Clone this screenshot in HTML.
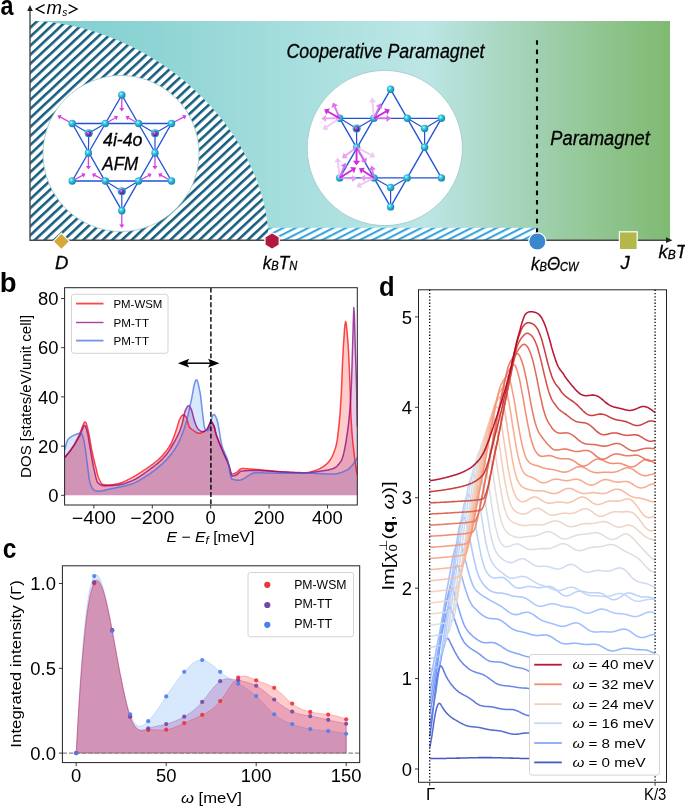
<!DOCTYPE html>
<html><head><meta charset="utf-8"><title>figure</title>
<style>html,body{margin:0;padding:0;background:#fff;}svg{display:block;will-change:transform;}</style>
</head><body>
<svg width="685" height="812" viewBox="0 0 685 812" font-family='"Liberation Sans", sans-serif'>
<defs>
<linearGradient id="bgA" x1="30" y1="0" x2="670" y2="0" gradientUnits="userSpaceOnUse">
<stop offset="0" stop-color="#80cfd1"/>
<stop offset="0.102" stop-color="#86d1d3"/>
<stop offset="0.195" stop-color="#8fd4d4"/>
<stop offset="0.43" stop-color="#a8dfde"/>
<stop offset="0.617" stop-color="#bce6e5"/>
<stop offset="0.695" stop-color="#b0dcd0"/>
<stop offset="0.773" stop-color="#a3d3b6"/>
<stop offset="0.883" stop-color="#92c693"/>
<stop offset="1" stop-color="#7fba72"/>
</linearGradient>
<pattern id="hatchD" width="6.6" height="6.6" patternUnits="userSpaceOnUse" patternTransform="rotate(-43)">
<rect width="6.6" height="6.6" fill="#fff"/><rect y="0" width="6.6" height="2.55" fill="#155d80"/></pattern>
<pattern id="hatchL" width="5.7" height="5.7" patternUnits="userSpaceOnUse" patternTransform="rotate(-27)">
<rect width="5.7" height="5.7" fill="#fff"/><rect y="0" width="5.7" height="2.1" fill="#36a6de"/></pattern>
<radialGradient id="ballc" cx="0.38" cy="0.35" r="0.7">
<stop offset="0" stop-color="#c8f6ff"/><stop offset="0.35" stop-color="#38c2e0"/><stop offset="1" stop-color="#0a7fa6"/></radialGradient>
<radialGradient id="ballp" cx="0.38" cy="0.35" r="0.7">
<stop offset="0" stop-color="#e6a8ff"/><stop offset="0.4" stop-color="#9a2fc8"/><stop offset="1" stop-color="#5c1480"/></radialGradient>
</defs>
<rect width="685" height="812" fill="#fff"/>
<rect x="30" y="21" width="640" height="219" fill="url(#bgA)"/>
<path d="M30 21L32.2 21 34.7 21.1 37.3 21.2 39.9 21.3 42.6 21.5 45.4 21.7 48.1 22 50.9 22.3 53.8 22.7 56.6 23.1 59.5 23.5 62.4 24 65.3 24.5 68.2 25 71.1 25.6 74 26.3 77 26.9 79.9 27.6 82.9 28.4 85.8 29.2 88.8 30 91.7 30.9 94.7 31.8 97.6 32.8 100.5 33.7 103.5 34.8 106.4 35.8 109.3 36.9 112.2 38.1 115.2 39.3 118.1 40.5 121 41.7 123.8 43 126.7 44.3 129.6 45.7 132.4 47.1 135.2 48.5 138.1 50 140.9 51.5 143.7 53.1 146.4 54.6 149.2 56.2 151.9 57.9 154.6 59.6 157.3 61.3 160 63 162.7 64.8 165.3 66.6 167.9 68.4 170.5 70.3 173.1 72.2 175.7 74.1 178.2 76 180.7 78 183.2 80 185.6 82.1 188 84.1 190.4 86.2 192.8 88.4 195.1 90.5 197.4 92.7 199.7 94.9 202 97.1 204.2 99.4 206.4 101.6 208.6 103.9 210.7 106.2 212.8 108.6 214.8 110.9 216.9 113.3 218.9 115.7 220.8 118.2 222.8 120.6 224.7 123.1 226.5 125.5 228.3 128 230.1 130.6 231.9 133.1 233.6 135.6 235.3 138.2 236.9 140.8 238.5 143.4 240.1 146 241.6 148.6 243.1 151.2 244.5 153.8 245.9 156.5 247.3 159.1 248.6 161.8 249.9 164.5 251.1 167.2 252.3 169.8 253.5 172.5 254.6 175.2 255.7 177.9 256.7 180.6 257.7 183.3 258.7 186 259.6 188.8 260.4 191.5 261.3 194.2 262 196.9 262.8 199.6 263.5 202.2 264.1 204.9 264.7 207.6 265.3 210.3 265.8 212.9 266.3 215.5 266.7 218.2 267.1 220.8 267.4 223.3 267.7 225.9 267.9 228.4 268.1 230.9 268.3 233.3 268.4 235.7 268.5 238 268.5 240L30 240Z" fill="url(#hatchD)"/>
<rect x="268" y="227.8" width="269" height="12.4" fill="url(#hatchL)"/>
<circle cx="121" cy="153.5" r="78" fill="#fff" stroke="#9cc9c8" stroke-width="0.8"/>
<circle cx="384.8" cy="148" r="77.6" fill="#fff" stroke="#9cc9c8" stroke-width="0.8"/>
<line x1="537" y1="40.2" x2="537" y2="236" stroke="#000" stroke-width="2.1" stroke-dasharray="4.6 4.8"/>
<line x1="30" y1="240.2" x2="669" y2="240.2" stroke="#4a4a4a" stroke-width="1.4"/>
<path d="M672.5 240.2L666 237.3L666 243.1Z" fill="#222"/>
<line x1="30" y1="241" x2="30" y2="9" stroke="#4a4a4a" stroke-width="1.4"/>
<path d="M30 5L27.2 11L32.8 11Z" fill="#222"/>
<path d="M61.4 233.2L69.6 241.4L61.4 249.6L53.2 241.4Z" fill="#d8a73a" stroke="#fff" stroke-width="1.2"/>
<polygon points="272.1,232.8 279.2,236.9 279.2,245.1 272.1,249.2 265,245.1 265,236.9" fill="#b0193f" stroke="#fff" stroke-width="1.2"/>
<circle cx="537.3" cy="241.5" r="8.6" fill="#3a86cf" stroke="#fff" stroke-width="1.2"/>
<rect x="619.4" y="231.8" width="17.8" height="17.8" fill="#b4b84b" stroke="#fff" stroke-width="1.2"/>
<text x="0.5" y="14.7" font-size="27" text-anchor="start" font-weight="bold" fill="#000" textLength="13" lengthAdjust="spacingAndGlyphs" >a</text>
<path d="M44.6 4.6L36.2 9L44.6 13.4M68.6 4.6L77 9L68.6 13.4" fill="none" stroke="#000" stroke-width="1.35" stroke-linejoin="miter"/>
<text x="46.6" y="13.8" font-size="18" text-anchor="start" font-weight="normal" font-style="italic" fill="#000" textLength="15.5" lengthAdjust="spacingAndGlyphs" >m</text>
<text x="62.3" y="16.3" font-size="11.5" text-anchor="start" font-weight="normal" font-style="italic" fill="#000" textLength="5" lengthAdjust="spacingAndGlyphs" >s</text>
<text x="286.5" y="58" font-size="19.5" text-anchor="start" font-weight="normal" font-style="italic" fill="#000" textLength="198" lengthAdjust="spacingAndGlyphs" stroke="#000" stroke-width="0.3">Cooperative Paramagnet</text>
<text x="550.3" y="145" font-size="19.5" text-anchor="start" font-weight="normal" font-style="italic" fill="#000" textLength="99.5" lengthAdjust="spacingAndGlyphs" stroke="#000" stroke-width="0.3">Paramagnet</text>
<text x="103" y="145.7" font-size="18.5" text-anchor="start" font-weight="normal" font-style="italic" fill="#000" textLength="39.5" lengthAdjust="spacingAndGlyphs" stroke="#000" stroke-width="0.3">4i-4o</text>
<text x="102.3" y="169.6" font-size="18.5" text-anchor="start" font-weight="normal" font-style="italic" fill="#000" textLength="36" lengthAdjust="spacingAndGlyphs" stroke="#000" stroke-width="0.3">AFM</text>
<text x="55" y="269.4" font-size="18.5" text-anchor="start" font-weight="normal" font-style="italic" fill="#000" stroke="#000" stroke-width="0.3">D</text>
<text x="262.8" y="268.9" font-size="18.5" text-anchor="start" font-weight="normal" font-style="italic" fill="#000" textLength="34.5" lengthAdjust="spacingAndGlyphs" stroke="#000" stroke-width="0.3">k<tspan font-size="12" dy="1">B</tspan><tspan dy="-1">T</tspan><tspan font-size="12" dy="1">N</tspan></text>
<text x="531" y="269.9" font-size="18.5" text-anchor="start" font-weight="normal" font-style="italic" fill="#000" textLength="47.5" lengthAdjust="spacingAndGlyphs" stroke="#000" stroke-width="0.3">k<tspan font-size="12" dy="1">B</tspan><tspan dy="-1">&#920;</tspan><tspan font-size="12" dy="1">CW</tspan></text>
<text x="620.5" y="268.5" font-size="18.5" text-anchor="start" font-weight="normal" font-style="italic" fill="#000" stroke="#000" stroke-width="0.3">J</text>
<text x="658.5" y="257.7" font-size="18.5" text-anchor="start" font-weight="normal" font-style="italic" fill="#000" stroke="#000" stroke-width="0.3">k<tspan font-size="12" dy="1">B</tspan><tspan dy="-1">T</tspan></text>
<line x1="121.8" y1="95" x2="72.2" y2="181" stroke="#2152d8" stroke-width="1.35"/>
<line x1="72.2" y1="181" x2="171.5" y2="181" stroke="#2152d8" stroke-width="1.35"/>
<line x1="171.5" y1="181" x2="121.8" y2="95" stroke="#2152d8" stroke-width="1.35"/>
<line x1="121.8" y1="210.7" x2="72.2" y2="123.5" stroke="#2152d8" stroke-width="1.35"/>
<line x1="72.2" y1="123.5" x2="171.5" y2="123.5" stroke="#2152d8" stroke-width="1.35"/>
<line x1="171.5" y1="123.5" x2="121.8" y2="210.7" stroke="#2152d8" stroke-width="1.35"/>
<line x1="88.7" y1="133.3" x2="72.2" y2="123.5" stroke="#2152d8" stroke-width="1.2"/>
<line x1="88.7" y1="133.3" x2="105.4" y2="123.5" stroke="#2152d8" stroke-width="1.2"/>
<line x1="88.7" y1="133.3" x2="88.4" y2="153" stroke="#2152d8" stroke-width="1.2"/>
<line x1="155" y1="133.3" x2="171.5" y2="123.5" stroke="#2152d8" stroke-width="1.2"/>
<line x1="155" y1="133.3" x2="138.6" y2="123.5" stroke="#2152d8" stroke-width="1.2"/>
<line x1="155" y1="133.3" x2="155" y2="153" stroke="#2152d8" stroke-width="1.2"/>
<line x1="121.8" y1="191.2" x2="121.8" y2="210.7" stroke="#2152d8" stroke-width="1.2"/>
<line x1="121.8" y1="191.2" x2="105.4" y2="181" stroke="#2152d8" stroke-width="1.2"/>
<line x1="121.8" y1="191.2" x2="138.6" y2="181" stroke="#2152d8" stroke-width="1.2"/>
<g opacity="1"><line x1="121.8" y1="95" x2="121.8" y2="108.62" stroke="#d63ee6" stroke-width="1.3"/><path d="M121.8 111.5L119.2 108.12L124.4 108.12Z" fill="#d63ee6"/></g>
<g opacity="1"><line x1="105.4" y1="123.5" x2="115.5" y2="117.73" stroke="#d63ee6" stroke-width="1.3"/><path d="M118 116.3L116.36 120.23L113.78 115.72Z" fill="#d63ee6"/></g>
<g opacity="1"><line x1="138.6" y1="123.5" x2="128.12" y2="117.7" stroke="#d63ee6" stroke-width="1.3"/><path d="M125.6 116.3L129.82 115.66L127.3 120.21Z" fill="#d63ee6"/></g>
<g opacity="1"><line x1="72.2" y1="123.5" x2="60.03" y2="116.88" stroke="#d63ee6" stroke-width="1.3"/><path d="M57.5 115.5L61.71 114.83L59.23 119.4Z" fill="#d63ee6"/></g>
<g opacity="1"><line x1="171.5" y1="123.5" x2="183.96" y2="116.86" stroke="#d63ee6" stroke-width="1.3"/><path d="M186.5 115.5L184.74 119.38L182.29 114.8Z" fill="#d63ee6"/></g>
<g opacity="1"><line x1="88.4" y1="153" x2="88.4" y2="166.62" stroke="#d63ee6" stroke-width="1.3"/><path d="M88.4 169.5L85.8 166.12L91 166.12Z" fill="#d63ee6"/></g>
<g opacity="1"><line x1="155" y1="153" x2="155" y2="166.62" stroke="#d63ee6" stroke-width="1.3"/><path d="M155 169.5L152.4 166.12L157.6 166.12Z" fill="#d63ee6"/></g>
<g opacity="1"><line x1="72.2" y1="181" x2="82.97" y2="175.17" stroke="#d63ee6" stroke-width="1.3"/><path d="M85.5 173.8L83.77 177.7L81.29 173.12Z" fill="#d63ee6"/></g>
<g opacity="1"><line x1="105.4" y1="181" x2="94.54" y2="175.16" stroke="#d63ee6" stroke-width="1.3"/><path d="M92 173.8L96.21 173.11L93.75 177.69Z" fill="#d63ee6"/></g>
<g opacity="1"><line x1="138.6" y1="181" x2="149.08" y2="175.2" stroke="#d63ee6" stroke-width="1.3"/><path d="M151.6 173.8L149.9 177.71L147.38 173.16Z" fill="#d63ee6"/></g>
<g opacity="1"><line x1="171.5" y1="181" x2="160.73" y2="175.17" stroke="#d63ee6" stroke-width="1.3"/><path d="M158.2 173.8L162.41 173.12L159.93 177.7Z" fill="#d63ee6"/></g>
<g opacity="1"><line x1="121.8" y1="210.7" x2="121.8" y2="225.12" stroke="#d63ee6" stroke-width="1.3"/><path d="M121.8 228L119.2 224.62L124.4 224.62Z" fill="#d63ee6"/></g>
<circle cx="121.8" cy="95" r="3.7" fill="url(#ballc)"/>
<circle cx="121.8" cy="210.7" r="3.7" fill="url(#ballc)"/>
<circle cx="72.2" cy="123.5" r="3.7" fill="url(#ballc)"/>
<circle cx="72.2" cy="181" r="3.7" fill="url(#ballc)"/>
<circle cx="171.5" cy="123.5" r="3.7" fill="url(#ballc)"/>
<circle cx="171.5" cy="181" r="3.7" fill="url(#ballc)"/>
<circle cx="105.4" cy="123.5" r="3.7" fill="url(#ballc)"/>
<circle cx="138.6" cy="123.5" r="3.7" fill="url(#ballc)"/>
<circle cx="88.4" cy="153" r="3.7" fill="url(#ballc)"/>
<circle cx="155" cy="153" r="3.7" fill="url(#ballc)"/>
<circle cx="105.4" cy="181" r="3.7" fill="url(#ballc)"/>
<circle cx="138.6" cy="181" r="3.7" fill="url(#ballc)"/>
<circle cx="88.7" cy="133.3" r="4" fill="url(#ballc)"/>
<circle cx="88.7" cy="133.6" r="2.6" fill="url(#ballp)"/>
<circle cx="155" cy="133.3" r="4" fill="url(#ballc)"/>
<circle cx="155" cy="133.6" r="2.6" fill="url(#ballp)"/>
<circle cx="121.8" cy="191.2" r="4" fill="url(#ballc)"/>
<circle cx="121.8" cy="191.5" r="2.6" fill="url(#ballp)"/>
<line x1="390.6" y1="89.3" x2="339.7" y2="177.9" stroke="#2152d8" stroke-width="1.35"/>
<line x1="339.7" y1="177.9" x2="441.4" y2="177.9" stroke="#2152d8" stroke-width="1.35"/>
<line x1="441.4" y1="177.9" x2="390.6" y2="89.3" stroke="#2152d8" stroke-width="1.35"/>
<line x1="390.6" y1="206.9" x2="339.7" y2="118.3" stroke="#2152d8" stroke-width="1.35"/>
<line x1="339.7" y1="118.3" x2="441.4" y2="118.3" stroke="#2152d8" stroke-width="1.35"/>
<line x1="441.4" y1="118.3" x2="390.6" y2="206.9" stroke="#2152d8" stroke-width="1.35"/>
<line x1="356.6" y1="128.4" x2="339.7" y2="118.3" stroke="#2152d8" stroke-width="1.2"/>
<line x1="356.6" y1="128.4" x2="374" y2="118.3" stroke="#2152d8" stroke-width="1.2"/>
<line x1="356.6" y1="128.4" x2="356.6" y2="147.3" stroke="#2152d8" stroke-width="1.2"/>
<line x1="424.6" y1="128.4" x2="441.4" y2="118.3" stroke="#2152d8" stroke-width="1.2"/>
<line x1="424.6" y1="128.4" x2="407.2" y2="118.3" stroke="#2152d8" stroke-width="1.2"/>
<line x1="424.6" y1="128.4" x2="424.6" y2="147.3" stroke="#2152d8" stroke-width="1.2"/>
<line x1="390.6" y1="187.5" x2="390.6" y2="206.9" stroke="#2152d8" stroke-width="1.2"/>
<line x1="390.6" y1="187.5" x2="374" y2="177.9" stroke="#2152d8" stroke-width="1.2"/>
<line x1="390.6" y1="187.5" x2="407.2" y2="177.9" stroke="#2152d8" stroke-width="1.2"/>
<circle cx="390.6" cy="89.3" r="3.7" fill="url(#ballc)"/>
<circle cx="390.6" cy="206.9" r="3.7" fill="url(#ballc)"/>
<circle cx="339.7" cy="118.3" r="3.7" fill="url(#ballc)"/>
<circle cx="339.7" cy="177.9" r="3.7" fill="url(#ballc)"/>
<circle cx="441.4" cy="118.3" r="3.7" fill="url(#ballc)"/>
<circle cx="441.4" cy="177.9" r="3.7" fill="url(#ballc)"/>
<circle cx="374" cy="118.3" r="3.7" fill="url(#ballc)"/>
<circle cx="407.2" cy="118.3" r="3.7" fill="url(#ballc)"/>
<circle cx="356.6" cy="147.3" r="3.7" fill="url(#ballc)"/>
<circle cx="424.6" cy="147.3" r="3.7" fill="url(#ballc)"/>
<circle cx="374" cy="177.9" r="3.7" fill="url(#ballc)"/>
<circle cx="407.2" cy="177.9" r="3.7" fill="url(#ballc)"/>
<circle cx="356.6" cy="128.4" r="4" fill="url(#ballc)"/>
<circle cx="356.6" cy="128.7" r="2.6" fill="url(#ballp)"/>
<circle cx="424.6" cy="128.4" r="3.7" fill="url(#ballc)"/>
<circle cx="390.6" cy="187.5" r="3.7" fill="url(#ballc)"/>
<g opacity="0.95"><line x1="339.7" y1="118.3" x2="325.58" y2="118.38" stroke="#e89cf2" stroke-width="1.9"/><path d="M321.4 118.4L326.06 114.77L326.1 121.97Z" fill="#e89cf2"/></g>
<g opacity="0.95"><line x1="339.7" y1="118.3" x2="326.18" y2="127.29" stroke="#f0c4f8" stroke-width="1.9"/><path d="M322.7 129.6L324.6 124.01L328.59 130.01Z" fill="#f0c4f8"/></g>
<g opacity="0.95"><line x1="339.7" y1="118.3" x2="334.54" y2="106.24" stroke="#dc6cec" stroke-width="1.9"/><path d="M332.9 102.4L338.05 105.29L331.43 108.12Z" fill="#dc6cec"/></g>
<g opacity="0.95"><line x1="339.7" y1="118.3" x2="327.73" y2="111.47" stroke="#cc22dd" stroke-width="1.9"/><path d="M324.1 109.4L329.95 108.59L326.38 114.85Z" fill="#cc22dd"/></g>
<g opacity="0.95"><line x1="374" y1="118.3" x2="372.48" y2="101.76" stroke="#f0c4f8" stroke-width="1.9"/><path d="M372.1 97.6L376.11 101.93L368.94 102.59Z" fill="#f0c4f8"/></g>
<g opacity="0.95"><line x1="374" y1="118.3" x2="387.02" y2="118.38" stroke="#dc6cec" stroke-width="1.9"/><path d="M391.2 118.4L386.5 121.97L386.54 114.77Z" fill="#dc6cec"/></g>
<g opacity="0.95"><line x1="374" y1="118.3" x2="379.16" y2="107" stroke="#dc6cec" stroke-width="1.9"/><path d="M380.9 103.2L382.23 108.95L375.68 105.96Z" fill="#dc6cec"/></g>
<g opacity="0.95"><line x1="374" y1="118.3" x2="386.25" y2="111.44" stroke="#cc22dd" stroke-width="1.9"/><path d="M389.9 109.4L387.57 114.83L384.06 108.54Z" fill="#cc22dd"/></g>
<g opacity="0.95"><line x1="356.6" y1="147.3" x2="345.34" y2="155.78" stroke="#e89cf2" stroke-width="1.9"/><path d="M342 158.3L343.57 152.61L347.9 158.36Z" fill="#e89cf2"/></g>
<g opacity="0.95"><line x1="356.6" y1="147.3" x2="371.49" y2="155.07" stroke="#f0c4f8" stroke-width="1.9"/><path d="M375.2 157L369.39 158.03L372.72 151.64Z" fill="#f0c4f8"/></g>
<g opacity="0.95"><line x1="356.6" y1="147.3" x2="364.05" y2="159.72" stroke="#dc6cec" stroke-width="1.9"/><path d="M366.2 163.3L360.71 161.14L366.88 157.43Z" fill="#dc6cec"/></g>
<g opacity="0.95"><line x1="356.6" y1="147.3" x2="356.52" y2="161.22" stroke="#cc22dd" stroke-width="1.9"/><path d="M356.5 165.4L352.93 160.7L360.13 160.74Z" fill="#cc22dd"/></g>
<g opacity="0.95"><line x1="339.7" y1="177.9" x2="337.87" y2="161.55" stroke="#f0c4f8" stroke-width="1.9"/><path d="M337.4 157.4L341.5 161.65L334.34 162.45Z" fill="#f0c4f8"/></g>
<g opacity="0.95"><line x1="339.7" y1="177.9" x2="352.62" y2="178.5" stroke="#e89cf2" stroke-width="1.9"/><path d="M356.8 178.7L351.96 182.08L352.29 174.89Z" fill="#e89cf2"/></g>
<g opacity="0.95"><line x1="339.7" y1="177.9" x2="344.16" y2="166.68" stroke="#dc6cec" stroke-width="1.9"/><path d="M345.7 162.8L347.32 168.48L340.63 165.82Z" fill="#dc6cec"/></g>
<g opacity="0.95"><line x1="339.7" y1="177.9" x2="352.56" y2="169.82" stroke="#cc22dd" stroke-width="1.9"/><path d="M356.1 167.6L354.05 173.14L350.22 167.04Z" fill="#cc22dd"/></g>
<g opacity="0.95"><line x1="374" y1="177.9" x2="360.02" y2="185.09" stroke="#f0c4f8" stroke-width="1.9"/><path d="M356.3 187L358.82 181.66L362.11 188.06Z" fill="#f0c4f8"/></g>
<g opacity="0.95"><line x1="374" y1="177.9" x2="364.58" y2="178.04" stroke="#e89cf2" stroke-width="1.9"/><path d="M360.4 178.1L365.03 174.43L365.13 181.63Z" fill="#e89cf2"/></g>
<g opacity="0.95"><line x1="374" y1="177.9" x2="372.26" y2="169.59" stroke="#dc6cec" stroke-width="1.9"/><path d="M371.4 165.5L375.88 169.34L368.84 170.82Z" fill="#dc6cec"/></g>
<g opacity="0.95"><line x1="374" y1="177.9" x2="362.52" y2="170.55" stroke="#cc22dd" stroke-width="1.9"/><path d="M359 168.3L364.88 167.79L361 173.85Z" fill="#cc22dd"/></g>
<clipPath id="clipB"><rect x="64.6" y="287.7" width="292.7" height="217.3"/></clipPath>
<g clip-path="url(#clipB)">
<path d="M64.6 449.7L65.2 447.5 65.8 445.5 66.4 443.6 66.9 441.9 67.5 440.5 68.1 439.5 68.7 438.8 69.3 438.2 69.9 437.7 70.5 437.2 71.1 436.8 71.6 436.4 72.2 436.1 72.8 435.8 73.4 435.5 74 435.2 74.6 435 75.2 434.7 75.7 434.5 76.3 434.2 76.9 434 77.5 433.8 78.1 433.5 78.7 433.4 79.3 433.2 79.9 433.1 80.4 433 81 433 81.6 433.4 82.2 434.7 82.8 436.4 83.4 438.3 84 440.9 84.5 444.1 85.1 447.6 85.7 451.4 86.3 456 86.9 461 87.5 465.8 88.1 470.1 88.6 474.4 89.2 478.6 89.8 482 90.4 484.1 91 485.6 91.6 486.9 92.2 488 92.8 488.8 93.3 489.5 93.9 490 94.5 490.3 95.1 490.6 95.7 490.8 96.3 491 96.9 491.1 97.4 491.2 98 491.2 98.6 491.2 99.2 491.1 99.8 491.1 100.4 491 101 491 101.6 490.9 102.1 490.8 102.7 490.7 103.3 490.6 103.9 490.4 104.5 490.3 105.1 490.2 105.7 490 106.2 489.9 106.8 489.7 107.4 489.6 108 489.5 108.6 489.3 109.2 489.2 109.8 489 110.4 488.9 110.9 488.8 111.5 488.7 112.1 488.5 112.7 488.4 113.3 488.3 113.9 488.2 114.5 488.1 115 487.9 115.6 487.8 116.2 487.7 116.8 487.6 117.4 487.5 118 487.4 118.6 487.2 119.2 487.1 119.7 487 120.3 486.9 120.9 486.8 121.5 486.6 122.1 486.5 122.7 486.4 123.3 486.2 123.8 486.1 124.4 486 125 485.8 125.6 485.7 126.2 485.5 126.8 485.4 127.4 485.2 127.9 485 128.5 484.9 129.1 484.7 129.7 484.5 130.3 484.4 130.9 484.2 131.5 484 132.1 483.8 132.6 483.6 133.2 483.4 133.8 483.1 134.4 482.9 135 482.6 135.6 482.3 136.2 482.1 136.7 481.8 137.3 481.5 137.9 481.2 138.5 480.8 139.1 480.5 139.7 480.2 140.3 479.8 140.9 479.5 141.4 479.1 142 478.8 142.6 478.4 143.2 478.1 143.8 477.7 144.4 477.3 145 476.9 145.5 476.6 146.1 476.2 146.7 475.8 147.3 475.4 147.9 475 148.5 474.7 149.1 474.3 149.7 473.9 150.2 473.5 150.8 473.1 151.4 472.7 152 472.2 152.6 471.8 153.2 471.4 153.8 471 154.3 470.5 154.9 470.1 155.5 469.6 156.1 469.2 156.7 468.7 157.3 468.2 157.9 467.7 158.5 467.2 159 466.7 159.6 466.2 160.2 465.7 160.8 465.2 161.4 464.7 162 464.1 162.6 463.6 163.1 463 163.7 462.5 164.3 461.9 164.9 461.3 165.5 460.7 166.1 460.1 166.7 459.5 167.3 458.8 167.8 458.2 168.4 457.5 169 456.9 169.6 456.2 170.2 455.5 170.8 454.7 171.4 454 171.9 453.2 172.5 452.4 173.1 451.6 173.7 450.8 174.3 449.9 174.9 449 175.5 448.1 176 447.1 176.6 446.1 177.2 445.1 177.8 444 178.4 442.9 179 441.7 179.6 440.4 180.2 439.1 180.7 437.7 181.3 436.3 181.9 434.8 182.5 433.3 183.1 431.7 183.7 430 184.3 428.3 184.8 426.6 185.4 424.8 186 422.7 186.6 420.5 187.2 418.1 187.8 415.6 188.4 413.1 189 410.5 189.5 408 190.1 405.5 190.7 403 191.3 400.2 191.9 397.1 192.5 393.9 193.1 390.7 193.6 387.7 194.2 385 194.8 382.7 195.4 381 196 380 196.6 379.8 197.2 380.6 197.8 382.2 198.3 384.3 198.9 386.9 199.5 389.6 200.1 392.6 200.7 396.9 201.3 402.1 201.9 407.3 202.4 412 203 416.7 203.6 421.7 204.2 425.9 204.8 428.6 205.4 429.4 206 430 206.6 430.4 207.1 430.6 207.7 430.7 208.3 430.1 208.9 429 209.5 427.5 210.1 425.8 210.7 423.9 211.2 421.1 211.8 418.2 212.4 416 213 415 213.6 414.6 214.2 414.6 214.8 415.1 215.3 416 215.9 417.2 216.5 418.5 217.1 420.1 217.7 422.5 218.3 425.4 218.9 428.6 219.5 432.1 220 435.6 220.6 439.1 221.2 442.2 221.8 444.9 222.4 447 223 448.8 223.6 450.3 224.1 451.7 224.7 452.9 225.3 454.2 225.9 455.5 226.5 456.9 227.1 458.4 227.7 460.2 228.3 462.5 228.8 465.6 229.4 469 230 472.5 230.6 475.5 231.2 477.8 231.8 479 232.4 479.2 232.9 479.4 233.5 479.6 234.1 479.7 234.7 479.8 235.3 479.9 235.9 480 236.5 480.1 237.1 480.1 237.6 480.2 238.2 480.2 238.8 480.2 239.4 480.2 240 480.1 240.6 480 241.2 479.8 241.7 479.6 242.3 479.3 242.9 479.1 243.5 478.7 244.1 478.4 244.7 478.1 245.3 477.7 245.9 477.3 246.4 476.9 247 476.5 247.6 476.1 248.2 475.7 248.8 475.4 249.4 475 250 474.6 250.5 474.3 251.1 474 251.7 473.7 252.3 473.4 252.9 473.2 253.5 473 254.1 472.9 254.6 472.8 255.2 472.7 255.8 472.7 256.4 472.7 257 472.7 257.6 472.7 258.2 472.7 258.8 472.7 259.3 472.7 259.9 472.7 260.5 472.8 261.1 472.8 261.7 472.8 262.3 472.8 262.9 472.8 263.4 472.8 264 472.8 264.6 472.9 265.2 472.9 265.8 472.9 266.4 472.9 267 472.9 267.6 472.9 268.1 473 268.7 473 269.3 473 269.9 473 270.5 473 271.1 473.1 271.7 473.1 272.2 473.1 272.8 473.1 273.4 473.1 274 473.1 274.6 473.2 275.2 473.2 275.8 473.2 276.4 473.2 276.9 473.2 277.5 473.2 278.1 473.2 278.7 473.3 279.3 473.3 279.9 473.3 280.5 473.3 281 473.3 281.6 473.3 282.2 473.3 282.8 473.3 283.4 473.3 284 473.3 284.6 473.3 285.2 473.3 285.7 473.3 286.3 473.3 286.9 473.3 287.5 473.3 288.1 473.3 288.7 473.3 289.3 473.3 289.8 473.3 290.4 473.3 291 473.3 291.6 473.3 292.2 473.3 292.8 473.3 293.4 473.3 294 473.3 294.5 473.3 295.1 473.3 295.7 473.3 296.3 473.3 296.9 473.3 297.5 473.3 298.1 473.3 298.6 473.3 299.2 473.3 299.8 473.3 300.4 473.3 301 473.3 301.6 473.3 302.2 473.3 302.7 473.3 303.3 473.3 303.9 473.3 304.5 473.3 305.1 473.3 305.7 473.3 306.3 473.3 306.9 473.3 307.4 473.3 308 473.3 308.6 473.3 309.2 473.3 309.8 473.3 310.4 473.3 311 473.3 311.5 473.3 312.1 473.3 312.7 473.3 313.3 473.3 313.9 473.3 314.5 473.4 315.1 473.4 315.7 473.4 316.2 473.4 316.8 473.4 317.4 473.5 318 473.5 318.6 473.5 319.2 473.5 319.8 473.6 320.3 473.6 320.9 473.6 321.5 473.7 322.1 473.7 322.7 473.7 323.3 473.8 323.9 473.8 324.5 473.8 325 473.9 325.6 473.9 326.2 473.9 326.8 473.9 327.4 474 328 474 328.6 474 329.1 474 329.7 474 330.3 474.1 330.9 474.1 331.5 474.1 332.1 474.1 332.7 474.1 333.3 474.1 333.8 474.1 334.4 474.1 335 474 335.6 473.9 336.2 473.8 336.8 473.7 337.4 473.6 337.9 473.5 338.5 473.3 339.1 473.2 339.7 473 340.3 472.8 340.9 472.6 341.5 472.4 342 472.2 342.6 472 343.2 471.7 343.8 471.5 344.4 471.2 345 471 345.6 470.7 346.2 470.4 346.7 470.1 347.3 469.8 347.9 469.5 348.5 469.1 349.1 468.6 349.7 468.1 350.3 467.5 350.8 466.8 351.4 466.2 352 465.5 352.6 464.7 353.2 464 353.8 463.2 354.4 462.3 355 461.5 355.5 460.6 356.1 459.8 356.7 458.9 357.3 457.8L357.3 495.3L64.6 495.3Z" fill="#3c91f5" fill-opacity="0.2"/>
<path d="M64.6 457.6L65.2 457 65.8 456.4 66.4 455.7 66.9 455 67.5 454.3 68.1 453.6 68.7 452.9 69.3 452.1 69.9 451.3 70.5 450.5 71.1 449.7 71.6 448.9 72.2 448.1 72.8 447.2 73.4 446.4 74 445.5 74.6 444.6 75.2 443.7 75.7 442.7 76.3 441.7 76.9 440.7 77.5 439.6 78.1 438.6 78.7 437.5 79.3 436.4 79.9 435.3 80.4 434.1 81 432.7 81.6 431.1 82.2 429.5 82.8 428.1 83.4 426.8 84 425.9 84.5 425.4 85.1 425.5 85.7 426.6 86.3 428.4 86.9 430.6 87.5 432.9 88.1 435.6 88.6 439 89.2 442.7 89.8 446.5 90.4 449.9 91 453.2 91.6 456.5 92.2 459.8 92.8 463 93.3 466 93.9 468.7 94.5 471.3 95.1 474 95.7 476.7 96.3 479.1 96.9 481 97.4 482.3 98 482.9 98.6 483.4 99.2 483.9 99.8 484.3 100.4 484.6 101 485 101.6 485.2 102.1 485.4 102.7 485.6 103.3 485.7 103.9 485.7 104.5 485.7 105.1 485.7 105.7 485.7 106.2 485.7 106.8 485.7 107.4 485.6 108 485.6 108.6 485.6 109.2 485.6 109.8 485.5 110.4 485.5 110.9 485.5 111.5 485.5 112.1 485.4 112.7 485.4 113.3 485.3 113.9 485.3 114.5 485.2 115 485.2 115.6 485.2 116.2 485.1 116.8 485.1 117.4 485 118 485 118.6 484.9 119.2 484.8 119.7 484.7 120.3 484.6 120.9 484.5 121.5 484.3 122.1 484.2 122.7 484 123.3 483.9 123.8 483.7 124.4 483.5 125 483.3 125.6 483.1 126.2 482.9 126.8 482.7 127.4 482.5 127.9 482.3 128.5 482.1 129.1 481.8 129.7 481.6 130.3 481.4 130.9 481.1 131.5 480.9 132.1 480.7 132.6 480.4 133.2 480.2 133.8 479.9 134.4 479.6 135 479.3 135.6 479 136.2 478.7 136.7 478.3 137.3 478 137.9 477.6 138.5 477.3 139.1 476.9 139.7 476.5 140.3 476.1 140.9 475.7 141.4 475.3 142 474.9 142.6 474.5 143.2 474.1 143.8 473.7 144.4 473.2 145 472.8 145.5 472.4 146.1 472 146.7 471.5 147.3 471.1 147.9 470.7 148.5 470.3 149.1 469.9 149.7 469.4 150.2 469 150.8 468.6 151.4 468.2 152 467.7 152.6 467.3 153.2 466.8 153.8 466.4 154.3 465.9 154.9 465.5 155.5 465 156.1 464.5 156.7 464.1 157.3 463.6 157.9 463.1 158.5 462.6 159 462 159.6 461.5 160.2 461 160.8 460.4 161.4 459.8 162 459.3 162.6 458.7 163.1 458.1 163.7 457.4 164.3 456.8 164.9 456.1 165.5 455.5 166.1 454.7 166.7 454 167.3 453.2 167.8 452.4 168.4 451.6 169 450.7 169.6 449.8 170.2 448.9 170.8 448 171.4 447 171.9 446 172.5 445 173.1 444 173.7 443 174.3 441.9 174.9 440.9 175.5 439.8 176 438.7 176.6 437.6 177.2 436.4 177.8 435.2 178.4 434 179 432.6 179.6 431.3 180.2 429.8 180.7 428.2 181.3 426.6 181.9 424.8 182.5 422.4 183.1 419.6 183.7 416.8 184.3 414.1 184.8 411.9 185.4 410.4 186 409.1 186.6 407.9 187.2 406.9 187.8 406.1 188.4 405.7 189 405.8 189.5 406.3 190.1 407.1 190.7 408.2 191.3 409.3 191.9 411.1 192.5 413.4 193.1 415.9 193.6 418.1 194.2 419.9 194.8 421.7 195.4 423.4 196 425 196.6 426.4 197.2 427.7 197.8 428.6 198.3 429.2 198.9 429.8 199.5 430.3 200.1 430.7 200.7 431.1 201.3 431.4 201.9 431.5 202.4 431.6 203 431.5 203.6 431.4 204.2 431.2 204.8 431 205.4 430.6 206 430.3 206.6 429.9 207.1 429.3 207.7 428.3 208.3 426.9 208.9 425.4 209.5 424 210.1 422.8 210.7 422.1 211.2 422 211.8 422.4 212.4 423.1 213 424.1 213.6 425.2 214.2 426.4 214.8 428.3 215.3 430.9 215.9 433.5 216.5 435.8 217.1 437.5 217.7 439.2 218.3 440.7 218.9 442.2 219.5 443.6 220 445 220.6 446.3 221.2 447.7 221.8 449.1 222.4 450.4 223 451.8 223.6 453.1 224.1 454.4 224.7 455.7 225.3 456.9 225.9 458.2 226.5 459.5 227.1 460.8 227.7 462.2 228.3 463.7 228.8 465.3 229.4 467.1 230 469.6 230.6 472.3 231.2 474.5 231.8 475.9 232.4 476 232.9 475.9 233.5 475.8 234.1 475.6 234.7 475.5 235.3 475.3 235.9 475 236.5 474.8 237.1 474.4 237.6 473.9 238.2 473.4 238.8 472.8 239.4 472.2 240 471.8 240.6 471.4 241.2 471.1 241.7 471 242.3 470.9 242.9 470.9 243.5 470.9 244.1 470.8 244.7 470.8 245.3 470.8 245.9 470.7 246.4 470.7 247 470.7 247.6 470.6 248.2 470.6 248.8 470.6 249.4 470.6 250 470.6 250.5 470.6 251.1 470.5 251.7 470.5 252.3 470.5 252.9 470.5 253.5 470.5 254.1 470.5 254.6 470.5 255.2 470.5 255.8 470.5 256.4 470.5 257 470.5 257.6 470.5 258.2 470.5 258.8 470.5 259.3 470.6 259.9 470.6 260.5 470.6 261.1 470.6 261.7 470.6 262.3 470.7 262.9 470.7 263.4 470.7 264 470.8 264.6 470.8 265.2 470.8 265.8 470.8 266.4 470.9 267 470.9 267.6 471 268.1 471 268.7 471 269.3 471.1 269.9 471.1 270.5 471.2 271.1 471.2 271.7 471.2 272.2 471.3 272.8 471.3 273.4 471.4 274 471.4 274.6 471.5 275.2 471.5 275.8 471.5 276.4 471.6 276.9 471.6 277.5 471.7 278.1 471.7 278.7 471.7 279.3 471.8 279.9 471.8 280.5 471.8 281 471.9 281.6 471.9 282.2 471.9 282.8 472 283.4 472 284 472 284.6 472.1 285.2 472.1 285.7 472.1 286.3 472.2 286.9 472.2 287.5 472.2 288.1 472.3 288.7 472.3 289.3 472.3 289.8 472.4 290.4 472.4 291 472.4 291.6 472.5 292.2 472.5 292.8 472.5 293.4 472.6 294 472.6 294.5 472.6 295.1 472.7 295.7 472.7 296.3 472.7 296.9 472.8 297.5 472.8 298.1 472.8 298.6 472.8 299.2 472.9 299.8 472.9 300.4 472.9 301 472.9 301.6 472.9 302.2 473 302.7 473 303.3 473 303.9 473 304.5 473 305.1 473 305.7 473 306.3 473 306.9 473 307.4 472.9 308 472.9 308.6 472.9 309.2 472.8 309.8 472.7 310.4 472.7 311 472.6 311.5 472.5 312.1 472.4 312.7 472.3 313.3 472.3 313.9 472.2 314.5 472.1 315.1 472 315.7 471.9 316.2 471.8 316.8 471.7 317.4 471.6 318 471.5 318.6 471.4 319.2 471.3 319.8 471.2 320.3 471.1 320.9 471 321.5 471 322.1 470.9 322.7 470.8 323.3 470.7 323.9 470.6 324.5 470.5 325 470.5 325.6 470.4 326.2 470.3 326.8 470.2 327.4 470.1 328 469.9 328.6 469.8 329.1 469.7 329.7 469.6 330.3 469.4 330.9 469.2 331.5 469.1 332.1 468.9 332.7 468.7 333.3 468.5 333.8 468.3 334.4 468 335 467.6 335.6 467.2 336.2 466.8 336.8 466.3 337.4 465.7 337.9 465.1 338.5 464.4 339.1 463.7 339.7 462.9 340.3 462.1 340.9 461.2 341.5 460.2 342 458.9 342.6 457.3 343.2 455.3 343.8 452.9 344.4 450.2 345 447.2 345.6 444 346.2 440.6 346.7 437 347.3 433.1 347.9 428.8 348.5 423.8 349.1 418.1 349.7 411.5 350.3 403.9 350.8 395.1 351.4 383.7 352 365.8 352.6 346 353.2 325.4 353.8 307.6 354.4 314.9 355 336.6 355.5 354.6 356.1 370.8 356.7 391.6 357.3 426.4L357.3 495.3L64.6 495.3Z" fill="#800080" fill-opacity="0.2"/>
<path d="M64.6 457L65.2 456.5 65.8 455.9 66.4 455.3 66.9 454.7 67.5 454 68.1 453.3 68.7 452.6 69.3 451.8 69.9 451 70.5 450.2 71.1 449.4 71.6 448.5 72.2 447.6 72.8 446.7 73.4 445.8 74 444.9 74.6 444 75.2 442.9 75.7 441.8 76.3 440.7 76.9 439.5 77.5 438.3 78.1 437 78.7 435.8 79.3 434.5 79.9 433.3 80.4 432 81 430.5 81.6 428.9 82.2 427.2 82.8 425.6 83.4 424.2 84 423 84.5 422.2 85.1 421.9 85.7 422.3 86.3 423.6 86.9 425.5 87.5 427.8 88.1 430.2 88.6 432.6 89.2 435.5 89.8 438.9 90.4 442.5 91 446 91.6 449.2 92.2 452 92.8 454.7 93.3 457.3 93.9 459.7 94.5 462.2 95.1 464.5 95.7 466.9 96.3 469.3 96.9 471.8 97.4 474.1 98 476.2 98.6 478 99.2 479.3 99.8 480.6 100.4 481.7 101 482.7 101.6 483.6 102.1 484.1 102.7 484.4 103.3 484.5 103.9 484.6 104.5 484.7 105.1 484.8 105.7 484.8 106.2 484.9 106.8 484.9 107.4 485 108 485 108.6 485 109.2 485 109.8 485 110.4 484.9 110.9 484.9 111.5 484.8 112.1 484.8 112.7 484.7 113.3 484.6 113.9 484.5 114.5 484.4 115 484.3 115.6 484.2 116.2 484.1 116.8 483.9 117.4 483.8 118 483.7 118.6 483.6 119.2 483.4 119.7 483.2 120.3 483 120.9 482.8 121.5 482.6 122.1 482.4 122.7 482.2 123.3 481.9 123.8 481.7 124.4 481.4 125 481.1 125.6 480.9 126.2 480.6 126.8 480.3 127.4 480 127.9 479.7 128.5 479.4 129.1 479.1 129.7 478.8 130.3 478.5 130.9 478.2 131.5 477.9 132.1 477.6 132.6 477.3 133.2 477 133.8 476.6 134.4 476.3 135 476 135.6 475.6 136.2 475.3 136.7 474.9 137.3 474.5 137.9 474.2 138.5 473.8 139.1 473.4 139.7 473 140.3 472.6 140.9 472.3 141.4 471.9 142 471.5 142.6 471.1 143.2 470.7 143.8 470.3 144.4 469.9 145 469.5 145.5 469.1 146.1 468.8 146.7 468.4 147.3 468 147.9 467.6 148.5 467.2 149.1 466.8 149.7 466.4 150.2 466 150.8 465.6 151.4 465.2 152 464.7 152.6 464.3 153.2 463.9 153.8 463.4 154.3 463 154.9 462.5 155.5 462 156.1 461.5 156.7 461 157.3 460.5 157.9 460 158.5 459.5 159 458.9 159.6 458.4 160.2 457.8 160.8 457.2 161.4 456.6 162 456 162.6 455.3 163.1 454.7 163.7 454 164.3 453.3 164.9 452.6 165.5 451.9 166.1 451.1 166.7 450.4 167.3 449.6 167.8 448.7 168.4 447.9 169 447 169.6 446 170.2 445 170.8 444 171.4 442.9 171.9 441.7 172.5 440.3 173.1 438.9 173.7 437.3 174.3 435.7 174.9 434 175.5 432.3 176 430.6 176.6 428.9 177.2 427 177.8 425 178.4 423 179 421 179.6 419.5 180.2 418.3 180.7 417.4 181.3 416.5 181.9 415.7 182.5 415.2 183.1 414.8 183.7 414.8 184.3 415.1 184.8 415.6 185.4 416.2 186 416.9 186.6 418.1 187.2 420 187.8 422.1 188.4 424.3 189 426.1 189.5 427.3 190.1 427.9 190.7 428.5 191.3 429 191.9 429.5 192.5 429.9 193.1 430.2 193.6 430.6 194.2 431 194.8 431.4 195.4 431.8 196 432.2 196.6 432.5 197.2 432.8 197.8 433.1 198.3 433.2 198.9 433.3 199.5 433.3 200.1 433.2 200.7 433.1 201.3 432.9 201.9 432.7 202.4 432.4 203 432.1 203.6 431.8 204.2 431.5 204.8 431.2 205.4 430.7 206 430.2 206.6 429.6 207.1 428.9 207.7 428.1 208.3 427.3 208.9 426.2 209.5 424.4 210.1 422.6 210.7 421.4 211.2 421.3 211.8 421.8 212.4 422.9 213 424.2 213.6 425.5 214.2 427 214.8 428.9 215.3 431.1 215.9 433.2 216.5 435.1 217.1 436.7 217.7 438.3 218.3 439.8 218.9 441.3 219.5 442.7 220 444.1 220.6 445.4 221.2 446.8 221.8 448.2 222.4 449.7 223 451.1 223.6 452.4 224.1 453.8 224.7 455.2 225.3 456.5 225.9 457.9 226.5 459.3 227.1 460.7 227.7 462.1 228.3 463.6 228.8 465.1 229.4 466.8 230 469 230.6 471.3 231.2 473.1 231.8 474.1 232.4 474.1 232.9 474 233.5 473.8 234.1 473.6 234.7 473.3 235.3 473 235.9 472.8 236.5 472.4 237.1 472 237.6 471.5 238.2 470.9 238.8 470.3 239.4 469.8 240 469.3 240.6 468.9 241.2 468.7 241.7 468.6 242.3 468.6 242.9 468.6 243.5 468.6 244.1 468.6 244.7 468.7 245.3 468.7 245.9 468.7 246.4 468.7 247 468.8 247.6 468.8 248.2 468.9 248.8 468.9 249.4 468.9 250 469 250.5 469 251.1 469.1 251.7 469.1 252.3 469.2 252.9 469.2 253.5 469.3 254.1 469.3 254.6 469.3 255.2 469.4 255.8 469.4 256.4 469.5 257 469.5 257.6 469.6 258.2 469.6 258.8 469.7 259.3 469.7 259.9 469.8 260.5 469.8 261.1 469.9 261.7 469.9 262.3 470 262.9 470 263.4 470.1 264 470.2 264.6 470.2 265.2 470.3 265.8 470.3 266.4 470.4 267 470.5 267.6 470.5 268.1 470.6 268.7 470.6 269.3 470.7 269.9 470.8 270.5 470.8 271.1 470.9 271.7 471 272.2 471 272.8 471.1 273.4 471.1 274 471.2 274.6 471.2 275.2 471.3 275.8 471.4 276.4 471.4 276.9 471.5 277.5 471.5 278.1 471.6 278.7 471.6 279.3 471.7 279.9 471.7 280.5 471.7 281 471.8 281.6 471.8 282.2 471.8 282.8 471.9 283.4 471.9 284 471.9 284.6 472 285.2 472 285.7 472 286.3 472.1 286.9 472.1 287.5 472.1 288.1 472.1 288.7 472.2 289.3 472.2 289.8 472.2 290.4 472.3 291 472.3 291.6 472.3 292.2 472.3 292.8 472.4 293.4 472.4 294 472.4 294.5 472.5 295.1 472.5 295.7 472.5 296.3 472.5 296.9 472.5 297.5 472.6 298.1 472.6 298.6 472.6 299.2 472.6 299.8 472.6 300.4 472.6 301 472.7 301.6 472.7 302.2 472.7 302.7 472.7 303.3 472.7 303.9 472.7 304.5 472.7 305.1 472.7 305.7 472.7 306.3 472.7 306.9 472.6 307.4 472.6 308 472.5 308.6 472.4 309.2 472.3 309.8 472.1 310.4 472 311 471.8 311.5 471.7 312.1 471.5 312.7 471.3 313.3 471.1 313.9 470.9 314.5 470.7 315.1 470.5 315.7 470.3 316.2 470.1 316.8 469.9 317.4 469.7 318 469.4 318.6 469.2 319.2 468.9 319.8 468.6 320.3 468.3 320.9 468 321.5 467.7 322.1 467.3 322.7 467 323.3 466.6 323.9 466.2 324.5 465.7 325 465.3 325.6 464.8 326.2 464.3 326.8 463.8 327.4 463.2 328 462.6 328.6 462 329.1 461.3 329.7 460.5 330.3 459.7 330.9 458.7 331.5 457.7 332.1 456.6 332.7 455.3 333.3 454 333.8 452.5 334.4 451 335 449.3 335.6 447.4 336.2 445.3 336.8 442.5 337.4 438.8 337.9 434.4 338.5 429.4 339.1 423.9 339.7 417.8 340.3 409.8 340.9 400.3 341.5 389.7 342 376.3 342.6 361.5 343.2 349.6 343.8 340.1 344.4 331.1 345 324.4 345.6 321.6 346.2 323.4 346.7 328.3 347.3 334.3 347.9 341.5 348.5 351.1 349.1 362.9 349.7 376.7 350.3 392.9 350.8 412.6 351.4 424.4 352 432.9 352.6 439.8 353.2 445.6 353.8 450.9 354.4 455.9 355 460.6 355.5 464.9 356.1 468.7 356.7 471.9 357.3 474.5L357.3 495.3L64.6 495.3Z" fill="#ff0000" fill-opacity="0.2"/>
<path d="M64.6 457L65.2 456.5 65.8 455.9 66.4 455.3 66.9 454.7 67.5 454 68.1 453.3 68.7 452.6 69.3 451.8 69.9 451 70.5 450.2 71.1 449.4 71.6 448.5 72.2 447.6 72.8 446.7 73.4 445.8 74 444.9 74.6 444 75.2 442.9 75.7 441.8 76.3 440.7 76.9 439.5 77.5 438.3 78.1 437 78.7 435.8 79.3 434.5 79.9 433.3 80.4 432 81 430.5 81.6 428.9 82.2 427.2 82.8 425.6 83.4 424.2 84 423 84.5 422.2 85.1 421.9 85.7 422.3 86.3 423.6 86.9 425.5 87.5 427.8 88.1 430.2 88.6 432.6 89.2 435.5 89.8 438.9 90.4 442.5 91 446 91.6 449.2 92.2 452 92.8 454.7 93.3 457.3 93.9 459.7 94.5 462.2 95.1 464.5 95.7 466.9 96.3 469.3 96.9 471.8 97.4 474.1 98 476.2 98.6 478 99.2 479.3 99.8 480.6 100.4 481.7 101 482.7 101.6 483.6 102.1 484.1 102.7 484.4 103.3 484.5 103.9 484.6 104.5 484.7 105.1 484.8 105.7 484.8 106.2 484.9 106.8 484.9 107.4 485 108 485 108.6 485 109.2 485 109.8 485 110.4 484.9 110.9 484.9 111.5 484.8 112.1 484.8 112.7 484.7 113.3 484.6 113.9 484.5 114.5 484.4 115 484.3 115.6 484.2 116.2 484.1 116.8 483.9 117.4 483.8 118 483.7 118.6 483.6 119.2 483.4 119.7 483.2 120.3 483 120.9 482.8 121.5 482.6 122.1 482.4 122.7 482.2 123.3 481.9 123.8 481.7 124.4 481.4 125 481.1 125.6 480.9 126.2 480.6 126.8 480.3 127.4 480 127.9 479.7 128.5 479.4 129.1 479.1 129.7 478.8 130.3 478.5 130.9 478.2 131.5 477.9 132.1 477.6 132.6 477.3 133.2 477 133.8 476.6 134.4 476.3 135 476 135.6 475.6 136.2 475.3 136.7 474.9 137.3 474.5 137.9 474.2 138.5 473.8 139.1 473.4 139.7 473 140.3 472.6 140.9 472.3 141.4 471.9 142 471.5 142.6 471.1 143.2 470.7 143.8 470.3 144.4 469.9 145 469.5 145.5 469.1 146.1 468.8 146.7 468.4 147.3 468 147.9 467.6 148.5 467.2 149.1 466.8 149.7 466.4 150.2 466 150.8 465.6 151.4 465.2 152 464.7 152.6 464.3 153.2 463.9 153.8 463.4 154.3 463 154.9 462.5 155.5 462 156.1 461.5 156.7 461 157.3 460.5 157.9 460 158.5 459.5 159 458.9 159.6 458.4 160.2 457.8 160.8 457.2 161.4 456.6 162 456 162.6 455.3 163.1 454.7 163.7 454 164.3 453.3 164.9 452.6 165.5 451.9 166.1 451.1 166.7 450.4 167.3 449.6 167.8 448.7 168.4 447.9 169 447 169.6 446 170.2 445 170.8 444 171.4 442.9 171.9 441.7 172.5 440.3 173.1 438.9 173.7 437.3 174.3 435.7 174.9 434 175.5 432.3 176 430.6 176.6 428.9 177.2 427 177.8 425 178.4 423 179 421 179.6 419.5 180.2 418.3 180.7 417.4 181.3 416.5 181.9 415.7 182.5 415.2 183.1 414.8 183.7 414.8 184.3 415.1 184.8 415.6 185.4 416.2 186 416.9 186.6 418.1 187.2 420 187.8 422.1 188.4 424.3 189 426.1 189.5 427.3 190.1 427.9 190.7 428.5 191.3 429 191.9 429.5 192.5 429.9 193.1 430.2 193.6 430.6 194.2 431 194.8 431.4 195.4 431.8 196 432.2 196.6 432.5 197.2 432.8 197.8 433.1 198.3 433.2 198.9 433.3 199.5 433.3 200.1 433.2 200.7 433.1 201.3 432.9 201.9 432.7 202.4 432.4 203 432.1 203.6 431.8 204.2 431.5 204.8 431.2 205.4 430.7 206 430.2 206.6 429.6 207.1 428.9 207.7 428.1 208.3 427.3 208.9 426.2 209.5 424.4 210.1 422.6 210.7 421.4 211.2 421.3 211.8 421.8 212.4 422.9 213 424.2 213.6 425.5 214.2 427 214.8 428.9 215.3 431.1 215.9 433.2 216.5 435.1 217.1 436.7 217.7 438.3 218.3 439.8 218.9 441.3 219.5 442.7 220 444.1 220.6 445.4 221.2 446.8 221.8 448.2 222.4 449.7 223 451.1 223.6 452.4 224.1 453.8 224.7 455.2 225.3 456.5 225.9 457.9 226.5 459.3 227.1 460.7 227.7 462.1 228.3 463.6 228.8 465.1 229.4 466.8 230 469 230.6 471.3 231.2 473.1 231.8 474.1 232.4 474.1 232.9 474 233.5 473.8 234.1 473.6 234.7 473.3 235.3 473 235.9 472.8 236.5 472.4 237.1 472 237.6 471.5 238.2 470.9 238.8 470.3 239.4 469.8 240 469.3 240.6 468.9 241.2 468.7 241.7 468.6 242.3 468.6 242.9 468.6 243.5 468.6 244.1 468.6 244.7 468.7 245.3 468.7 245.9 468.7 246.4 468.7 247 468.8 247.6 468.8 248.2 468.9 248.8 468.9 249.4 468.9 250 469 250.5 469 251.1 469.1 251.7 469.1 252.3 469.2 252.9 469.2 253.5 469.3 254.1 469.3 254.6 469.3 255.2 469.4 255.8 469.4 256.4 469.5 257 469.5 257.6 469.6 258.2 469.6 258.8 469.7 259.3 469.7 259.9 469.8 260.5 469.8 261.1 469.9 261.7 469.9 262.3 470 262.9 470 263.4 470.1 264 470.2 264.6 470.2 265.2 470.3 265.8 470.3 266.4 470.4 267 470.5 267.6 470.5 268.1 470.6 268.7 470.6 269.3 470.7 269.9 470.8 270.5 470.8 271.1 470.9 271.7 471 272.2 471 272.8 471.1 273.4 471.1 274 471.2 274.6 471.2 275.2 471.3 275.8 471.4 276.4 471.4 276.9 471.5 277.5 471.5 278.1 471.6 278.7 471.6 279.3 471.7 279.9 471.7 280.5 471.7 281 471.8 281.6 471.8 282.2 471.8 282.8 471.9 283.4 471.9 284 471.9 284.6 472 285.2 472 285.7 472 286.3 472.1 286.9 472.1 287.5 472.1 288.1 472.1 288.7 472.2 289.3 472.2 289.8 472.2 290.4 472.3 291 472.3 291.6 472.3 292.2 472.3 292.8 472.4 293.4 472.4 294 472.4 294.5 472.5 295.1 472.5 295.7 472.5 296.3 472.5 296.9 472.5 297.5 472.6 298.1 472.6 298.6 472.6 299.2 472.6 299.8 472.6 300.4 472.6 301 472.7 301.6 472.7 302.2 472.7 302.7 472.7 303.3 472.7 303.9 472.7 304.5 472.7 305.1 472.7 305.7 472.7 306.3 472.7 306.9 472.6 307.4 472.6 308 472.5 308.6 472.4 309.2 472.3 309.8 472.1 310.4 472 311 471.8 311.5 471.7 312.1 471.5 312.7 471.3 313.3 471.1 313.9 470.9 314.5 470.7 315.1 470.5 315.7 470.3 316.2 470.1 316.8 469.9 317.4 469.7 318 469.4 318.6 469.2 319.2 468.9 319.8 468.6 320.3 468.3 320.9 468 321.5 467.7 322.1 467.3 322.7 467 323.3 466.6 323.9 466.2 324.5 465.7 325 465.3 325.6 464.8 326.2 464.3 326.8 463.8 327.4 463.2 328 462.6 328.6 462 329.1 461.3 329.7 460.5 330.3 459.7 330.9 458.7 331.5 457.7 332.1 456.6 332.7 455.3 333.3 454 333.8 452.5 334.4 451 335 449.3 335.6 447.4 336.2 445.3 336.8 442.5 337.4 438.8 337.9 434.4 338.5 429.4 339.1 423.9 339.7 417.8 340.3 409.8 340.9 400.3 341.5 389.7 342 376.3 342.6 361.5 343.2 349.6 343.8 340.1 344.4 331.1 345 324.4 345.6 321.6 346.2 323.4 346.7 328.3 347.3 334.3 347.9 341.5 348.5 351.1 349.1 362.9 349.7 376.7 350.3 392.9 350.8 412.6 351.4 424.4 352 432.9 352.6 439.8 353.2 445.6 353.8 450.9 354.4 455.9 355 460.6 355.5 464.9 356.1 468.7 356.7 471.9 357.3 474.5" fill="none" stroke="#ff0000" stroke-opacity="0.72" stroke-width="1.5" stroke-linejoin="round"/>
<path d="M64.6 457.6L65.2 457 65.8 456.4 66.4 455.7 66.9 455 67.5 454.3 68.1 453.6 68.7 452.9 69.3 452.1 69.9 451.3 70.5 450.5 71.1 449.7 71.6 448.9 72.2 448.1 72.8 447.2 73.4 446.4 74 445.5 74.6 444.6 75.2 443.7 75.7 442.7 76.3 441.7 76.9 440.7 77.5 439.6 78.1 438.6 78.7 437.5 79.3 436.4 79.9 435.3 80.4 434.1 81 432.7 81.6 431.1 82.2 429.5 82.8 428.1 83.4 426.8 84 425.9 84.5 425.4 85.1 425.5 85.7 426.6 86.3 428.4 86.9 430.6 87.5 432.9 88.1 435.6 88.6 439 89.2 442.7 89.8 446.5 90.4 449.9 91 453.2 91.6 456.5 92.2 459.8 92.8 463 93.3 466 93.9 468.7 94.5 471.3 95.1 474 95.7 476.7 96.3 479.1 96.9 481 97.4 482.3 98 482.9 98.6 483.4 99.2 483.9 99.8 484.3 100.4 484.6 101 485 101.6 485.2 102.1 485.4 102.7 485.6 103.3 485.7 103.9 485.7 104.5 485.7 105.1 485.7 105.7 485.7 106.2 485.7 106.8 485.7 107.4 485.6 108 485.6 108.6 485.6 109.2 485.6 109.8 485.5 110.4 485.5 110.9 485.5 111.5 485.5 112.1 485.4 112.7 485.4 113.3 485.3 113.9 485.3 114.5 485.2 115 485.2 115.6 485.2 116.2 485.1 116.8 485.1 117.4 485 118 485 118.6 484.9 119.2 484.8 119.7 484.7 120.3 484.6 120.9 484.5 121.5 484.3 122.1 484.2 122.7 484 123.3 483.9 123.8 483.7 124.4 483.5 125 483.3 125.6 483.1 126.2 482.9 126.8 482.7 127.4 482.5 127.9 482.3 128.5 482.1 129.1 481.8 129.7 481.6 130.3 481.4 130.9 481.1 131.5 480.9 132.1 480.7 132.6 480.4 133.2 480.2 133.8 479.9 134.4 479.6 135 479.3 135.6 479 136.2 478.7 136.7 478.3 137.3 478 137.9 477.6 138.5 477.3 139.1 476.9 139.7 476.5 140.3 476.1 140.9 475.7 141.4 475.3 142 474.9 142.6 474.5 143.2 474.1 143.8 473.7 144.4 473.2 145 472.8 145.5 472.4 146.1 472 146.7 471.5 147.3 471.1 147.9 470.7 148.5 470.3 149.1 469.9 149.7 469.4 150.2 469 150.8 468.6 151.4 468.2 152 467.7 152.6 467.3 153.2 466.8 153.8 466.4 154.3 465.9 154.9 465.5 155.5 465 156.1 464.5 156.7 464.1 157.3 463.6 157.9 463.1 158.5 462.6 159 462 159.6 461.5 160.2 461 160.8 460.4 161.4 459.8 162 459.3 162.6 458.7 163.1 458.1 163.7 457.4 164.3 456.8 164.9 456.1 165.5 455.5 166.1 454.7 166.7 454 167.3 453.2 167.8 452.4 168.4 451.6 169 450.7 169.6 449.8 170.2 448.9 170.8 448 171.4 447 171.9 446 172.5 445 173.1 444 173.7 443 174.3 441.9 174.9 440.9 175.5 439.8 176 438.7 176.6 437.6 177.2 436.4 177.8 435.2 178.4 434 179 432.6 179.6 431.3 180.2 429.8 180.7 428.2 181.3 426.6 181.9 424.8 182.5 422.4 183.1 419.6 183.7 416.8 184.3 414.1 184.8 411.9 185.4 410.4 186 409.1 186.6 407.9 187.2 406.9 187.8 406.1 188.4 405.7 189 405.8 189.5 406.3 190.1 407.1 190.7 408.2 191.3 409.3 191.9 411.1 192.5 413.4 193.1 415.9 193.6 418.1 194.2 419.9 194.8 421.7 195.4 423.4 196 425 196.6 426.4 197.2 427.7 197.8 428.6 198.3 429.2 198.9 429.8 199.5 430.3 200.1 430.7 200.7 431.1 201.3 431.4 201.9 431.5 202.4 431.6 203 431.5 203.6 431.4 204.2 431.2 204.8 431 205.4 430.6 206 430.3 206.6 429.9 207.1 429.3 207.7 428.3 208.3 426.9 208.9 425.4 209.5 424 210.1 422.8 210.7 422.1 211.2 422 211.8 422.4 212.4 423.1 213 424.1 213.6 425.2 214.2 426.4 214.8 428.3 215.3 430.9 215.9 433.5 216.5 435.8 217.1 437.5 217.7 439.2 218.3 440.7 218.9 442.2 219.5 443.6 220 445 220.6 446.3 221.2 447.7 221.8 449.1 222.4 450.4 223 451.8 223.6 453.1 224.1 454.4 224.7 455.7 225.3 456.9 225.9 458.2 226.5 459.5 227.1 460.8 227.7 462.2 228.3 463.7 228.8 465.3 229.4 467.1 230 469.6 230.6 472.3 231.2 474.5 231.8 475.9 232.4 476 232.9 475.9 233.5 475.8 234.1 475.6 234.7 475.5 235.3 475.3 235.9 475 236.5 474.8 237.1 474.4 237.6 473.9 238.2 473.4 238.8 472.8 239.4 472.2 240 471.8 240.6 471.4 241.2 471.1 241.7 471 242.3 470.9 242.9 470.9 243.5 470.9 244.1 470.8 244.7 470.8 245.3 470.8 245.9 470.7 246.4 470.7 247 470.7 247.6 470.6 248.2 470.6 248.8 470.6 249.4 470.6 250 470.6 250.5 470.6 251.1 470.5 251.7 470.5 252.3 470.5 252.9 470.5 253.5 470.5 254.1 470.5 254.6 470.5 255.2 470.5 255.8 470.5 256.4 470.5 257 470.5 257.6 470.5 258.2 470.5 258.8 470.5 259.3 470.6 259.9 470.6 260.5 470.6 261.1 470.6 261.7 470.6 262.3 470.7 262.9 470.7 263.4 470.7 264 470.8 264.6 470.8 265.2 470.8 265.8 470.8 266.4 470.9 267 470.9 267.6 471 268.1 471 268.7 471 269.3 471.1 269.9 471.1 270.5 471.2 271.1 471.2 271.7 471.2 272.2 471.3 272.8 471.3 273.4 471.4 274 471.4 274.6 471.5 275.2 471.5 275.8 471.5 276.4 471.6 276.9 471.6 277.5 471.7 278.1 471.7 278.7 471.7 279.3 471.8 279.9 471.8 280.5 471.8 281 471.9 281.6 471.9 282.2 471.9 282.8 472 283.4 472 284 472 284.6 472.1 285.2 472.1 285.7 472.1 286.3 472.2 286.9 472.2 287.5 472.2 288.1 472.3 288.7 472.3 289.3 472.3 289.8 472.4 290.4 472.4 291 472.4 291.6 472.5 292.2 472.5 292.8 472.5 293.4 472.6 294 472.6 294.5 472.6 295.1 472.7 295.7 472.7 296.3 472.7 296.9 472.8 297.5 472.8 298.1 472.8 298.6 472.8 299.2 472.9 299.8 472.9 300.4 472.9 301 472.9 301.6 472.9 302.2 473 302.7 473 303.3 473 303.9 473 304.5 473 305.1 473 305.7 473 306.3 473 306.9 473 307.4 472.9 308 472.9 308.6 472.9 309.2 472.8 309.8 472.7 310.4 472.7 311 472.6 311.5 472.5 312.1 472.4 312.7 472.3 313.3 472.3 313.9 472.2 314.5 472.1 315.1 472 315.7 471.9 316.2 471.8 316.8 471.7 317.4 471.6 318 471.5 318.6 471.4 319.2 471.3 319.8 471.2 320.3 471.1 320.9 471 321.5 471 322.1 470.9 322.7 470.8 323.3 470.7 323.9 470.6 324.5 470.5 325 470.5 325.6 470.4 326.2 470.3 326.8 470.2 327.4 470.1 328 469.9 328.6 469.8 329.1 469.7 329.7 469.6 330.3 469.4 330.9 469.2 331.5 469.1 332.1 468.9 332.7 468.7 333.3 468.5 333.8 468.3 334.4 468 335 467.6 335.6 467.2 336.2 466.8 336.8 466.3 337.4 465.7 337.9 465.1 338.5 464.4 339.1 463.7 339.7 462.9 340.3 462.1 340.9 461.2 341.5 460.2 342 458.9 342.6 457.3 343.2 455.3 343.8 452.9 344.4 450.2 345 447.2 345.6 444 346.2 440.6 346.7 437 347.3 433.1 347.9 428.8 348.5 423.8 349.1 418.1 349.7 411.5 350.3 403.9 350.8 395.1 351.4 383.7 352 365.8 352.6 346 353.2 325.4 353.8 307.6 354.4 314.9 355 336.6 355.5 354.6 356.1 370.8 356.7 391.6 357.3 426.4" fill="none" stroke="#800080" stroke-opacity="0.72" stroke-width="1.5" stroke-linejoin="round"/>
<path d="M64.6 449.7L65.2 447.5 65.8 445.5 66.4 443.6 66.9 441.9 67.5 440.5 68.1 439.5 68.7 438.8 69.3 438.2 69.9 437.7 70.5 437.2 71.1 436.8 71.6 436.4 72.2 436.1 72.8 435.8 73.4 435.5 74 435.2 74.6 435 75.2 434.7 75.7 434.5 76.3 434.2 76.9 434 77.5 433.8 78.1 433.5 78.7 433.4 79.3 433.2 79.9 433.1 80.4 433 81 433 81.6 433.4 82.2 434.7 82.8 436.4 83.4 438.3 84 440.9 84.5 444.1 85.1 447.6 85.7 451.4 86.3 456 86.9 461 87.5 465.8 88.1 470.1 88.6 474.4 89.2 478.6 89.8 482 90.4 484.1 91 485.6 91.6 486.9 92.2 488 92.8 488.8 93.3 489.5 93.9 490 94.5 490.3 95.1 490.6 95.7 490.8 96.3 491 96.9 491.1 97.4 491.2 98 491.2 98.6 491.2 99.2 491.1 99.8 491.1 100.4 491 101 491 101.6 490.9 102.1 490.8 102.7 490.7 103.3 490.6 103.9 490.4 104.5 490.3 105.1 490.2 105.7 490 106.2 489.9 106.8 489.7 107.4 489.6 108 489.5 108.6 489.3 109.2 489.2 109.8 489 110.4 488.9 110.9 488.8 111.5 488.7 112.1 488.5 112.7 488.4 113.3 488.3 113.9 488.2 114.5 488.1 115 487.9 115.6 487.8 116.2 487.7 116.8 487.6 117.4 487.5 118 487.4 118.6 487.2 119.2 487.1 119.7 487 120.3 486.9 120.9 486.8 121.5 486.6 122.1 486.5 122.7 486.4 123.3 486.2 123.8 486.1 124.4 486 125 485.8 125.6 485.7 126.2 485.5 126.8 485.4 127.4 485.2 127.9 485 128.5 484.9 129.1 484.7 129.7 484.5 130.3 484.4 130.9 484.2 131.5 484 132.1 483.8 132.6 483.6 133.2 483.4 133.8 483.1 134.4 482.9 135 482.6 135.6 482.3 136.2 482.1 136.7 481.8 137.3 481.5 137.9 481.2 138.5 480.8 139.1 480.5 139.7 480.2 140.3 479.8 140.9 479.5 141.4 479.1 142 478.8 142.6 478.4 143.2 478.1 143.8 477.7 144.4 477.3 145 476.9 145.5 476.6 146.1 476.2 146.7 475.8 147.3 475.4 147.9 475 148.5 474.7 149.1 474.3 149.7 473.9 150.2 473.5 150.8 473.1 151.4 472.7 152 472.2 152.6 471.8 153.2 471.4 153.8 471 154.3 470.5 154.9 470.1 155.5 469.6 156.1 469.2 156.7 468.7 157.3 468.2 157.9 467.7 158.5 467.2 159 466.7 159.6 466.2 160.2 465.7 160.8 465.2 161.4 464.7 162 464.1 162.6 463.6 163.1 463 163.7 462.5 164.3 461.9 164.9 461.3 165.5 460.7 166.1 460.1 166.7 459.5 167.3 458.8 167.8 458.2 168.4 457.5 169 456.9 169.6 456.2 170.2 455.5 170.8 454.7 171.4 454 171.9 453.2 172.5 452.4 173.1 451.6 173.7 450.8 174.3 449.9 174.9 449 175.5 448.1 176 447.1 176.6 446.1 177.2 445.1 177.8 444 178.4 442.9 179 441.7 179.6 440.4 180.2 439.1 180.7 437.7 181.3 436.3 181.9 434.8 182.5 433.3 183.1 431.7 183.7 430 184.3 428.3 184.8 426.6 185.4 424.8 186 422.7 186.6 420.5 187.2 418.1 187.8 415.6 188.4 413.1 189 410.5 189.5 408 190.1 405.5 190.7 403 191.3 400.2 191.9 397.1 192.5 393.9 193.1 390.7 193.6 387.7 194.2 385 194.8 382.7 195.4 381 196 380 196.6 379.8 197.2 380.6 197.8 382.2 198.3 384.3 198.9 386.9 199.5 389.6 200.1 392.6 200.7 396.9 201.3 402.1 201.9 407.3 202.4 412 203 416.7 203.6 421.7 204.2 425.9 204.8 428.6 205.4 429.4 206 430 206.6 430.4 207.1 430.6 207.7 430.7 208.3 430.1 208.9 429 209.5 427.5 210.1 425.8 210.7 423.9 211.2 421.1 211.8 418.2 212.4 416 213 415 213.6 414.6 214.2 414.6 214.8 415.1 215.3 416 215.9 417.2 216.5 418.5 217.1 420.1 217.7 422.5 218.3 425.4 218.9 428.6 219.5 432.1 220 435.6 220.6 439.1 221.2 442.2 221.8 444.9 222.4 447 223 448.8 223.6 450.3 224.1 451.7 224.7 452.9 225.3 454.2 225.9 455.5 226.5 456.9 227.1 458.4 227.7 460.2 228.3 462.5 228.8 465.6 229.4 469 230 472.5 230.6 475.5 231.2 477.8 231.8 479 232.4 479.2 232.9 479.4 233.5 479.6 234.1 479.7 234.7 479.8 235.3 479.9 235.9 480 236.5 480.1 237.1 480.1 237.6 480.2 238.2 480.2 238.8 480.2 239.4 480.2 240 480.1 240.6 480 241.2 479.8 241.7 479.6 242.3 479.3 242.9 479.1 243.5 478.7 244.1 478.4 244.7 478.1 245.3 477.7 245.9 477.3 246.4 476.9 247 476.5 247.6 476.1 248.2 475.7 248.8 475.4 249.4 475 250 474.6 250.5 474.3 251.1 474 251.7 473.7 252.3 473.4 252.9 473.2 253.5 473 254.1 472.9 254.6 472.8 255.2 472.7 255.8 472.7 256.4 472.7 257 472.7 257.6 472.7 258.2 472.7 258.8 472.7 259.3 472.7 259.9 472.7 260.5 472.8 261.1 472.8 261.7 472.8 262.3 472.8 262.9 472.8 263.4 472.8 264 472.8 264.6 472.9 265.2 472.9 265.8 472.9 266.4 472.9 267 472.9 267.6 472.9 268.1 473 268.7 473 269.3 473 269.9 473 270.5 473 271.1 473.1 271.7 473.1 272.2 473.1 272.8 473.1 273.4 473.1 274 473.1 274.6 473.2 275.2 473.2 275.8 473.2 276.4 473.2 276.9 473.2 277.5 473.2 278.1 473.2 278.7 473.3 279.3 473.3 279.9 473.3 280.5 473.3 281 473.3 281.6 473.3 282.2 473.3 282.8 473.3 283.4 473.3 284 473.3 284.6 473.3 285.2 473.3 285.7 473.3 286.3 473.3 286.9 473.3 287.5 473.3 288.1 473.3 288.7 473.3 289.3 473.3 289.8 473.3 290.4 473.3 291 473.3 291.6 473.3 292.2 473.3 292.8 473.3 293.4 473.3 294 473.3 294.5 473.3 295.1 473.3 295.7 473.3 296.3 473.3 296.9 473.3 297.5 473.3 298.1 473.3 298.6 473.3 299.2 473.3 299.8 473.3 300.4 473.3 301 473.3 301.6 473.3 302.2 473.3 302.7 473.3 303.3 473.3 303.9 473.3 304.5 473.3 305.1 473.3 305.7 473.3 306.3 473.3 306.9 473.3 307.4 473.3 308 473.3 308.6 473.3 309.2 473.3 309.8 473.3 310.4 473.3 311 473.3 311.5 473.3 312.1 473.3 312.7 473.3 313.3 473.3 313.9 473.3 314.5 473.4 315.1 473.4 315.7 473.4 316.2 473.4 316.8 473.4 317.4 473.5 318 473.5 318.6 473.5 319.2 473.5 319.8 473.6 320.3 473.6 320.9 473.6 321.5 473.7 322.1 473.7 322.7 473.7 323.3 473.8 323.9 473.8 324.5 473.8 325 473.9 325.6 473.9 326.2 473.9 326.8 473.9 327.4 474 328 474 328.6 474 329.1 474 329.7 474 330.3 474.1 330.9 474.1 331.5 474.1 332.1 474.1 332.7 474.1 333.3 474.1 333.8 474.1 334.4 474.1 335 474 335.6 473.9 336.2 473.8 336.8 473.7 337.4 473.6 337.9 473.5 338.5 473.3 339.1 473.2 339.7 473 340.3 472.8 340.9 472.6 341.5 472.4 342 472.2 342.6 472 343.2 471.7 343.8 471.5 344.4 471.2 345 471 345.6 470.7 346.2 470.4 346.7 470.1 347.3 469.8 347.9 469.5 348.5 469.1 349.1 468.6 349.7 468.1 350.3 467.5 350.8 466.8 351.4 466.2 352 465.5 352.6 464.7 353.2 464 353.8 463.2 354.4 462.3 355 461.5 355.5 460.6 356.1 459.8 356.7 458.9 357.3 457.8" fill="none" stroke="#4169e1" stroke-opacity="0.72" stroke-width="1.5" stroke-linejoin="round"/>
</g>
<line x1="210.9" y1="287.7" x2="210.9" y2="505" stroke="#000" stroke-width="1.4" stroke-dasharray="4.9 2.4"/>
<line x1="186" y1="363.2" x2="211" y2="363.2" stroke="#000" stroke-width="1.5"/>
<path d="M177.9 363.2L189.2 358.8L187 363.2L189.2 367.6Z" fill="#000"/>
<path d="M219.4 363.2L208.1 358.8L210.3 363.2L208.1 367.6Z" fill="#000"/>
<rect x="64.6" y="287.7" width="292.7" height="217.3" fill="none" stroke="#222" stroke-width="1"/>
<line x1="61.1" y1="495.3" x2="64.6" y2="495.3" stroke="#222" stroke-width="0.9"/>
<text x="58.6" y="501.9" font-size="17.6" text-anchor="end" font-weight="normal" fill="#000" textLength="10.24" lengthAdjust="spacingAndGlyphs" >0</text>
<line x1="61.1" y1="446.1" x2="64.6" y2="446.1" stroke="#222" stroke-width="0.9"/>
<text x="58.6" y="452.7" font-size="17.6" text-anchor="end" font-weight="normal" fill="#000" textLength="20.48" lengthAdjust="spacingAndGlyphs" >20</text>
<line x1="61.1" y1="396.9" x2="64.6" y2="396.9" stroke="#222" stroke-width="0.9"/>
<text x="58.6" y="403.5" font-size="17.6" text-anchor="end" font-weight="normal" fill="#000" textLength="20.48" lengthAdjust="spacingAndGlyphs" >40</text>
<line x1="61.1" y1="347.7" x2="64.6" y2="347.7" stroke="#222" stroke-width="0.9"/>
<text x="58.6" y="354.3" font-size="17.6" text-anchor="end" font-weight="normal" fill="#000" textLength="20.48" lengthAdjust="spacingAndGlyphs" >60</text>
<line x1="61.1" y1="298.5" x2="64.6" y2="298.5" stroke="#222" stroke-width="0.9"/>
<text x="58.6" y="305.1" font-size="17.6" text-anchor="end" font-weight="normal" fill="#000" textLength="20.48" lengthAdjust="spacingAndGlyphs" >80</text>
<line x1="93.9" y1="505" x2="93.9" y2="508.5" stroke="#222" stroke-width="0.9"/>
<text x="93.9" y="523.5" font-size="17.6" text-anchor="middle" font-weight="normal" fill="#000" textLength="44.22" lengthAdjust="spacingAndGlyphs" >&#8722;400</text>
<line x1="152.3" y1="505" x2="152.3" y2="508.5" stroke="#222" stroke-width="0.9"/>
<text x="152.3" y="523.5" font-size="17.6" text-anchor="middle" font-weight="normal" fill="#000" textLength="44.22" lengthAdjust="spacingAndGlyphs" >&#8722;200</text>
<line x1="210.7" y1="505" x2="210.7" y2="508.5" stroke="#222" stroke-width="0.9"/>
<text x="210.7" y="523.5" font-size="17.6" text-anchor="middle" font-weight="normal" fill="#000" textLength="10.24" lengthAdjust="spacingAndGlyphs" >0</text>
<line x1="269.1" y1="505" x2="269.1" y2="508.5" stroke="#222" stroke-width="0.9"/>
<text x="269.1" y="523.5" font-size="17.6" text-anchor="middle" font-weight="normal" fill="#000" textLength="30.72" lengthAdjust="spacingAndGlyphs" >200</text>
<line x1="327.5" y1="505" x2="327.5" y2="508.5" stroke="#222" stroke-width="0.9"/>
<text x="327.5" y="523.5" font-size="17.6" text-anchor="middle" font-weight="normal" fill="#000" textLength="30.72" lengthAdjust="spacingAndGlyphs" >400</text>
<text x="166.5" y="541.9" font-size="15" text-anchor="start" font-weight="normal" fill="#000" textLength="88" lengthAdjust="spacingAndGlyphs" ><tspan font-style="italic">E</tspan> &#8722; <tspan font-style="italic">E</tspan><tspan font-style="italic" font-size="11" dy="2.5">f</tspan><tspan dy="-2.5"> [meV]</tspan></text>
<text transform="translate(30.6 396.4) rotate(-90)" font-size="15" text-anchor="middle" textLength="163" lengthAdjust="spacingAndGlyphs">DOS [states/eV/unit cell]</text>
<rect x="71.5" y="294.3" width="96.5" height="59" rx="2.5" fill="#fff" stroke="#cfcfcf" stroke-width="0.9"/>
<line x1="76" y1="303.6" x2="103.5" y2="303.6" stroke="#ff0000" stroke-opacity="0.72" stroke-width="1.8"/>
<line x1="76" y1="322.5" x2="103.5" y2="322.5" stroke="#800080" stroke-opacity="0.72" stroke-width="1.4"/>
<line x1="76" y1="340.6" x2="103.5" y2="340.6" stroke="#4169e1" stroke-opacity="0.72" stroke-width="1.8"/>
<text x="113.5" y="308" font-size="11.6" text-anchor="start" font-weight="normal" fill="#000" textLength="48.8" lengthAdjust="spacingAndGlyphs" >PM-WSM</text>
<text x="113.5" y="326.9" font-size="11.6" text-anchor="start" font-weight="normal" fill="#000" textLength="35.5" lengthAdjust="spacingAndGlyphs" >PM-TT</text>
<text x="113.5" y="345" font-size="11.6" text-anchor="start" font-weight="normal" fill="#000" textLength="35.5" lengthAdjust="spacingAndGlyphs" >PM-TT</text>
<text x="-0.2" y="291.6" font-size="27.5" text-anchor="start" font-weight="bold" fill="#000" >b</text>
<path d="M76.2 753.1L77.1 735.3 78 718.6 78.9 703 79.8 688.4 80.7 674.9 81.6 662.4 82.5 650.8 83.4 640.1 84.3 630.4 85.2 621.6 86.1 613.6 87 606.5 87.9 600.2 88.8 594.6 89.7 589.8 90.6 585.7 91.6 582.3 92.5 579.5 93.4 577.4 94.3 576 95.2 575 96.1 574.7 97 574.9 97.9 575.5 98.8 576.7 99.7 578.3 100.6 580.3 101.5 582.7 102.4 585.4 103.3 588.5 104.2 591.9 105.1 595.6 106 599.5 106.9 603.6 107.8 608 108.7 612.5 109.6 617.1 110.5 621.9 111.4 626.7 112.3 631.6 113.2 636.6 114.1 641.5 115 646.5 115.9 651.4 116.8 656.3 117.7 661.1 118.6 665.9 119.5 670.6 120.4 675.2 121.4 679.7 122.3 684.1 123.2 688.3 124.1 692.4 125 696.2 125.9 699.9 126.8 703.4 127.7 706.7 128.6 709.7 129.5 712.4 130.4 714.9 131.3 717.1 132.2 719 133.1 720.7 134 722.1 134.9 723.3 135.8 724.3 136.7 725.1 137.6 725.6 138.5 726 139.4 726.2 140.3 726.2 141.2 726.1 142.1 725.8 143 725.4 143.9 724.9 144.8 724.3 145.7 723.5 146.6 722.8 147.5 721.9 148.4 721 149.3 720 150.2 719 151.1 717.9 152.1 716.8 153 715.7 153.9 714.5 154.8 713.3 155.7 712 156.6 710.8 157.5 709.5 158.4 708.2 159.3 706.9 160.2 705.5 161.1 704.2 162 702.8 162.9 701.5 163.8 700.1 164.7 698.7 165.6 697.4 166.5 696 167.4 694.6 168.3 693.3 169.2 692 170.1 690.6 171 689.3 171.9 688 172.8 686.7 173.7 685.4 174.6 684.2 175.5 682.9 176.4 681.7 177.3 680.5 178.2 679.3 179.1 678.1 180 676.9 180.9 675.8 181.9 674.7 182.8 673.6 183.7 672.5 184.6 671.4 185.5 670.4 186.4 669.4 187.3 668.4 188.2 667.5 189.1 666.6 190 665.8 190.9 665 191.8 664.2 192.7 663.5 193.6 662.8 194.5 662.2 195.4 661.7 196.3 661.2 197.2 660.8 198.1 660.5 199 660.3 199.9 660.1 200.8 660 201.7 660 202.6 660 203.5 660.2 204.4 660.4 205.3 660.8 206.2 661.1 207.1 661.6 208 662.1 208.9 662.7 209.8 663.3 210.7 663.9 211.7 664.6 212.6 665.3 213.5 666.1 214.4 666.8 215.3 667.6 216.2 668.4 217.1 669.2 218 670 218.9 670.7 219.8 671.5 220.7 672.3 221.6 673 222.5 673.7 223.4 674.4 224.3 675 225.2 675.7 226.1 676.3 227 676.9 227.9 677.5 228.8 678.1 229.7 678.7 230.6 679.2 231.5 679.8 232.4 680.4 233.3 680.9 234.2 681.4 235.1 682 236 682.5 236.9 683 237.8 683.5 238.7 684 239.6 684.6 240.5 685.1 241.5 685.6 242.4 686.1 243.3 686.7 244.2 687.2 245.1 687.8 246 688.4 246.9 688.9 247.8 689.5 248.7 690.2 249.6 690.8 250.5 691.4 251.4 692.1 252.3 692.8 253.2 693.5 254.1 694.3 255 695 255.9 695.8 256.8 696.7 257.7 697.5 258.6 698.4 259.5 699.3 260.4 700.3 261.3 701.2 262.2 702.2 263.1 703.1 264 704.1 264.9 705.1 265.8 706 266.7 707 267.6 707.9 268.5 708.9 269.4 709.8 270.3 710.7 271.3 711.6 272.2 712.4 273.1 713.3 274 714.1 274.9 714.8 275.8 715.5 276.7 716.2 277.6 716.9 278.5 717.5 279.4 718.1 280.3 718.6 281.2 719.2 282.1 719.7 283 720.2 283.9 720.6 284.8 721.1 285.7 721.5 286.6 721.9 287.5 722.3 288.4 722.7 289.3 723 290.2 723.4 291.1 723.7 292 724 292.9 724.4 293.8 724.7 294.7 725 295.6 725.3 296.5 725.6 297.4 725.9 298.3 726.1 299.2 726.4 300.1 726.7 301 726.9 302 727.2 302.9 727.4 303.8 727.6 304.7 727.9 305.6 728.1 306.5 728.3 307.4 728.5 308.3 728.7 309.2 728.8 310.1 729 311 729.2 311.9 729.3 312.8 729.4 313.7 729.6 314.6 729.7 315.5 729.8 316.4 729.9 317.3 730 318.2 730.1 319.1 730.2 320 730.3 320.9 730.4 321.8 730.5 322.7 730.6 323.6 730.6 324.5 730.7 325.4 730.8 326.3 730.9 327.2 731 328.1 731 329 731.1 329.9 731.2 330.8 731.3 331.8 731.4 332.7 731.5 333.6 731.6 334.5 731.7 335.4 731.8 336.3 731.9 337.2 732 338.1 732.2 339 732.3 339.9 732.5 340.8 732.6 341.7 732.8 342.6 733 343.5 733.1 344.4 733.3 345.3 733.5 346.2 733.8L346.2 753.1L76.2 753.1Z" fill="#3c91f5" fill-opacity="0.2" stroke="#3c91f5" stroke-opacity="0.25" stroke-width="0.9"/>
<path d="M76.2 753.1L77.1 736.4 78 720.8 78.9 706.1 79.8 692.3 80.7 679.5 81.6 667.6 82.5 656.5 83.4 646.3 84.3 637 85.2 628.4 86.1 620.6 87 613.6 87.9 607.3 88.8 601.8 89.7 596.9 90.6 592.7 91.6 589.1 92.5 586.2 93.4 583.8 94.3 582 95.2 580.8 96.1 580.1 97 579.9 97.9 580.2 98.8 580.9 99.7 582.1 100.6 583.7 101.5 585.6 102.4 588 103.3 590.6 104.2 593.6 105.1 596.9 106 600.4 106.9 604.2 107.8 608.2 108.7 612.4 109.6 616.8 110.5 621.3 111.4 626 112.3 630.8 113.2 635.6 114.1 640.5 115 645.5 115.9 650.5 116.8 655.5 117.7 660.4 118.6 665.4 119.5 670.2 120.4 675 121.4 679.7 122.3 684.3 123.2 688.8 124.1 693.1 125 697.2 125.9 701.1 126.8 704.8 127.7 708.3 128.6 711.5 129.5 714.5 130.4 717.1 131.3 719.5 132.2 721.6 133.1 723.4 134 724.9 134.9 726.2 135.8 727.3 136.7 728.2 137.6 728.9 138.5 729.4 139.4 729.7 140.3 729.9 141.2 730 142.1 730 143 729.9 143.9 729.7 144.8 729.5 145.7 729.2 146.6 728.9 147.5 728.6 148.4 728.3 149.3 728 150.2 727.7 151.1 727.4 152.1 727.2 153 727 153.9 726.8 154.8 726.6 155.7 726.4 156.6 726.2 157.5 726 158.4 725.8 159.3 725.6 160.2 725.5 161.1 725.3 162 725.1 162.9 724.9 163.8 724.7 164.7 724.5 165.6 724.3 166.5 724 167.4 723.8 168.3 723.5 169.2 723.2 170.1 722.9 171 722.6 171.9 722.3 172.8 722 173.7 721.6 174.6 721.3 175.5 720.9 176.4 720.5 177.3 720.1 178.2 719.7 179.1 719.3 180 718.8 180.9 718.4 181.9 717.9 182.8 717.4 183.7 716.9 184.6 716.4 185.5 715.9 186.4 715.4 187.3 714.8 188.2 714.2 189.1 713.6 190 713 190.9 712.4 191.8 711.7 192.7 711 193.6 710.3 194.5 709.6 195.4 708.8 196.3 708 197.2 707.1 198.1 706.3 199 705.4 199.9 704.4 200.8 703.5 201.7 702.4 202.6 701.4 203.5 700.3 204.4 699.2 205.3 698 206.2 696.9 207.1 695.7 208 694.5 208.9 693.3 209.8 692.1 210.7 691 211.7 689.8 212.6 688.7 213.5 687.6 214.4 686.6 215.3 685.6 216.2 684.6 217.1 683.7 218 682.9 218.9 682.2 219.8 681.5 220.7 680.9 221.6 680.4 222.5 679.9 223.4 679.6 224.3 679.3 225.2 679.1 226.1 678.9 227 678.8 227.9 678.8 228.8 678.8 229.7 678.8 230.6 678.9 231.5 679 232.4 679.1 233.3 679.3 234.2 679.5 235.1 679.7 236 679.9 236.9 680.1 237.8 680.3 238.7 680.5 239.6 680.7 240.5 680.8 241.5 681 242.4 681.2 243.3 681.4 244.2 681.6 245.1 681.8 246 682 246.9 682.3 247.8 682.5 248.7 682.8 249.6 683 250.5 683.3 251.4 683.6 252.3 684 253.2 684.3 254.1 684.7 255 685.2 255.9 685.6 256.8 686.1 257.7 686.6 258.6 687.2 259.5 687.8 260.4 688.4 261.3 689 262.2 689.7 263.1 690.3 264 691 264.9 691.8 265.8 692.5 266.7 693.2 267.6 694 268.5 694.7 269.4 695.5 270.3 696.3 271.3 697 272.2 697.8 273.1 698.6 274 699.3 274.9 700.1 275.8 700.8 276.7 701.5 277.6 702.2 278.5 702.9 279.4 703.6 280.3 704.3 281.2 705 282.1 705.6 283 706.3 283.9 706.9 284.8 707.5 285.7 708 286.6 708.6 287.5 709.1 288.4 709.7 289.3 710.1 290.2 710.6 291.1 711.1 292 711.5 292.9 711.9 293.8 712.2 294.7 712.6 295.6 712.9 296.5 713.2 297.4 713.4 298.3 713.7 299.2 713.9 300.1 714.2 301 714.4 302 714.6 302.9 714.8 303.8 715 304.7 715.1 305.6 715.3 306.5 715.5 307.4 715.6 308.3 715.8 309.2 715.9 310.1 716.1 311 716.3 311.9 716.4 312.8 716.6 313.7 716.8 314.6 717 315.5 717.1 316.4 717.3 317.3 717.5 318.2 717.7 319.1 717.9 320 718.1 320.9 718.3 321.8 718.5 322.7 718.7 323.6 718.8 324.5 719 325.4 719.2 326.3 719.4 327.2 719.6 328.1 719.8 329 720 329.9 720.2 330.8 720.5 331.8 720.7 332.7 720.9 333.6 721.1 334.5 721.3 335.4 721.5 336.3 721.7 337.2 721.9 338.1 722.1 339 722.2 339.9 722.4 340.8 722.6 341.7 722.8 342.6 723 343.5 723.2 344.4 723.4 345.3 723.6 346.2 723.8L346.2 753.1L76.2 753.1Z" fill="#800080" fill-opacity="0.2" stroke="#800080" stroke-opacity="0.25" stroke-width="0.9"/>
<path d="M76.2 753.1L77.1 736.7 78 721.2 78.9 706.7 79.8 693.1 80.7 680.4 81.6 668.6 82.5 657.6 83.4 647.5 84.3 638.2 85.2 629.7 86.1 622 87 615 87.9 608.8 88.8 603.2 89.7 598.4 90.6 594.2 91.6 590.6 92.5 587.6 93.4 585.2 94.3 583.4 95.2 582.1 96.1 581.4 97 581.1 97.9 581.3 98.8 582 99.7 583.1 100.6 584.6 101.5 586.5 102.4 588.7 103.3 591.3 104.2 594.2 105.1 597.4 106 600.9 106.9 604.6 107.8 608.5 108.7 612.7 109.6 617 110.5 621.5 111.4 626.1 112.3 630.8 113.2 635.6 114.1 640.5 115 645.4 115.9 650.3 116.8 655.3 117.7 660.2 118.6 665.2 119.5 670 120.4 674.8 121.4 679.5 122.3 684.1 123.2 688.6 124.1 692.9 125 697 125.9 701 126.8 704.7 127.7 708.2 128.6 711.5 129.5 714.5 130.4 717.2 131.3 719.5 132.2 721.6 133.1 723.5 134 725.1 134.9 726.4 135.8 727.5 136.7 728.5 137.6 729.2 138.5 729.8 139.4 730.2 140.3 730.5 141.2 730.7 142.1 730.8 143 730.8 143.9 730.7 144.8 730.6 145.7 730.4 146.6 730.3 147.5 730.1 148.4 730 149.3 729.9 150.2 729.8 151.1 729.8 152.1 729.7 153 729.7 153.9 729.7 154.8 729.8 155.7 729.8 156.6 729.8 157.5 729.9 158.4 729.9 159.3 729.9 160.2 730 161.1 730 162 730 162.9 730 163.8 729.9 164.7 729.9 165.6 729.8 166.5 729.7 167.4 729.5 168.3 729.3 169.2 729.1 170.1 728.9 171 728.6 171.9 728.3 172.8 728 173.7 727.7 174.6 727.3 175.5 727 176.4 726.6 177.3 726.2 178.2 725.8 179.1 725.4 180 725 180.9 724.6 181.9 724.2 182.8 723.7 183.7 723.3 184.6 722.9 185.5 722.5 186.4 722.1 187.3 721.7 188.2 721.3 189.1 720.9 190 720.5 190.9 720.1 191.8 719.7 192.7 719.3 193.6 718.9 194.5 718.5 195.4 718.1 196.3 717.7 197.2 717.3 198.1 716.9 199 716.5 199.9 716 200.8 715.6 201.7 715.2 202.6 714.7 203.5 714.3 204.4 713.8 205.3 713.4 206.2 712.9 207.1 712.4 208 711.8 208.9 711.3 209.8 710.7 210.7 710.1 211.7 709.4 212.6 708.7 213.5 708 214.4 707.2 215.3 706.4 216.2 705.6 217.1 704.6 218 703.7 218.9 702.6 219.8 701.6 220.7 700.4 221.6 699.2 222.5 697.9 223.4 696.6 224.3 695.3 225.2 694 226.1 692.6 227 691.2 227.9 689.9 228.8 688.5 229.7 687.2 230.6 685.9 231.5 684.6 232.4 683.4 233.3 682.3 234.2 681.2 235.1 680.3 236 679.4 236.9 678.6 237.8 677.9 238.7 677.3 239.6 676.8 240.5 676.5 241.5 676.2 242.4 676.1 243.3 676 244.2 676 245.1 676.1 246 676.3 246.9 676.5 247.8 676.8 248.7 677.1 249.6 677.4 250.5 677.8 251.4 678.2 252.3 678.6 253.2 679 254.1 679.4 255 679.8 255.9 680.2 256.8 680.6 257.7 680.9 258.6 681.3 259.5 681.6 260.4 681.9 261.3 682.2 262.2 682.5 263.1 682.8 264 683.1 264.9 683.4 265.8 683.7 266.7 684.1 267.6 684.4 268.5 684.8 269.4 685.2 270.3 685.6 271.3 686.1 272.2 686.5 273.1 687.1 274 687.6 274.9 688.3 275.8 688.9 276.7 689.6 277.6 690.3 278.5 691.1 279.4 691.9 280.3 692.7 281.2 693.5 282.1 694.4 283 695.2 283.9 696.1 284.8 697 285.7 697.8 286.6 698.7 287.5 699.5 288.4 700.4 289.3 701.2 290.2 701.9 291.1 702.7 292 703.4 292.9 704.1 293.8 704.8 294.7 705.4 295.6 706 296.5 706.6 297.4 707.1 298.3 707.6 299.2 708 300.1 708.5 301 708.9 302 709.3 302.9 709.7 303.8 710 304.7 710.3 305.6 710.6 306.5 710.9 307.4 711.2 308.3 711.4 309.2 711.6 310.1 711.9 311 712.1 311.9 712.3 312.8 712.4 313.7 712.6 314.6 712.8 315.5 712.9 316.4 713 317.3 713.2 318.2 713.3 319.1 713.4 320 713.6 320.9 713.7 321.8 713.8 322.7 713.9 323.6 714 324.5 714.1 325.4 714.2 326.3 714.3 327.2 714.5 328.1 714.6 329 714.7 329.9 714.9 330.8 715 331.8 715.1 332.7 715.3 333.6 715.5 334.5 715.6 335.4 715.8 336.3 716 337.2 716.3 338.1 716.5 339 716.7 339.9 717 340.8 717.3 341.7 717.6 342.6 717.9 343.5 718.2 344.4 718.6 345.3 718.9 346.2 719.3L346.2 753.1L76.2 753.1Z" fill="#ff0000" fill-opacity="0.2" stroke="#ff0000" stroke-opacity="0.25" stroke-width="0.9"/>
<line x1="62.4" y1="753.1" x2="359.7" y2="753.1" stroke="#888" stroke-width="1.2" stroke-dasharray="4.5 2"/>
<circle cx="76.2" cy="753.1" r="2.1" fill="#f0303a" fill-opacity="0.9"/>
<circle cx="94.2" cy="583.5" r="2.1" fill="#f0303a" fill-opacity="0.9"/>
<circle cx="112.2" cy="630.14" r="2.1" fill="#f0303a" fill-opacity="0.9"/>
<circle cx="130.2" cy="716.64" r="2.1" fill="#f0303a" fill-opacity="0.9"/>
<circle cx="148.2" cy="730.03" r="2.1" fill="#f0303a" fill-opacity="0.9"/>
<circle cx="166.2" cy="729.7" r="2.1" fill="#f0303a" fill-opacity="0.9"/>
<circle cx="184.2" cy="723.08" r="2.1" fill="#f0303a" fill-opacity="0.9"/>
<circle cx="202.2" cy="714.94" r="2.1" fill="#f0303a" fill-opacity="0.9"/>
<circle cx="220.2" cy="701.03" r="2.1" fill="#f0303a" fill-opacity="0.9"/>
<circle cx="238.2" cy="677.63" r="2.1" fill="#f0303a" fill-opacity="0.9"/>
<circle cx="256.2" cy="680.34" r="2.1" fill="#f0303a" fill-opacity="0.9"/>
<circle cx="274.2" cy="687.8" r="2.1" fill="#f0303a" fill-opacity="0.9"/>
<circle cx="292.2" cy="703.58" r="2.1" fill="#f0303a" fill-opacity="0.9"/>
<circle cx="310.2" cy="711.89" r="2.1" fill="#f0303a" fill-opacity="0.9"/>
<circle cx="328.2" cy="714.6" r="2.1" fill="#f0303a" fill-opacity="0.9"/>
<circle cx="346.2" cy="719.35" r="2.1" fill="#f0303a" fill-opacity="0.9"/>
<circle cx="76.2" cy="753.1" r="2.1" fill="#7446aa" fill-opacity="0.9"/>
<circle cx="94.2" cy="582.14" r="2.1" fill="#7446aa" fill-opacity="0.9"/>
<circle cx="112.2" cy="630.14" r="2.1" fill="#7446aa" fill-opacity="0.9"/>
<circle cx="130.2" cy="716.64" r="2.1" fill="#7446aa" fill-opacity="0.9"/>
<circle cx="148.2" cy="728.34" r="2.1" fill="#7446aa" fill-opacity="0.9"/>
<circle cx="166.2" cy="724.1" r="2.1" fill="#7446aa" fill-opacity="0.9"/>
<circle cx="184.2" cy="716.64" r="2.1" fill="#7446aa" fill-opacity="0.9"/>
<circle cx="202.2" cy="701.88" r="2.1" fill="#7446aa" fill-opacity="0.9"/>
<circle cx="220.2" cy="681.19" r="2.1" fill="#7446aa" fill-opacity="0.9"/>
<circle cx="238.2" cy="680.34" r="2.1" fill="#7446aa" fill-opacity="0.9"/>
<circle cx="256.2" cy="685.77" r="2.1" fill="#7446aa" fill-opacity="0.9"/>
<circle cx="274.2" cy="699.51" r="2.1" fill="#7446aa" fill-opacity="0.9"/>
<circle cx="292.2" cy="711.55" r="2.1" fill="#7446aa" fill-opacity="0.9"/>
<circle cx="310.2" cy="716.13" r="2.1" fill="#7446aa" fill-opacity="0.9"/>
<circle cx="328.2" cy="719.86" r="2.1" fill="#7446aa" fill-opacity="0.9"/>
<circle cx="346.2" cy="723.76" r="2.1" fill="#7446aa" fill-opacity="0.9"/>
<circle cx="76.2" cy="753.1" r="2.1" fill="#4a7ef0" fill-opacity="0.9"/>
<circle cx="94.2" cy="576.04" r="2.1" fill="#4a7ef0" fill-opacity="0.9"/>
<circle cx="112.2" cy="630.99" r="2.1" fill="#4a7ef0" fill-opacity="0.9"/>
<circle cx="130.2" cy="714.43" r="2.1" fill="#4a7ef0" fill-opacity="0.9"/>
<circle cx="148.2" cy="721.22" r="2.1" fill="#4a7ef0" fill-opacity="0.9"/>
<circle cx="166.2" cy="696.45" r="2.1" fill="#4a7ef0" fill-opacity="0.9"/>
<circle cx="184.2" cy="671.86" r="2.1" fill="#4a7ef0" fill-opacity="0.9"/>
<circle cx="202.2" cy="659.99" r="2.1" fill="#4a7ef0" fill-opacity="0.9"/>
<circle cx="220.2" cy="671.86" r="2.1" fill="#4a7ef0" fill-opacity="0.9"/>
<circle cx="238.2" cy="683.73" r="2.1" fill="#4a7ef0" fill-opacity="0.9"/>
<circle cx="256.2" cy="696.11" r="2.1" fill="#4a7ef0" fill-opacity="0.9"/>
<circle cx="274.2" cy="714.26" r="2.1" fill="#4a7ef0" fill-opacity="0.9"/>
<circle cx="292.2" cy="724.1" r="2.1" fill="#4a7ef0" fill-opacity="0.9"/>
<circle cx="310.2" cy="729.02" r="2.1" fill="#4a7ef0" fill-opacity="0.9"/>
<circle cx="328.2" cy="731.05" r="2.1" fill="#4a7ef0" fill-opacity="0.9"/>
<circle cx="346.2" cy="733.77" r="2.1" fill="#4a7ef0" fill-opacity="0.9"/>
<rect x="62.4" y="565.8" width="297.3" height="196.8" fill="none" stroke="#222" stroke-width="1"/>
<line x1="58.9" y1="753.1" x2="62.4" y2="753.1" stroke="#222" stroke-width="0.9"/>
<text x="55.9" y="759.7" font-size="17.6" text-anchor="end" font-weight="normal" fill="#000" textLength="25.6" lengthAdjust="spacingAndGlyphs" >0.0</text>
<line x1="58.9" y1="668.3" x2="62.4" y2="668.3" stroke="#222" stroke-width="0.9"/>
<text x="55.9" y="674.9" font-size="17.6" text-anchor="end" font-weight="normal" fill="#000" textLength="25.6" lengthAdjust="spacingAndGlyphs" >0.5</text>
<line x1="58.9" y1="583.5" x2="62.4" y2="583.5" stroke="#222" stroke-width="0.9"/>
<text x="55.9" y="590.1" font-size="17.6" text-anchor="end" font-weight="normal" fill="#000" textLength="25.6" lengthAdjust="spacingAndGlyphs" >1.0</text>
<line x1="76.2" y1="762.6" x2="76.2" y2="766.1" stroke="#222" stroke-width="0.9"/>
<text x="76.2" y="782.3" font-size="17.6" text-anchor="middle" font-weight="normal" fill="#000" textLength="10.24" lengthAdjust="spacingAndGlyphs" >0</text>
<line x1="166.2" y1="762.6" x2="166.2" y2="766.1" stroke="#222" stroke-width="0.9"/>
<text x="166.2" y="782.3" font-size="17.6" text-anchor="middle" font-weight="normal" fill="#000" textLength="20.48" lengthAdjust="spacingAndGlyphs" >50</text>
<line x1="256.2" y1="762.6" x2="256.2" y2="766.1" stroke="#222" stroke-width="0.9"/>
<text x="256.2" y="782.3" font-size="17.6" text-anchor="middle" font-weight="normal" fill="#000" textLength="30.72" lengthAdjust="spacingAndGlyphs" >100</text>
<line x1="346.2" y1="762.6" x2="346.2" y2="766.1" stroke="#222" stroke-width="0.9"/>
<text x="346.2" y="782.3" font-size="17.6" text-anchor="middle" font-weight="normal" fill="#000" textLength="30.72" lengthAdjust="spacingAndGlyphs" >150</text>
<text x="181" y="802.7" font-size="15.5" text-anchor="start" font-weight="normal" fill="#000" textLength="61" lengthAdjust="spacingAndGlyphs" ><tspan font-style="italic">&#969;</tspan> [meV]</text>
<text transform="translate(20.6 663.9) rotate(-90)" font-size="15" text-anchor="middle" textLength="167.5" lengthAdjust="spacingAndGlyphs">Integrated intensity (&#915;)</text>
<rect x="248" y="572.5" width="105.5" height="64.3" rx="2.5" fill="#fff" stroke="#cfcfcf" stroke-width="0.9"/>
<circle cx="267.3" cy="584.8" r="3.1" fill="#f0303a"/>
<circle cx="267.3" cy="605" r="3.1" fill="#7446aa"/>
<circle cx="267.3" cy="624.8" r="3.1" fill="#4a7ef0"/>
<text x="294.2" y="589.3" font-size="12.3" text-anchor="start" font-weight="normal" fill="#000" textLength="52.3" lengthAdjust="spacingAndGlyphs" >PM-WSM</text>
<text x="294.2" y="608.4" font-size="12.3" text-anchor="start" font-weight="normal" fill="#000" textLength="38" lengthAdjust="spacingAndGlyphs" >PM-TT</text>
<text x="294.2" y="628.2" font-size="12.3" text-anchor="start" font-weight="normal" fill="#000" textLength="38" lengthAdjust="spacingAndGlyphs" >PM-TT</text>
<text x="2.8" y="558" font-size="27.5" text-anchor="start" font-weight="bold" fill="#000" textLength="13.6" lengthAdjust="spacingAndGlyphs" >c</text>
<clipPath id="clipD"><rect x="418.5" y="289.8" width="248" height="492.5"/></clipPath>
<g clip-path="url(#clipD)">
<path d="M429.8 758.5L430.5 758.5 431.2 758.5 431.9 758.5 432.5 758.5 433.2 758.5 433.9 758.5 434.6 758.5 435.3 758.5 436 758.5 436.6 758.5 437.3 758.5 438 758.5 438.7 758.5 439.4 758.5 440.1 758.4 440.8 758.4 441.4 758.4 442.1 758.4 442.8 758.4 443.5 758.4 444.2 758.4 444.9 758.4 445.5 758.4 446.2 758.4 446.9 758.3 447.6 758.3 448.3 758.3 449 758.3 449.7 758.3 450.3 758.3 451 758.3 451.7 758.3 452.4 758.2 453.1 758.2 453.8 758.2 454.4 758.2 455.1 758.2 455.8 758.2 456.5 758.1 457.2 758.1 457.9 758.1 458.5 758.1 459.2 758.1 459.9 758.1 460.6 758 461.3 758 462 758 462.7 758 463.3 758 464 757.9 464.7 757.9 465.4 757.9 466.1 757.9 466.8 757.9 467.4 757.9 468.1 757.8 468.8 757.8 469.5 757.8 470.2 757.8 470.9 757.8 471.6 757.8 472.2 757.8 472.9 757.7 473.6 757.7 474.3 757.7 475 757.7 475.7 757.7 476.3 757.7 477 757.7 477.7 757.7 478.4 757.6 479.1 757.6 479.8 757.6 480.5 757.6 481.1 757.6 481.8 757.6 482.5 757.6 483.2 757.6 483.9 757.6 484.6 757.6 485.2 757.6 485.9 757.6 486.6 757.6 487.3 757.6 488 757.6 488.7 757.6 489.4 757.6 490 757.6 490.7 757.6 491.4 757.6 492.1 757.7 492.8 757.7 493.5 757.7 494.1 757.7 494.8 757.7 495.5 757.7 496.2 757.7 496.9 757.7 497.6 757.7 498.2 757.8 498.9 757.8 499.6 757.8 500.3 757.8 501 757.8 501.7 757.8 502.4 757.9 503 757.9 503.7 757.9 504.4 757.9 505.1 757.9 505.8 758 506.5 758 507.1 758 507.8 758 508.5 758 509.2 758 509.9 758.1 510.6 758.1 511.3 758.1 511.9 758.1 512.6 758.1 513.3 758.2 514 758.2 514.7 758.2 515.4 758.2 516 758.2 516.7 758.3 517.4 758.3 518.1 758.3 518.8 758.3 519.5 758.3 520.2 758.4 520.8 758.4 521.5 758.4 522.2 758.4 522.9 758.4 523.6 758.4 524.3 758.5 524.9 758.5 525.6 758.5 526.3 758.5 527 758.5 527.7 758.5 528.4 758.5 529.1 758.5 529.7 758.6 530.4 758.6 531.1 758.6 531.8 758.6 532.5 758.6 533.2 758.6 533.8 758.6 534.5 758.6 535.2 758.6 535.9 758.6 536.6 758.7 537.3 758.7 538 758.7 538.6 758.7 539.3 758.7 540 758.7 540.7 758.7 541.4 758.7 542.1 758.7 542.7 758.7 543.4 758.7 544.1 758.7 544.8 758.7 545.5 758.7 546.2 758.7 546.8 758.7 547.5 758.8 548.2 758.8 548.9 758.8 549.6 758.8 550.3 758.8 551 758.8 551.6 758.8 552.3 758.8 553 758.8 553.7 758.8 554.4 758.8 555.1 758.8 555.7 758.8 556.4 758.8 557.1 758.8 557.8 758.8 558.5 758.8 559.2 758.8 559.9 758.8 560.5 758.8 561.2 758.8 561.9 758.8 562.6 758.8 563.3 758.8 564 758.8 564.6 758.8 565.3 758.8 566 758.8 566.7 758.8 567.4 758.8 568.1 758.8 568.8 758.8 569.4 758.8 570.1 758.8 570.8 758.8 571.5 758.8 572.2 758.8 572.9 758.8 573.5 758.8 574.2 758.8 574.9 758.8 575.6 758.8 576.3 758.8 577 758.8 577.7 758.8 578.3 758.8 579 758.8 579.7 758.8 580.4 758.8 581.1 758.8 581.8 758.8 582.4 758.8 583.1 758.8 583.8 758.8 584.5 758.8 585.2 758.9 585.9 758.9 586.6 758.9 587.2 758.9 587.9 758.9 588.6 758.9 589.3 758.9 590 758.9 590.7 758.9 591.3 758.9 592 758.9 592.7 758.9 593.4 758.9 594.1 758.9 594.8 758.9 595.4 758.9 596.1 758.9 596.8 758.9 597.5 758.9 598.2 758.9 598.9 758.9 599.6 758.9 600.2 758.9 600.9 758.9 601.6 758.9 602.3 758.9 603 758.9 603.7 758.9 604.3 758.9 605 758.9 605.7 758.9 606.4 758.9 607.1 758.9 607.8 758.9 608.5 758.9 609.1 758.9 609.8 758.9 610.5 758.9 611.2 758.9 611.9 758.9 612.6 758.9 613.2 758.9 613.9 758.9 614.6 758.9 615.3 758.9 616 758.9 616.7 758.9 617.4 758.9 618 758.9 618.7 758.9 619.4 758.9 620.1 758.9 620.8 758.9 621.5 758.9 622.1 758.9 622.8 758.9 623.5 758.9 624.2 758.9 624.9 758.9 625.6 758.9 626.3 758.9 626.9 758.9 627.6 758.9 628.3 758.9 629 758.9 629.7 758.9 630.4 758.9 631 758.9 631.7 758.9 632.4 758.9 633.1 758.9 633.8 758.9 634.5 758.9 635.1 758.9 635.8 758.9 636.5 758.9 637.2 758.9 637.9 758.9 638.6 758.9 639.3 758.9 639.9 758.9 640.6 758.9 641.3 758.9 642 758.9 642.7 758.9 643.4 758.9 644 758.9 644.7 758.9 645.4 758.9 646.1 758.9 646.8 759 647.5 759 648.2 759 648.8 759 649.5 759 650.2 759 650.9 759 651.6 759 652.3 759 652.9 759 653.6 759 654.3 759 655 759" fill="none" stroke="#3b4cc0" stroke-width="1.55" stroke-opacity="0.92" stroke-linejoin="round"/>
<path d="M429.8 747.5L430.5 743.8 431.2 739.9 431.9 735.9 432.5 731.7 433.2 727.1 433.9 722.1 434.6 717.6 435.3 713.9 436 710.6 436.6 708 437.3 706 438 704.5 438.7 703.6 439.4 703.3 440.1 703.7 440.8 704.5 441.4 705.6 442.1 706.8 442.8 707.9 443.5 709 444.2 710 444.9 710.9 445.5 711.8 446.2 712.6 446.9 713.4 447.6 714.1 448.3 714.7 449 715.4 449.7 716 450.3 716.5 451 717.1 451.7 717.6 452.4 718.1 453.1 718.5 453.8 719 454.4 719.4 455.1 719.8 455.8 720.2 456.5 720.6 457.2 721 457.9 721.4 458.5 721.8 459.2 722.2 459.9 722.5 460.6 722.9 461.3 723.3 462 723.6 462.7 724 463.3 724.3 464 724.6 464.7 724.9 465.4 725.2 466.1 725.4 466.8 725.7 467.4 725.9 468.1 726.1 468.8 726.3 469.5 726.4 470.2 726.5 470.9 726.6 471.6 726.7 472.2 726.8 472.9 726.8 473.6 726.9 474.3 726.9 475 727 475.7 727 476.3 727.1 477 727.2 477.7 727.3 478.4 727.4 479.1 727.5 479.8 727.6 480.5 727.7 481.1 727.9 481.8 728 482.5 728.2 483.2 728.4 483.9 728.5 484.6 728.7 485.2 728.9 485.9 729 486.6 729.2 487.3 729.3 488 729.5 488.7 729.6 489.4 729.7 490 729.8 490.7 729.9 491.4 730 492.1 730.1 492.8 730.1 493.5 730.2 494.1 730.3 494.8 730.3 495.5 730.4 496.2 730.4 496.9 730.5 497.6 730.6 498.2 730.7 498.9 730.8 499.6 730.9 500.3 731 501 731.1 501.7 731.3 502.4 731.4 503 731.6 503.7 731.8 504.4 732 505.1 732.2 505.8 732.4 506.5 732.6 507.1 732.8 507.8 733.1 508.5 733.3 509.2 733.4 509.9 733.6 510.6 733.8 511.3 733.9 511.9 734 512.6 734.1 513.3 734.2 514 734.3 514.7 734.3 515.4 734.3 516 734.3 516.7 734.2 517.4 734.1 518.1 734.1 518.8 734 519.5 733.9 520.2 733.8 520.8 733.6 521.5 733.5 522.2 733.4 522.9 733.3 523.6 733.2 524.3 733.1 524.9 733.1 525.6 733 526.3 733 527 733 527.7 733 528.4 733 529.1 733.1 529.7 733.1 530.4 733.2 531.1 733.3 531.8 733.4 532.5 733.6 533.2 733.7 533.8 733.8 534.5 734 535.2 734.1 535.9 734.2 536.6 734.4 537.3 734.5 538 734.6 538.6 734.7 539.3 734.8 540 734.9 540.7 734.9 541.4 735 542.1 735 542.7 735.1 543.4 735.1 544.1 735.1 544.8 735.2 545.5 735.2 546.2 735.2 546.8 735.2 547.5 735.3 548.2 735.3 548.9 735.3 549.6 735.4 550.3 735.5 551 735.5 551.6 735.6 552.3 735.7 553 735.8 553.7 736 554.4 736.1 555.1 736.2 555.7 736.3 556.4 736.5 557.1 736.6 557.8 736.7 558.5 736.8 559.2 736.9 559.9 737 560.5 737.1 561.2 737.1 561.9 737.1 562.6 737.1 563.3 737.1 564 737.1 564.6 737 565.3 737 566 736.9 566.7 736.8 567.4 736.6 568.1 736.5 568.8 736.4 569.4 736.2 570.1 736.1 570.8 735.9 571.5 735.8 572.2 735.7 572.9 735.6 573.5 735.5 574.2 735.4 574.9 735.4 575.6 735.3 576.3 735.3 577 735.4 577.7 735.4 578.3 735.5 579 735.5 579.7 735.6 580.4 735.8 581.1 735.9 581.8 736 582.4 736.2 583.1 736.4 583.8 736.5 584.5 736.7 585.2 736.8 585.9 737 586.6 737.1 587.2 737.3 587.9 737.4 588.6 737.5 589.3 737.6 590 737.6 590.7 737.7 591.3 737.7 592 737.8 592.7 737.8 593.4 737.8 594.1 737.8 594.8 737.8 595.4 737.8 596.1 737.8 596.8 737.7 597.5 737.7 598.2 737.7 598.9 737.7 599.6 737.7 600.2 737.8 600.9 737.8 601.6 737.8 602.3 737.9 603 737.9 603.7 738 604.3 738 605 738.1 605.7 738.2 606.4 738.2 607.1 738.3 607.8 738.4 608.5 738.4 609.1 738.4 609.8 738.5 610.5 738.5 611.2 738.5 611.9 738.5 612.6 738.4 613.2 738.4 613.9 738.3 614.6 738.2 615.3 738.1 616 738 616.7 737.9 617.4 737.8 618 737.6 618.7 737.5 619.4 737.4 620.1 737.3 620.8 737.1 621.5 737 622.1 737 622.8 736.9 623.5 736.8 624.2 736.8 624.9 736.8 625.6 736.8 626.3 736.9 626.9 737 627.6 737.1 628.3 737.2 629 737.3 629.7 737.5 630.4 737.6 631 737.8 631.7 738 632.4 738.2 633.1 738.3 633.8 738.5 634.5 738.7 635.1 738.9 635.8 739 636.5 739.1 637.2 739.3 637.9 739.4 638.6 739.4 639.3 739.5 639.9 739.5 640.6 739.6 641.3 739.6 642 739.5 642.7 739.5 643.4 739.5 644 739.4 644.7 739.4 645.4 739.3 646.1 739.2 646.8 739.2 647.5 739.1 648.2 739.1 648.8 739 649.5 739 650.2 738.9 650.9 738.9 651.6 738.9 652.3 738.9 652.9 738.9 653.6 738.9 654.3 738.9 655 738.9" fill="none" stroke="#465ecf" stroke-width="1.55" stroke-opacity="0.92" stroke-linejoin="round"/>
<path d="M429.8 736.4L430.5 731.4 431.2 726.3 431.9 720.9 432.5 715.4 433.2 709.7 433.9 703.4 434.6 696.7 435.3 690.4 436 685 436.6 680.3 437.3 676.1 438 672.7 438.7 670 439.4 667.8 440.1 666.4 440.8 665.9 441.4 666.2 442.1 667.2 442.8 668.6 443.5 670.2 444.2 671.9 444.9 673.5 445.5 675 446.2 676.4 446.9 677.7 447.6 678.9 448.3 680.1 449 681.1 449.7 682.2 450.3 683.2 451 684.1 451.7 685 452.4 685.8 453.1 686.6 453.8 687.4 454.4 688.1 455.1 688.8 455.8 689.5 456.5 690.1 457.2 690.7 457.9 691.3 458.5 691.8 459.2 692.3 459.9 692.7 460.6 693.2 461.3 693.6 462 694 462.7 694.4 463.3 694.7 464 695.1 464.7 695.4 465.4 695.8 466.1 696.2 466.8 696.5 467.4 696.9 468.1 697.3 468.8 697.8 469.5 698.2 470.2 698.7 470.9 699.2 471.6 699.6 472.2 700.2 472.9 700.7 473.6 701.2 474.3 701.7 475 702.3 475.7 702.8 476.3 703.3 477 703.7 477.7 704.1 478.4 704.5 479.1 704.9 479.8 705.2 480.5 705.4 481.1 705.6 481.8 705.8 482.5 706 483.2 706.1 483.9 706.2 484.6 706.3 485.2 706.4 485.9 706.4 486.6 706.4 487.3 706.5 488 706.5 488.7 706.6 489.4 706.6 490 706.7 490.7 706.7 491.4 706.8 492.1 706.9 492.8 707 493.5 707.2 494.1 707.3 494.8 707.5 495.5 707.6 496.2 707.8 496.9 708 497.6 708.2 498.2 708.3 498.9 708.5 499.6 708.6 500.3 708.8 501 708.9 501.7 709 502.4 709.1 503 709.2 503.7 709.3 504.4 709.3 505.1 709.4 505.8 709.4 506.5 709.4 507.1 709.4 507.8 709.4 508.5 709.4 509.2 709.4 509.9 709.4 510.6 709.4 511.3 709.5 511.9 709.5 512.6 709.6 513.3 709.7 514 709.8 514.7 710 515.4 710.2 516 710.4 516.7 710.7 517.4 710.9 518.1 711.2 518.8 711.6 519.5 711.9 520.2 712.3 520.8 712.6 521.5 713 522.2 713.3 522.9 713.7 523.6 714 524.3 714.3 524.9 714.6 525.6 714.9 526.3 715.1 527 715.3 527.7 715.4 528.4 715.6 529.1 715.6 529.7 715.7 530.4 715.7 531.1 715.7 531.8 715.6 532.5 715.5 533.2 715.4 533.8 715.3 534.5 715.2 535.2 715 535.9 714.9 536.6 714.7 537.3 714.6 538 714.4 538.6 714.3 539.3 714.2 540 714.1 540.7 714.1 541.4 714 542.1 714 542.7 714 543.4 714.1 544.1 714.1 544.8 714.2 545.5 714.3 546.2 714.4 546.8 714.5 547.5 714.7 548.2 714.8 548.9 714.9 549.6 715 550.3 715.2 551 715.3 551.6 715.4 552.3 715.4 553 715.5 553.7 715.6 554.4 715.6 555.1 715.7 555.7 715.7 556.4 715.7 557.1 715.7 557.8 715.7 558.5 715.7 559.2 715.7 559.9 715.7 560.5 715.8 561.2 715.8 561.9 715.9 562.6 715.9 563.3 716 564 716.2 564.6 716.3 565.3 716.5 566 716.7 566.7 716.9 567.4 717.1 568.1 717.4 568.8 717.6 569.4 717.9 570.1 718.1 570.8 718.4 571.5 718.7 572.2 718.9 572.9 719.1 573.5 719.3 574.2 719.5 574.9 719.7 575.6 719.8 576.3 719.9 577 720 577.7 720 578.3 719.9 579 719.9 579.7 719.8 580.4 719.7 581.1 719.5 581.8 719.4 582.4 719.2 583.1 718.9 583.8 718.7 584.5 718.5 585.2 718.3 585.9 718.1 586.6 717.9 587.2 717.7 587.9 717.5 588.6 717.4 589.3 717.2 590 717.2 590.7 717.1 591.3 717.1 592 717.1 592.7 717.1 593.4 717.2 594.1 717.3 594.8 717.4 595.4 717.6 596.1 717.7 596.8 717.9 597.5 718 598.2 718.2 598.9 718.4 599.6 718.6 600.2 718.7 600.9 718.9 601.6 719 602.3 719.2 603 719.3 603.7 719.4 604.3 719.4 605 719.5 605.7 719.6 606.4 719.6 607.1 719.6 607.8 719.6 608.5 719.7 609.1 719.7 609.8 719.7 610.5 719.7 611.2 719.7 611.9 719.8 612.6 719.8 613.2 719.9 613.9 720 614.6 720.1 615.3 720.2 616 720.4 616.7 720.5 617.4 720.7 618 720.8 618.7 721 619.4 721.2 620.1 721.4 620.8 721.5 621.5 721.7 622.1 721.8 622.8 722 623.5 722.1 624.2 722.1 624.9 722.2 625.6 722.2 626.3 722.2 626.9 722.1 627.6 722 628.3 721.9 629 721.8 629.7 721.6 630.4 721.4 631 721.2 631.7 721 632.4 720.7 633.1 720.5 633.8 720.3 634.5 720 635.1 719.8 635.8 719.6 636.5 719.4 637.2 719.3 637.9 719.2 638.6 719.1 639.3 719 639.9 719 640.6 719 641.3 719 642 719.1 642.7 719.3 643.4 719.4 644 719.6 644.7 719.8 645.4 720 646.1 720.2 646.8 720.4 647.5 720.7 648.2 720.9 648.8 721.2 649.5 721.4 650.2 721.6 650.9 721.8 651.6 721.9 652.3 722.1 652.9 722.2 653.6 722.3 654.3 722.4 655 722.4" fill="none" stroke="#536edd" stroke-width="1.55" stroke-opacity="0.92" stroke-linejoin="round"/>
<path d="M429.8 725.2L430.5 721.8 431.2 718.2 431.9 714.5 432.5 710.8 433.2 706.9 433.9 703 434.6 699 435.3 695 436 690.8 436.6 686.3 437.3 681.5 438 676.7 438.7 672.1 439.4 667.8 440.1 663.8 440.8 660.2 441.4 656.9 442.1 653.7 442.8 650.8 443.5 648.1 444.2 645.5 444.9 643.2 445.5 641.2 446.2 639.7 446.9 638.7 447.6 638.4 448.3 638.8 449 639.8 449.7 641.1 450.3 642.5 451 643.9 451.7 645.4 452.4 646.8 453.1 648.2 453.8 649.6 454.4 650.9 455.1 652.2 455.8 653.5 456.5 654.7 457.2 655.9 457.9 657 458.5 658 459.2 659 459.9 660 460.6 660.9 461.3 661.8 462 662.6 462.7 663.3 463.3 664.1 464 664.7 464.7 665.4 465.4 666 466.1 666.6 466.8 667.2 467.4 667.7 468.1 668.3 468.8 668.8 469.5 669.3 470.2 669.7 470.9 670.2 471.6 670.6 472.2 670.9 472.9 671.2 473.6 671.6 474.3 671.8 475 672.1 475.7 672.3 476.3 672.5 477 672.8 477.7 672.9 478.4 673.1 479.1 673.3 479.8 673.5 480.5 673.7 481.1 673.9 481.8 674.1 482.5 674.4 483.2 674.7 483.9 675 484.6 675.4 485.2 675.8 485.9 676.2 486.6 676.7 487.3 677.1 488 677.6 488.7 678.1 489.4 678.7 490 679.2 490.7 679.7 491.4 680.2 492.1 680.7 492.8 681.2 493.5 681.7 494.1 682.1 494.8 682.6 495.5 683 496.2 683.4 496.9 683.7 497.6 684 498.2 684.3 498.9 684.6 499.6 684.8 500.3 685 501 685.1 501.7 685.3 502.4 685.4 503 685.5 503.7 685.6 504.4 685.7 505.1 685.7 505.8 685.8 506.5 685.9 507.1 685.9 507.8 686 508.5 686.1 509.2 686.1 509.9 686.2 510.6 686.3 511.3 686.4 511.9 686.5 512.6 686.6 513.3 686.7 514 686.8 514.7 687 515.4 687.1 516 687.2 516.7 687.3 517.4 687.4 518.1 687.5 518.8 687.6 519.5 687.7 520.2 687.8 520.8 687.8 521.5 687.9 522.2 687.9 522.9 688 523.6 688 524.3 688.1 524.9 688.1 525.6 688.1 526.3 688.2 527 688.2 527.7 688.3 528.4 688.4 529.1 688.5 529.7 688.6 530.4 688.8 531.1 688.9 531.8 689.1 532.5 689.3 533.2 689.6 533.8 689.8 534.5 690.1 535.2 690.4 535.9 690.7 536.6 691.1 537.3 691.4 538 691.8 538.6 692.2 539.3 692.5 540 692.9 540.7 693.3 541.4 693.6 542.1 693.9 542.7 694.2 543.4 694.5 544.1 694.8 544.8 695 545.5 695.2 546.2 695.3 546.8 695.4 547.5 695.5 548.2 695.6 548.9 695.6 549.6 695.6 550.3 695.6 551 695.5 551.6 695.4 552.3 695.4 553 695.3 553.7 695.1 554.4 695 555.1 694.9 555.7 694.8 556.4 694.7 557.1 694.6 557.8 694.5 558.5 694.5 559.2 694.4 559.9 694.4 560.5 694.4 561.2 694.4 561.9 694.4 562.6 694.4 563.3 694.5 564 694.5 564.6 694.6 565.3 694.7 566 694.8 566.7 694.9 567.4 694.9 568.1 695 568.8 695.1 569.4 695.2 570.1 695.3 570.8 695.4 571.5 695.5 572.2 695.5 572.9 695.6 573.5 695.7 574.2 695.7 574.9 695.8 575.6 695.9 576.3 695.9 577 696 577.7 696.1 578.3 696.2 579 696.3 579.7 696.5 580.4 696.6 581.1 696.8 581.8 696.9 582.4 697.1 583.1 697.4 583.8 697.6 584.5 697.8 585.2 698.1 585.9 698.4 586.6 698.6 587.2 698.9 587.9 699.2 588.6 699.4 589.3 699.7 590 699.9 590.7 700.1 591.3 700.4 592 700.5 592.7 700.7 593.4 700.8 594.1 700.9 594.8 701 595.4 701 596.1 701 596.8 700.9 597.5 700.9 598.2 700.8 598.9 700.6 599.6 700.5 600.2 700.3 600.9 700.1 601.6 700 602.3 699.8 603 699.6 603.7 699.4 604.3 699.2 605 699 605.7 698.8 606.4 698.7 607.1 698.6 607.8 698.5 608.5 698.4 609.1 698.4 609.8 698.3 610.5 698.3 611.2 698.4 611.9 698.4 612.6 698.5 613.2 698.6 613.9 698.7 614.6 698.8 615.3 699 616 699.1 616.7 699.3 617.4 699.4 618 699.6 618.7 699.7 619.4 699.9 620.1 700 620.8 700.1 621.5 700.3 622.1 700.4 622.8 700.5 623.5 700.6 624.2 700.7 624.9 700.8 625.6 700.9 626.3 701 626.9 701.1 627.6 701.2 628.3 701.3 629 701.4 629.7 701.5 630.4 701.6 631 701.7 631.7 701.9 632.4 702 633.1 702.2 633.8 702.3 634.5 702.5 635.1 702.7 635.8 702.8 636.5 703 637.2 703.2 637.9 703.3 638.6 703.5 639.3 703.6 639.9 703.7 640.6 703.8 641.3 703.9 642 703.9 642.7 703.9 643.4 703.9 644 703.9 644.7 703.8 645.4 703.7 646.1 703.6 646.8 703.5 647.5 703.3 648.2 703.1 648.8 702.9 649.5 702.7 650.2 702.5 650.9 702.2 651.6 702 652.3 701.8 652.9 701.6 653.6 701.4 654.3 701.3 655 701.2" fill="none" stroke="#5f7fe8" stroke-width="1.55" stroke-opacity="0.92" stroke-linejoin="round"/>
<path d="M429.8 714.1L430.5 710.3 431.2 706.3 431.9 702.2 432.5 698.1 433.2 693.8 433.9 689.5 434.6 685.1 435.3 680.6 436 676.1 436.6 671.4 437.3 666.4 438 661.1 438.7 655.7 439.4 650.5 440.1 645.5 440.8 640.9 441.4 636.7 442.1 632.8 442.8 629.1 443.5 625.6 444.2 622.3 444.9 619.3 445.5 616.4 446.2 613.7 446.9 611.3 447.6 609.2 448.3 607.7 449 606.9 449.7 607 450.3 607.8 451 609.1 451.7 610.8 452.4 612.7 453.1 614.7 453.8 616.7 454.4 618.8 455.1 620.8 455.8 622.9 456.5 624.9 457.2 626.8 457.9 628.7 458.5 630.6 459.2 632.4 459.9 634 460.6 635.6 461.3 637.1 462 638.5 462.7 639.7 463.3 640.9 464 642 464.7 642.9 465.4 643.7 466.1 644.5 466.8 645.2 467.4 645.8 468.1 646.4 468.8 647 469.5 647.6 470.2 648.1 470.9 648.6 471.6 649 472.2 649.5 472.9 649.9 473.6 650.3 474.3 650.7 475 651.1 475.7 651.5 476.3 651.9 477 652.4 477.7 652.8 478.4 653.3 479.1 653.8 479.8 654.3 480.5 654.9 481.1 655.4 481.8 656 482.5 656.6 483.2 657.1 483.9 657.7 484.6 658.2 485.2 658.8 485.9 659.2 486.6 659.7 487.3 660.1 488 660.4 488.7 660.7 489.4 661 490 661.2 490.7 661.4 491.4 661.5 492.1 661.6 492.8 661.7 493.5 661.8 494.1 661.8 494.8 661.8 495.5 661.9 496.2 661.9 496.9 661.9 497.6 661.9 498.2 662 498.9 662 499.6 662.1 500.3 662.2 501 662.3 501.7 662.4 502.4 662.6 503 662.8 503.7 663 504.4 663.2 505.1 663.5 505.8 663.7 506.5 664 507.1 664.3 507.8 664.6 508.5 664.8 509.2 665.1 509.9 665.4 510.6 665.7 511.3 665.9 511.9 666.1 512.6 666.3 513.3 666.5 514 666.7 514.7 666.9 515.4 667 516 667.2 516.7 667.3 517.4 667.4 518.1 667.5 518.8 667.7 519.5 667.8 520.2 667.9 520.8 668 521.5 668.2 522.2 668.4 522.9 668.6 523.6 668.8 524.3 669 524.9 669.3 525.6 669.5 526.3 669.8 527 670.2 527.7 670.5 528.4 670.9 529.1 671.2 529.7 671.6 530.4 672 531.1 672.3 531.8 672.7 532.5 673 533.2 673.4 533.8 673.6 534.5 673.9 535.2 674.2 535.9 674.4 536.6 674.5 537.3 674.7 538 674.7 538.6 674.8 539.3 674.8 540 674.8 540.7 674.7 541.4 674.7 542.1 674.5 542.7 674.4 543.4 674.3 544.1 674.1 544.8 674 545.5 673.8 546.2 673.7 546.8 673.6 547.5 673.5 548.2 673.4 548.9 673.4 549.6 673.3 550.3 673.3 551 673.4 551.6 673.4 552.3 673.5 553 673.7 553.7 673.8 554.4 674 555.1 674.2 555.7 674.5 556.4 674.7 557.1 674.9 557.8 675.2 558.5 675.5 559.2 675.7 559.9 675.9 560.5 676.2 561.2 676.4 561.9 676.6 562.6 676.8 563.3 676.9 564 677.1 564.6 677.2 565.3 677.3 566 677.4 566.7 677.5 567.4 677.6 568.1 677.6 568.8 677.7 569.4 677.8 570.1 677.8 570.8 677.9 571.5 678 572.2 678.1 572.9 678.2 573.5 678.3 574.2 678.4 574.9 678.6 575.6 678.8 576.3 679 577 679.2 577.7 679.4 578.3 679.6 579 679.8 579.7 680.1 580.4 680.3 581.1 680.5 581.8 680.7 582.4 680.9 583.1 681.1 583.8 681.2 584.5 681.3 585.2 681.4 585.9 681.5 586.6 681.5 587.2 681.5 587.9 681.4 588.6 681.3 589.3 681.2 590 681.1 590.7 680.9 591.3 680.7 592 680.5 592.7 680.3 593.4 680.1 594.1 679.9 594.8 679.7 595.4 679.6 596.1 679.4 596.8 679.3 597.5 679.2 598.2 679.1 598.9 679.1 599.6 679.1 600.2 679.1 600.9 679.2 601.6 679.3 602.3 679.4 603 679.6 603.7 679.8 604.3 680 605 680.3 605.7 680.5 606.4 680.8 607.1 681.1 607.8 681.4 608.5 681.6 609.1 681.9 609.8 682.1 610.5 682.4 611.2 682.6 611.9 682.8 612.6 682.9 613.2 683.1 613.9 683.2 614.6 683.3 615.3 683.4 616 683.4 616.7 683.4 617.4 683.4 618 683.4 618.7 683.4 619.4 683.4 620.1 683.4 620.8 683.4 621.5 683.4 622.1 683.4 622.8 683.4 623.5 683.5 624.2 683.5 624.9 683.6 625.6 683.7 626.3 683.8 626.9 683.9 627.6 684 628.3 684.1 629 684.2 629.7 684.3 630.4 684.4 631 684.6 631.7 684.7 632.4 684.7 633.1 684.8 633.8 684.8 634.5 684.9 635.1 684.9 635.8 684.8 636.5 684.8 637.2 684.7 637.9 684.6 638.6 684.4 639.3 684.3 639.9 684.1 640.6 683.9 641.3 683.7 642 683.6 642.7 683.4 643.4 683.2 644 683 644.7 682.9 645.4 682.7 646.1 682.6 646.8 682.5 647.5 682.5 648.2 682.5 648.8 682.5 649.5 682.6 650.2 682.7 650.9 682.9 651.6 683 652.3 683.2 652.9 683.5 653.6 683.7 654.3 683.9 655 684.1" fill="none" stroke="#6c8ff1" stroke-width="1.55" stroke-opacity="0.92" stroke-linejoin="round"/>
<path d="M429.8 703L430.5 699.3 431.2 695.6 431.9 691.8 432.5 687.9 433.2 683.9 433.9 679.8 434.6 675.7 435.3 671.5 436 667.3 436.6 663 437.3 658.6 438 653.9 438.7 648.9 439.4 643.9 440.1 638.8 440.8 633.9 441.4 629.1 442.1 624.8 442.8 620.7 443.5 617 444.2 613.4 444.9 610.1 445.5 606.9 446.2 603.9 446.9 601 447.6 598.2 448.3 595.7 449 593.2 449.7 591.1 450.3 589.3 451 588.2 451.7 587.9 452.4 588.6 453.1 590.1 453.8 591.9 454.4 593.9 455.1 596.1 455.8 598.4 456.5 600.8 457.2 603.2 457.9 605.6 458.5 608 459.2 610.4 459.9 612.7 460.6 615 461.3 617.2 462 619.2 462.7 621.1 463.3 622.9 464 624.6 464.7 626.1 465.4 627.4 466.1 628.6 466.8 629.7 467.4 630.6 468.1 631.5 468.8 632.2 469.5 632.9 470.2 633.6 470.9 634.3 471.6 635 472.2 635.6 472.9 636.3 473.6 636.9 474.3 637.4 475 638 475.7 638.5 476.3 639 477 639.5 477.7 639.9 478.4 640.4 479.1 640.8 479.8 641.1 480.5 641.5 481.1 641.8 481.8 642 482.5 642.3 483.2 642.4 483.9 642.6 484.6 642.7 485.2 642.7 485.9 642.7 486.6 642.7 487.3 642.7 488 642.7 488.7 642.6 489.4 642.6 490 642.5 490.7 642.5 491.4 642.5 492.1 642.5 492.8 642.6 493.5 642.7 494.1 642.9 494.8 643 495.5 643.3 496.2 643.5 496.9 643.8 497.6 644.1 498.2 644.5 498.9 644.9 499.6 645.3 500.3 645.7 501 646.2 501.7 646.7 502.4 647.1 503 647.6 503.7 648 504.4 648.5 505.1 648.9 505.8 649.3 506.5 649.7 507.1 650.1 507.8 650.5 508.5 650.8 509.2 651.1 509.9 651.4 510.6 651.6 511.3 651.9 511.9 652.1 512.6 652.3 513.3 652.5 514 652.7 514.7 652.9 515.4 653.1 516 653.3 516.7 653.5 517.4 653.7 518.1 653.9 518.8 654.1 519.5 654.3 520.2 654.5 520.8 654.7 521.5 654.9 522.2 655.2 522.9 655.4 523.6 655.6 524.3 655.9 524.9 656.1 525.6 656.3 526.3 656.4 527 656.6 527.7 656.7 528.4 656.9 529.1 656.9 529.7 657 530.4 657 531.1 657 531.8 657 532.5 656.9 533.2 656.8 533.8 656.7 534.5 656.6 535.2 656.5 535.9 656.4 536.6 656.2 537.3 656.1 538 656 538.6 655.9 539.3 655.8 540 655.7 540.7 655.7 541.4 655.7 542.1 655.7 542.7 655.8 543.4 655.9 544.1 656.1 544.8 656.3 545.5 656.5 546.2 656.8 546.8 657.1 547.5 657.5 548.2 657.8 548.9 658.2 549.6 658.6 550.3 659.1 551 659.5 551.6 659.9 552.3 660.3 553 660.8 553.7 661.1 554.4 661.5 555.1 661.9 555.7 662.2 556.4 662.5 557.1 662.7 557.8 663 558.5 663.1 559.2 663.3 559.9 663.4 560.5 663.5 561.2 663.6 561.9 663.6 562.6 663.7 563.3 663.7 564 663.7 564.6 663.7 565.3 663.7 566 663.7 566.7 663.6 567.4 663.6 568.1 663.7 568.8 663.7 569.4 663.7 570.1 663.7 570.8 663.8 571.5 663.8 572.2 663.9 572.9 663.9 573.5 664 574.2 664.1 574.9 664.1 575.6 664.2 576.3 664.2 577 664.3 577.7 664.3 578.3 664.3 579 664.3 579.7 664.3 580.4 664.2 581.1 664.2 581.8 664.1 582.4 664 583.1 663.9 583.8 663.8 584.5 663.7 585.2 663.6 585.9 663.4 586.6 663.3 587.2 663.2 587.9 663.2 588.6 663.1 589.3 663.1 590 663.1 590.7 663.1 591.3 663.2 592 663.3 592.7 663.4 593.4 663.6 594.1 663.8 594.8 664.1 595.4 664.4 596.1 664.7 596.8 665.1 597.5 665.4 598.2 665.8 598.9 666.2 599.6 666.6 600.2 667 600.9 667.4 601.6 667.7 602.3 668.1 603 668.4 603.7 668.7 604.3 669 605 669.2 605.7 669.4 606.4 669.5 607.1 669.6 607.8 669.7 608.5 669.7 609.1 669.7 609.8 669.7 610.5 669.6 611.2 669.5 611.9 669.4 612.6 669.2 613.2 669.1 613.9 668.9 614.6 668.7 615.3 668.6 616 668.4 616.7 668.3 617.4 668.1 618 668 618.7 667.9 619.4 667.8 620.1 667.8 620.8 667.7 621.5 667.7 622.1 667.7 622.8 667.7 623.5 667.7 624.2 667.7 624.9 667.8 625.6 667.8 626.3 667.8 626.9 667.9 627.6 667.9 628.3 667.9 629 667.9 629.7 667.9 630.4 667.9 631 667.9 631.7 667.9 632.4 667.8 633.1 667.8 633.8 667.8 634.5 667.7 635.1 667.7 635.8 667.6 636.5 667.6 637.2 667.6 637.9 667.6 638.6 667.6 639.3 667.7 639.9 667.8 640.6 667.9 641.3 668 642 668.2 642.7 668.4 643.4 668.6 644 668.8 644.7 669.1 645.4 669.4 646.1 669.7 646.8 670.1 647.5 670.4 648.2 670.7 648.8 671.1 649.5 671.4 650.2 671.7 650.9 672 651.6 672.2 652.3 672.4 652.9 672.6 653.6 672.8 654.3 672.9 655 673" fill="none" stroke="#7b9ff9" stroke-width="1.55" stroke-opacity="0.92" stroke-linejoin="round"/>
<path d="M429.8 691.9L430.5 688.7 431.2 685.6 431.9 682.3 432.5 679 433.2 675.7 433.9 672.3 434.6 668.9 435.3 665.4 436 661.8 436.6 658.3 437.3 654.7 438 651 438.7 647.3 439.4 643.5 440.1 639.6 440.8 635.4 441.4 631.1 442.1 626.8 442.8 622.4 443.5 618.2 444.2 614 444.9 610 445.5 606.2 446.2 602.7 446.9 599.4 447.6 596.3 448.3 593.4 449 590.6 449.7 587.8 450.3 585.2 451 582.6 451.7 580.1 452.4 577.6 453.1 575.1 453.8 572.7 454.4 570.4 455.1 568.3 455.8 566.5 456.5 565.4 457.2 565.1 457.9 565.8 458.5 567.2 459.2 569 459.9 571 460.6 573.1 461.3 575.3 462 577.6 462.7 579.9 463.3 582.2 464 584.6 464.7 586.9 465.4 589.1 466.1 591.3 466.8 593.3 467.4 595.3 468.1 597.1 468.8 598.9 469.5 600.4 470.2 601.9 470.9 603.2 471.6 604.3 472.2 605.4 472.9 606.3 473.6 607.1 474.3 607.8 475 608.5 475.7 609.1 476.3 609.8 477 610.5 477.7 611.2 478.4 611.9 479.1 612.5 479.8 613.1 480.5 613.7 481.1 614.2 481.8 614.7 482.5 615.2 483.2 615.7 483.9 616.1 484.6 616.5 485.2 616.9 485.9 617.3 486.6 617.6 487.3 617.8 488 618.1 488.7 618.3 489.4 618.4 490 618.5 490.7 618.6 491.4 618.6 492.1 618.7 492.8 618.7 493.5 618.7 494.1 618.7 494.8 618.7 495.5 618.8 496.2 618.9 496.9 619 497.6 619.1 498.2 619.3 498.9 619.5 499.6 619.8 500.3 620.1 501 620.5 501.7 620.9 502.4 621.3 503 621.8 503.7 622.3 504.4 622.8 505.1 623.4 505.8 623.9 506.5 624.5 507.1 625.1 507.8 625.6 508.5 626.2 509.2 626.7 509.9 627.3 510.6 627.7 511.3 628.2 511.9 628.6 512.6 629 513.3 629.4 514 629.7 514.7 630 515.4 630.3 516 630.5 516.7 630.7 517.4 630.9 518.1 631.1 518.8 631.2 519.5 631.4 520.2 631.5 520.8 631.6 521.5 631.8 522.2 631.9 522.9 632.1 523.6 632.2 524.3 632.4 524.9 632.6 525.6 632.7 526.3 632.9 527 633.2 527.7 633.4 528.4 633.6 529.1 633.8 529.7 634 530.4 634.3 531.1 634.5 531.8 634.7 532.5 634.8 533.2 635 533.8 635.1 534.5 635.3 535.2 635.3 535.9 635.4 536.6 635.4 537.3 635.5 538 635.5 538.6 635.4 539.3 635.4 540 635.3 540.7 635.3 541.4 635.2 542.1 635.1 542.7 635.1 543.4 635 544.1 635 544.8 635 545.5 635 546.2 635.1 546.8 635.2 547.5 635.3 548.2 635.5 548.9 635.7 549.6 636 550.3 636.3 551 636.7 551.6 637 552.3 637.4 553 637.9 553.7 638.3 554.4 638.8 555.1 639.3 555.7 639.8 556.4 640.3 557.1 640.7 557.8 641.2 558.5 641.6 559.2 642 559.9 642.4 560.5 642.7 561.2 643 561.9 643.2 562.6 643.4 563.3 643.6 564 643.7 564.6 643.8 565.3 643.9 566 643.9 566.7 643.9 567.4 643.8 568.1 643.8 568.8 643.7 569.4 643.6 570.1 643.6 570.8 643.5 571.5 643.4 572.2 643.3 572.9 643.3 573.5 643.3 574.2 643.3 574.9 643.3 575.6 643.3 576.3 643.3 577 643.4 577.7 643.5 578.3 643.5 579 643.6 579.7 643.7 580.4 643.9 581.1 644 581.8 644.1 582.4 644.2 583.1 644.2 583.8 644.3 584.5 644.4 585.2 644.4 585.9 644.4 586.6 644.5 587.2 644.4 587.9 644.4 588.6 644.4 589.3 644.4 590 644.3 590.7 644.3 591.3 644.2 592 644.2 592.7 644.2 593.4 644.2 594.1 644.2 594.8 644.2 595.4 644.3 596.1 644.4 596.8 644.5 597.5 644.7 598.2 644.9 598.9 645.1 599.6 645.4 600.2 645.7 600.9 646.1 601.6 646.4 602.3 646.8 603 647.2 603.7 647.6 604.3 648 605 648.4 605.7 648.8 606.4 649.2 607.1 649.5 607.8 649.8 608.5 650.1 609.1 650.3 609.8 650.5 610.5 650.7 611.2 650.8 611.9 650.9 612.6 650.9 613.2 650.9 613.9 650.8 614.6 650.7 615.3 650.6 616 650.4 616.7 650.2 617.4 650 618 649.8 618.7 649.6 619.4 649.4 620.1 649.1 620.8 648.9 621.5 648.7 622.1 648.6 622.8 648.4 623.5 648.3 624.2 648.2 624.9 648.2 625.6 648.2 626.3 648.2 626.9 648.2 627.6 648.2 628.3 648.3 629 648.4 629.7 648.5 630.4 648.6 631 648.7 631.7 648.9 632.4 649 633.1 649.1 633.8 649.2 634.5 649.3 635.1 649.4 635.8 649.5 636.5 649.5 637.2 649.6 637.9 649.6 638.6 649.6 639.3 649.6 639.9 649.7 640.6 649.7 641.3 649.7 642 649.7 642.7 649.7 643.4 649.7 644 649.8 644.7 649.9 645.4 650 646.1 650.1 646.8 650.3 647.5 650.4 648.2 650.6 648.8 650.9 649.5 651.1 650.2 651.4 650.9 651.7 651.6 652 652.3 652.3 652.9 652.6 653.6 652.8 654.3 653.1 655 653.3" fill="none" stroke="#89acfd" stroke-width="1.55" stroke-opacity="0.92" stroke-linejoin="round"/>
<path d="M429.8 680.8L430.5 677.7 431.2 674.6 431.9 671.4 432.5 668.2 433.2 664.9 433.9 661.6 434.6 658.3 435.3 654.9 436 651.5 436.6 648 437.3 644.5 438 641 438.7 637.4 439.4 633.8 440.1 630.1 440.8 626.4 441.4 622.5 442.1 618.5 442.8 614.4 443.5 610.3 444.2 606.1 444.9 602 445.5 597.9 446.2 593.9 446.9 589.9 447.6 586.1 448.3 582.3 449 578.5 449.7 574.7 450.3 570.8 451 567 451.7 563.3 452.4 559.7 453.1 556.5 453.8 553.6 454.4 551 455.1 548.8 455.8 546.9 456.5 545.3 457.2 543.9 457.9 542.9 458.5 542.2 459.2 542.1 459.9 542.8 460.6 544.1 461.3 545.8 462 547.9 462.7 550.2 463.3 552.7 464 555.2 464.7 557.7 465.4 560.4 466.1 563 466.8 565.6 467.4 568.2 468.1 570.8 468.8 573.2 469.5 575.5 470.2 577.8 470.9 579.8 471.6 581.8 472.2 583.5 472.9 585.1 473.6 586.6 474.3 587.8 475 588.9 475.7 589.9 476.3 590.7 477 591.3 477.7 591.9 478.4 592.5 479.1 593.1 479.8 593.7 480.5 594.2 481.1 594.7 481.8 595.2 482.5 595.6 483.2 596.1 483.9 596.5 484.6 596.9 485.2 597.3 485.9 597.7 486.6 598.1 487.3 598.5 488 599 488.7 599.4 489.4 599.8 490 600.2 490.7 600.6 491.4 601 492.1 601.4 492.8 601.7 493.5 602.1 494.1 602.5 494.8 602.8 495.5 603.2 496.2 603.5 496.9 603.9 497.6 604.3 498.2 604.6 498.9 605 499.6 605.4 500.3 605.8 501 606.3 501.7 606.7 502.4 607.2 503 607.7 503.7 608.2 504.4 608.7 505.1 609.2 505.8 609.7 506.5 610.3 507.1 610.8 507.8 611.3 508.5 611.8 509.2 612.3 509.9 612.7 510.6 613.1 511.3 613.5 511.9 613.8 512.6 614.1 513.3 614.3 514 614.5 514.7 614.6 515.4 614.6 516 614.6 516.7 614.6 517.4 614.5 518.1 614.4 518.8 614.2 519.5 614 520.2 613.8 520.8 613.5 521.5 613.3 522.2 613.1 522.9 612.9 523.6 612.7 524.3 612.5 524.9 612.4 525.6 612.3 526.3 612.2 527 612.2 527.7 612.3 528.4 612.4 529.1 612.5 529.7 612.8 530.4 613 531.1 613.3 531.8 613.7 532.5 614.1 533.2 614.6 533.8 615 534.5 615.5 535.2 616 535.9 616.5 536.6 617 537.3 617.5 538 618 538.6 618.5 539.3 618.9 540 619.3 540.7 619.7 541.4 620.1 542.1 620.5 542.7 620.8 543.4 621.1 544.1 621.3 544.8 621.5 545.5 621.8 546.2 622 546.8 622.2 547.5 622.3 548.2 622.5 548.9 622.7 549.6 622.9 550.3 623.1 551 623.2 551.6 623.5 552.3 623.7 553 623.9 553.7 624.1 554.4 624.4 555.1 624.6 555.7 624.8 556.4 625.1 557.1 625.3 557.8 625.5 558.5 625.7 559.2 625.9 559.9 626.1 560.5 626.2 561.2 626.3 561.9 626.3 562.6 626.4 563.3 626.3 564 626.3 564.6 626.2 565.3 626 566 625.8 566.7 625.6 567.4 625.4 568.1 625.1 568.8 624.8 569.4 624.5 570.1 624.3 570.8 624 571.5 623.7 572.2 623.5 572.9 623.3 573.5 623.1 574.2 623 574.9 622.9 575.6 622.9 576.3 622.9 577 623 577.7 623.1 578.3 623.3 579 623.6 579.7 623.9 580.4 624.3 581.1 624.7 581.8 625.2 582.4 625.6 583.1 626.1 583.8 626.6 584.5 627.2 585.2 627.7 585.9 628.2 586.6 628.7 587.2 629.2 587.9 629.6 588.6 630.1 589.3 630.4 590 630.8 590.7 631.1 591.3 631.3 592 631.5 592.7 631.7 593.4 631.8 594.1 631.9 594.8 632 595.4 632 596.1 632 596.8 632 597.5 631.9 598.2 631.9 598.9 631.9 599.6 631.8 600.2 631.8 600.9 631.7 601.6 631.7 602.3 631.7 603 631.7 603.7 631.7 604.3 631.7 605 631.8 605.7 631.8 606.4 631.8 607.1 631.9 607.8 631.9 608.5 632 609.1 632 609.8 632 610.5 632 611.2 631.9 611.9 631.9 612.6 631.8 613.2 631.7 613.9 631.5 614.6 631.4 615.3 631.2 616 631 616.7 630.8 617.4 630.6 618 630.4 618.7 630.1 619.4 629.9 620.1 629.7 620.8 629.5 621.5 629.4 622.1 629.2 622.8 629.2 623.5 629.1 624.2 629.1 624.9 629.2 625.6 629.3 626.3 629.5 626.9 629.7 627.6 630 628.3 630.3 629 630.7 629.7 631.1 630.4 631.5 631 632 631.7 632.5 632.4 633 633.1 633.6 633.8 634.1 634.5 634.6 635.1 635.1 635.8 635.5 636.5 635.9 637.2 636.3 637.9 636.6 638.6 636.9 639.3 637.1 639.9 637.3 640.6 637.4 641.3 637.5 642 637.5 642.7 637.5 643.4 637.4 644 637.3 644.7 637.1 645.4 636.9 646.1 636.7 646.8 636.5 647.5 636.2 648.2 636 648.8 635.8 649.5 635.5 650.2 635.3 650.9 635.1 651.6 634.9 652.3 634.8 652.9 634.6 653.6 634.5 654.3 634.5 655 634.4" fill="none" stroke="#97b8ff" stroke-width="1.55" stroke-opacity="0.92" stroke-linejoin="round"/>
<path d="M429.8 669.6L430.5 669.5 431.2 669.3 431.9 669.1 432.5 668.9 433.2 668.7 433.9 668.4 434.6 668.2 435.3 667.9 436 667.6 436.6 667.3 437.3 666.8 438 666.3 438.7 665.3 439.4 663.4 440.1 660.7 440.8 657.4 441.4 653.4 442.1 649 442.8 644.2 443.5 639.2 444.2 634 444.9 628.8 445.5 623.7 446.2 618.8 446.9 614 447.6 609.3 448.3 604.4 449 599.2 449.7 594 450.3 588.7 451 583.4 451.7 578.2 452.4 573 453.1 568 453.8 563.1 454.4 558.2 455.1 553.3 455.8 548.3 456.5 543.4 457.2 538.8 457.9 534.5 458.5 530.7 459.2 527.4 459.9 524.8 460.6 522.6 461.3 520.8 462 519.3 462.7 518.1 463.3 517.4 464 517.4 464.7 518.2 465.4 519.8 466.1 522.1 466.8 524.8 467.4 527.7 468.1 530.8 468.8 534.1 469.5 537.4 470.2 540.8 470.9 544.2 471.6 547.7 472.2 551 472.9 554.4 473.6 557.6 474.3 560.6 475 563.6 475.7 566.3 476.3 568.9 477 571.2 477.7 573.3 478.4 575.2 479.1 576.9 479.8 578.4 480.5 579.8 481.1 580.9 481.8 582 482.5 583 483.2 583.9 483.9 584.7 484.6 585.6 485.2 586.4 485.9 587.1 486.6 587.8 487.3 588.4 488 589 488.7 589.6 489.4 590.1 490 590.5 490.7 590.9 491.4 591.3 492.1 591.6 492.8 591.9 493.5 592.1 494.1 592.3 494.8 592.5 495.5 592.6 496.2 592.7 496.9 592.8 497.6 592.9 498.2 592.9 498.9 592.9 499.6 593 500.3 593 501 593 501.7 593.1 502.4 593.2 503 593.3 503.7 593.4 504.4 593.6 505.1 593.7 505.8 593.9 506.5 594.1 507.1 594.3 507.8 594.5 508.5 594.8 509.2 595 509.9 595.2 510.6 595.4 511.3 595.6 511.9 595.8 512.6 595.9 513.3 596.1 514 596.2 514.7 596.3 515.4 596.4 516 596.5 516.7 596.5 517.4 596.6 518.1 596.6 518.8 596.7 519.5 596.8 520.2 596.8 520.8 596.9 521.5 597 522.2 597.2 522.9 597.3 523.6 597.5 524.3 597.8 524.9 598 525.6 598.3 526.3 598.7 527 599.1 527.7 599.5 528.4 599.9 529.1 600.4 529.7 600.9 530.4 601.4 531.1 601.9 531.8 602.4 532.5 602.9 533.2 603.4 533.8 603.9 534.5 604.3 535.2 604.7 535.9 605.1 536.6 605.4 537.3 605.7 538 605.9 538.6 606.1 539.3 606.2 540 606.3 540.7 606.3 541.4 606.2 542.1 606.2 542.7 606 543.4 605.9 544.1 605.7 544.8 605.5 545.5 605.3 546.2 605.1 546.8 604.8 547.5 604.6 548.2 604.4 548.9 604.2 549.6 604.1 550.3 604 551 603.9 551.6 603.8 552.3 603.8 553 603.8 553.7 603.9 554.4 604 555.1 604.1 555.7 604.2 556.4 604.4 557.1 604.6 557.8 604.8 558.5 605 559.2 605.2 559.9 605.4 560.5 605.7 561.2 605.9 561.9 606.1 562.6 606.2 563.3 606.4 564 606.5 564.6 606.7 565.3 606.8 566 606.9 566.7 607 567.4 607 568.1 607.1 568.8 607.2 569.4 607.2 570.1 607.3 570.8 607.4 571.5 607.5 572.2 607.6 572.9 607.8 573.5 607.9 574.2 608.1 574.9 608.4 575.6 608.6 576.3 608.9 577 609.2 577.7 609.5 578.3 609.9 579 610.2 579.7 610.6 580.4 610.9 581.1 611.3 581.8 611.6 582.4 612 583.1 612.3 583.8 612.5 584.5 612.8 585.2 613 585.9 613.1 586.6 613.2 587.2 613.3 587.9 613.3 588.6 613.2 589.3 613.1 590 613 590.7 612.8 591.3 612.6 592 612.3 592.7 612 593.4 611.7 594.1 611.4 594.8 611.1 595.4 610.8 596.1 610.5 596.8 610.2 597.5 609.9 598.2 609.7 598.9 609.5 599.6 609.3 600.2 609.2 600.9 609.1 601.6 609.1 602.3 609.1 603 609.2 603.7 609.3 604.3 609.4 605 609.6 605.7 609.8 606.4 610.1 607.1 610.3 607.8 610.6 608.5 610.9 609.1 611.2 609.8 611.5 610.5 611.8 611.2 612 611.9 612.3 612.6 612.5 613.2 612.7 613.9 612.9 614.6 613 615.3 613.2 616 613.3 616.7 613.4 617.4 613.4 618 613.5 618.7 613.6 619.4 613.6 620.1 613.6 620.8 613.7 621.5 613.7 622.1 613.8 622.8 613.9 623.5 614 624.2 614.1 624.9 614.2 625.6 614.4 626.3 614.5 626.9 614.7 627.6 614.9 628.3 615.1 629 615.3 629.7 615.5 630.4 615.7 631 615.9 631.7 616.1 632.4 616.2 633.1 616.4 633.8 616.5 634.5 616.5 635.1 616.5 635.8 616.5 636.5 616.5 637.2 616.4 637.9 616.2 638.6 616.1 639.3 615.8 639.9 615.6 640.6 615.3 641.3 615 642 614.7 642.7 614.4 643.4 614 644 613.7 644.7 613.4 645.4 613.1 646.1 612.8 646.8 612.5 647.5 612.3 648.2 612.2 648.8 612 649.5 612 650.2 612 650.9 612 651.6 612.1 652.3 612.2 652.9 612.4 653.6 612.6 654.3 612.8 655 613" fill="none" stroke="#a5c3fe" stroke-width="1.55" stroke-opacity="0.92" stroke-linejoin="round"/>
<path d="M429.8 658.5L430.5 658.4 431.2 658.3 431.9 658.1 432.5 658 433.2 657.8 433.9 657.6 434.6 657.4 435.3 657.2 436 657 436.6 656.8 437.3 656.6 438 656.4 438.7 656.1 439.4 655.8 440.1 655.5 440.8 655 441.4 654.4 442.1 652.9 442.8 650.6 443.5 647.6 444.2 644 444.9 639.9 445.5 635.4 446.2 630.5 446.9 625.5 447.6 620.3 448.3 615 449 609.9 449.7 604.9 450.3 600.1 451 595.4 451.7 590.6 452.4 585.6 453.1 580.4 453.8 575.2 454.4 569.9 455.1 564.6 455.8 559.4 456.5 554.3 457.2 549.3 457.9 544.4 458.5 539.5 459.2 534.6 459.9 529.6 460.6 524.7 461.3 519.9 462 515.4 462.7 511.3 463.3 507.7 464 504.6 464.7 502.1 465.4 499.9 466.1 498.1 466.8 496.6 467.4 495.4 468.1 494.7 468.8 494.6 469.5 495.4 470.2 497.1 470.9 499.7 471.6 502.8 472.2 506.3 472.9 509.9 473.6 513.7 474.3 517.7 475 521.7 475.7 525.8 476.3 529.9 477 534 477.7 537.9 478.4 541.8 479.1 545.5 479.8 549 480.5 552.4 481.1 555.5 481.8 558.3 482.5 561 483.2 563.3 483.9 565.5 484.6 567.4 485.2 569.1 485.9 570.6 486.6 571.8 487.3 572.9 488 573.9 488.7 574.8 489.4 575.5 490 576.2 490.7 576.7 491.4 577.1 492.1 577.4 492.8 577.7 493.5 577.8 494.1 577.9 494.8 578 495.5 577.9 496.2 577.9 496.9 577.8 497.6 577.7 498.2 577.6 498.9 577.5 499.6 577.4 500.3 577.4 501 577.3 501.7 577.4 502.4 577.5 503 577.6 503.7 577.8 504.4 578.1 505.1 578.5 505.8 579 506.5 579.5 507.1 580.1 507.8 580.7 508.5 581.4 509.2 582.1 509.9 582.8 510.6 583.5 511.3 584.1 511.9 584.8 512.6 585.4 513.3 585.9 514 586.4 514.7 586.9 515.4 587.2 516 587.5 516.7 587.8 517.4 588 518.1 588.1 518.8 588.1 519.5 588.1 520.2 588.1 520.8 588 521.5 587.9 522.2 587.7 522.9 587.5 523.6 587.4 524.3 587.2 524.9 587 525.6 586.9 526.3 586.7 527 586.6 527.7 586.5 528.4 586.5 529.1 586.4 529.7 586.4 530.4 586.5 531.1 586.5 531.8 586.6 532.5 586.7 533.2 586.9 533.8 587 534.5 587.1 535.2 587.2 535.9 587.4 536.6 587.5 537.3 587.6 538 587.6 538.6 587.6 539.3 587.7 540 587.6 540.7 587.6 541.4 587.5 542.1 587.4 542.7 587.3 543.4 587.1 544.1 587 544.8 586.9 545.5 586.7 546.2 586.6 546.8 586.5 547.5 586.4 548.2 586.4 548.9 586.4 549.6 586.4 550.3 586.6 551 586.7 551.6 586.9 552.3 587.2 553 587.6 553.7 588 554.4 588.4 555.1 588.9 555.7 589.4 556.4 590 557.1 590.6 557.8 591.2 558.5 591.8 559.2 592.4 559.9 593 560.5 593.5 561.2 594 561.9 594.5 562.6 594.9 563.3 595.2 564 595.5 564.6 595.7 565.3 595.9 566 595.9 566.7 595.9 567.4 595.8 568.1 595.7 568.8 595.5 569.4 595.2 570.1 594.9 570.8 594.6 571.5 594.2 572.2 593.9 572.9 593.5 573.5 593.1 574.2 592.7 574.9 592.4 575.6 592.1 576.3 591.8 577 591.6 577.7 591.4 578.3 591.2 579 591.1 579.7 591.1 580.4 591.1 581.1 591.1 581.8 591.2 582.4 591.3 583.1 591.4 583.8 591.6 584.5 591.7 585.2 591.9 585.9 592.1 586.6 592.2 587.2 592.4 587.9 592.5 588.6 592.6 589.3 592.7 590 592.8 590.7 592.8 591.3 592.8 592 592.8 592.7 592.8 593.4 592.8 594.1 592.8 594.8 592.7 595.4 592.7 596.1 592.7 596.8 592.7 597.5 592.7 598.2 592.7 598.9 592.8 599.6 592.9 600.2 593.1 600.9 593.3 601.6 593.6 602.3 593.9 603 594.2 603.7 594.6 604.3 595 605 595.4 605.7 595.9 606.4 596.4 607.1 596.9 607.8 597.3 608.5 597.8 609.1 598.2 609.8 598.6 610.5 598.9 611.2 599.2 611.9 599.5 612.6 599.7 613.2 599.8 613.9 599.8 614.6 599.8 615.3 599.6 616 599.5 616.7 599.2 617.4 598.9 618 598.6 618.7 598.2 619.4 597.7 620.1 597.3 620.8 596.8 621.5 596.3 622.1 595.8 622.8 595.3 623.5 594.9 624.2 594.5 624.9 594.1 625.6 593.8 626.3 593.5 626.9 593.3 627.6 593.1 628.3 593 629 593 629.7 593 630.4 593.1 631 593.3 631.7 593.5 632.4 593.7 633.1 593.9 633.8 594.2 634.5 594.5 635.1 594.8 635.8 595.1 636.5 595.4 637.2 595.6 637.9 595.9 638.6 596.1 639.3 596.3 639.9 596.5 640.6 596.7 641.3 596.8 642 596.9 642.7 596.9 643.4 597 644 597 644.7 597 645.4 597 646.1 597 646.8 597 647.5 597.1 648.2 597.1 648.8 597.2 649.5 597.3 650.2 597.4 650.9 597.6 651.6 597.8 652.3 598 652.9 598.2 653.6 598.5 654.3 598.7 655 598.9" fill="none" stroke="#b3cdfb" stroke-width="1.55" stroke-opacity="0.92" stroke-linejoin="round"/>
<path d="M429.8 647.4L430.5 647.3 431.2 647.2 431.9 647.1 432.5 647 433.2 646.8 433.9 646.7 434.6 646.6 435.3 646.4 436 646.3 436.6 646.1 437.3 645.9 438 645.8 438.7 645.6 439.4 645.5 440.1 645.3 440.8 645.1 441.4 644.9 442.1 644.6 442.8 644.4 443.5 644.1 444.2 643.7 444.9 643.1 445.5 641.7 446.2 639.5 446.9 636.6 447.6 633.1 448.3 629.1 449 624.6 449.7 619.9 450.3 614.8 451 609.7 451.7 604.4 452.4 599.2 453.1 594.1 453.8 589.2 454.4 584.4 455.1 579.7 455.8 574.8 456.5 569.8 457.2 564.6 457.9 559.4 458.5 554.1 459.2 548.8 459.9 543.6 460.6 538.4 461.3 533.4 462 528.5 462.7 523.6 463.3 518.7 464 513.7 464.7 508.8 465.4 503.9 466.1 499.2 466.8 494.8 467.4 490.8 468.1 487.4 468.8 484.4 469.5 482 470.2 479.9 470.9 478.2 471.6 476.6 472.2 475.4 472.9 474.6 473.6 474.4 474.3 475.1 475 476.9 475.7 479.6 476.3 483 477 486.8 477.7 490.9 478.4 495.2 479.1 499.6 479.8 504.2 480.5 508.8 481.1 513.4 481.8 518 482.5 522.5 483.2 526.9 483.9 531.1 484.6 535.2 485.2 539 485.9 542.5 486.6 545.8 487.3 548.8 488 551.6 488.7 554 489.4 556.2 490 558.1 490.7 559.7 491.4 561.1 492.1 562.4 492.8 563.5 493.5 564.5 494.1 565.4 494.8 566.3 495.5 567.1 496.2 567.8 496.9 568.5 497.6 569.1 498.2 569.7 498.9 570.2 499.6 570.8 500.3 571.3 501 571.8 501.7 572.4 502.4 572.9 503 573.5 503.7 574 504.4 574.5 505.1 575.1 505.8 575.6 506.5 576.1 507.1 576.5 507.8 576.9 508.5 577.3 509.2 577.7 509.9 577.9 510.6 578.1 511.3 578.2 511.9 578.3 512.6 578.3 513.3 578.2 514 578.1 514.7 578 515.4 577.8 516 577.6 516.7 577.4 517.4 577.2 518.1 577.1 518.8 576.9 519.5 576.7 520.2 576.6 520.8 576.5 521.5 576.4 522.2 576.4 522.9 576.4 523.6 576.5 524.3 576.6 524.9 576.7 525.6 576.9 526.3 577.2 527 577.5 527.7 577.8 528.4 578.2 529.1 578.6 529.7 579 530.4 579.4 531.1 579.8 531.8 580.3 532.5 580.7 533.2 581.2 533.8 581.6 534.5 582 535.2 582.4 535.9 582.8 536.6 583.1 537.3 583.5 538 583.8 538.6 584.1 539.3 584.4 540 584.6 540.7 584.9 541.4 585.1 542.1 585.3 542.7 585.5 543.4 585.7 544.1 586 544.8 586.2 545.5 586.4 546.2 586.6 546.8 586.9 547.5 587.1 548.2 587.4 548.9 587.7 549.6 588 550.3 588.3 551 588.5 551.6 588.8 552.3 589.1 553 589.4 553.7 589.6 554.4 589.9 555.1 590.1 555.7 590.2 556.4 590.4 557.1 590.5 557.8 590.5 558.5 590.6 559.2 590.5 559.9 590.5 560.5 590.4 561.2 590.2 561.9 590 562.6 589.8 563.3 589.6 564 589.4 564.6 589.1 565.3 588.8 566 588.5 566.7 588.3 567.4 588 568.1 587.8 568.8 587.6 569.4 587.4 570.1 587.3 570.8 587.2 571.5 587.2 572.2 587.3 572.9 587.3 573.5 587.5 574.2 587.7 574.9 587.9 575.6 588.2 576.3 588.5 577 588.9 577.7 589.3 578.3 589.7 579 590.2 579.7 590.6 580.4 591.1 581.1 591.6 581.8 592 582.4 592.5 583.1 592.9 583.8 593.3 584.5 593.7 585.2 594 585.9 594.3 586.6 594.6 587.2 594.9 587.9 595.1 588.6 595.2 589.3 595.4 590 595.5 590.7 595.6 591.3 595.6 592 595.7 592.7 595.7 593.4 595.8 594.1 595.8 594.8 595.8 595.4 595.8 596.1 595.8 596.8 595.9 597.5 595.9 598.2 596 598.9 596 599.6 596.1 600.2 596.2 600.9 596.2 601.6 596.3 602.3 596.4 603 596.4 603.7 596.5 604.3 596.5 605 596.6 605.7 596.6 606.4 596.5 607.1 596.5 607.8 596.4 608.5 596.3 609.1 596.2 609.8 596 610.5 595.9 611.2 595.7 611.9 595.5 612.6 595.2 613.2 595 613.9 594.7 614.6 594.5 615.3 594.3 616 594.1 616.7 593.9 617.4 593.7 618 593.6 618.7 593.5 619.4 593.4 620.1 593.4 620.8 593.5 621.5 593.6 622.1 593.8 622.8 594 623.5 594.2 624.2 594.5 624.9 594.9 625.6 595.3 626.3 595.7 626.9 596.1 627.6 596.6 628.3 597.1 629 597.5 629.7 598 630.4 598.5 631 598.9 631.7 599.3 632.4 599.7 633.1 600.1 633.8 600.4 634.5 600.7 635.1 600.9 635.8 601.1 636.5 601.2 637.2 601.3 637.9 601.3 638.6 601.3 639.3 601.3 639.9 601.2 640.6 601.1 641.3 601 642 600.8 642.7 600.6 643.4 600.5 644 600.3 644.7 600.1 645.4 600 646.1 599.8 646.8 599.7 647.5 599.6 648.2 599.5 648.8 599.4 649.5 599.3 650.2 599.2 650.9 599.2 651.6 599.2 652.3 599.1 652.9 599.1 653.6 599.1 654.3 599.1 655 599.1" fill="none" stroke="#c0d4f5" stroke-width="1.55" stroke-opacity="0.92" stroke-linejoin="round"/>
<path d="M429.8 636.3L430.5 636.2 431.2 636.1 431.9 636 432.5 635.9 433.2 635.9 433.9 635.8 434.6 635.6 435.3 635.5 436 635.4 436.6 635.3 437.3 635.2 438 635.1 438.7 634.9 439.4 634.8 440.1 634.7 440.8 634.5 441.4 634.4 442.1 634.3 442.8 634.2 443.5 634 444.2 633.9 444.9 633.7 445.5 633.5 446.2 633.3 446.9 633 447.6 632.7 448.3 632.4 449 631.6 449.7 630 450.3 627.6 451 624.4 451.7 620.8 452.4 616.6 453.1 612 453.8 607.1 454.4 601.9 455.1 596.7 455.8 591.4 456.5 586.1 457.2 581 457.9 576.1 458.5 571.3 459.2 566.5 459.9 561.5 460.6 556.4 461.3 551.2 462 545.9 462.7 540.5 463.3 535.2 464 529.9 464.7 524.7 465.4 519.7 466.1 514.8 466.8 509.9 467.4 504.9 468.1 499.9 468.8 494.8 469.5 489.9 470.2 485.1 470.9 480.7 471.6 476.8 472.2 473.4 472.9 470.7 473.6 468.4 474.3 466.5 475 464.9 475.7 463.5 476.3 462.2 477 461.3 477.7 461 478.4 461.5 479.1 463.3 479.8 466.1 480.5 469.7 481.1 473.6 481.8 477.8 482.5 482.2 483.2 486.8 483.9 491.4 484.6 496.2 485.2 501 485.9 505.7 486.6 510.4 487.3 515 488 519.4 488.7 523.6 489.4 527.5 490 531.2 490.7 534.7 491.4 537.8 492.1 540.7 492.8 543.2 493.5 545.5 494.1 547.5 494.8 549.2 495.5 550.7 496.2 552 496.9 553.1 497.6 554.2 498.2 555.1 498.9 555.9 499.6 556.6 500.3 557.3 501 557.9 501.7 558.4 502.4 558.9 503 559.4 503.7 559.9 504.4 560.3 505.1 560.7 505.8 561.1 506.5 561.4 507.1 561.8 507.8 562 508.5 562.3 509.2 562.4 509.9 562.6 510.6 562.6 511.3 562.6 511.9 562.5 512.6 562.4 513.3 562.2 514 561.9 514.7 561.6 515.4 561.3 516 560.9 516.7 560.5 517.4 560.2 518.1 559.8 518.8 559.5 519.5 559.3 520.2 559.1 520.8 558.9 521.5 558.8 522.2 558.8 522.9 558.8 523.6 558.9 524.3 559.1 524.9 559.3 525.6 559.6 526.3 560 527 560.3 527.7 560.8 528.4 561.2 529.1 561.7 529.7 562.2 530.4 562.7 531.1 563.2 531.8 563.7 532.5 564.1 533.2 564.5 533.8 564.9 534.5 565.3 535.2 565.6 535.9 565.8 536.6 566 537.3 566.2 538 566.3 538.6 566.4 539.3 566.4 540 566.4 540.7 566.4 541.4 566.4 542.1 566.3 542.7 566.3 543.4 566.3 544.1 566.3 544.8 566.3 545.5 566.3 546.2 566.3 546.8 566.4 547.5 566.5 548.2 566.7 548.9 566.8 549.6 567 550.3 567.2 551 567.4 551.6 567.7 552.3 567.9 553 568.1 553.7 568.3 554.4 568.5 555.1 568.7 555.7 568.8 556.4 568.9 557.1 569 557.8 569 558.5 569 559.2 568.9 559.9 568.7 560.5 568.5 561.2 568.3 561.9 568 562.6 567.7 563.3 567.4 564 567 564.6 566.6 565.3 566.3 566 565.9 566.7 565.6 567.4 565.3 568.1 565 568.8 564.7 569.4 564.6 570.1 564.5 570.8 564.4 571.5 564.4 572.2 564.5 572.9 564.7 573.5 564.9 574.2 565.2 574.9 565.5 575.6 565.9 576.3 566.4 577 566.9 577.7 567.4 578.3 567.9 579 568.4 579.7 569 580.4 569.5 581.1 570 581.8 570.4 582.4 570.8 583.1 571.2 583.8 571.5 584.5 571.8 585.2 572 585.9 572.1 586.6 572.2 587.2 572.3 587.9 572.3 588.6 572.2 589.3 572.1 590 572 590.7 571.8 591.3 571.6 592 571.4 592.7 571.2 593.4 571 594.1 570.9 594.8 570.7 595.4 570.6 596.1 570.5 596.8 570.4 597.5 570.4 598.2 570.3 598.9 570.4 599.6 570.4 600.2 570.5 600.9 570.6 601.6 570.7 602.3 570.8 603 570.9 603.7 571 604.3 571.1 605 571.2 605.7 571.3 606.4 571.3 607.1 571.3 607.8 571.2 608.5 571.2 609.1 571.1 609.8 570.9 610.5 570.7 611.2 570.5 611.9 570.2 612.6 570 613.2 569.7 613.9 569.4 614.6 569.1 615.3 568.8 616 568.6 616.7 568.4 617.4 568.2 618 568 618.7 567.9 619.4 567.9 620.1 567.9 620.8 568 621.5 568.2 622.1 568.4 622.8 568.7 623.5 569 624.2 569.4 624.9 569.9 625.6 570.5 626.3 571.1 626.9 571.8 627.6 572.6 628.3 573.3 629 574.1 629.7 574.9 630.4 575.7 631 576.4 631.7 577.2 632.4 577.9 633.1 578.5 633.8 579.1 634.5 579.7 635.1 580.2 635.8 580.6 636.5 581 637.2 581.3 637.9 581.6 638.6 581.9 639.3 582.1 639.9 582.2 640.6 582.4 641.3 582.5 642 582.7 642.7 582.8 643.4 582.9 644 583.1 644.7 583.2 645.4 583.4 646.1 583.6 646.8 583.8 647.5 584.1 648.2 584.3 648.8 584.6 649.5 584.9 650.2 585.2 650.9 585.5 651.6 585.8 652.3 586 652.9 586.3 653.6 586.5 654.3 586.7 655 586.8" fill="none" stroke="#ccd9ed" stroke-width="1.55" stroke-opacity="0.92" stroke-linejoin="round"/>
<path d="M429.8 625.1L430.5 625.1 431.2 625 431.9 625 432.5 624.9 433.2 624.8 433.9 624.7 434.6 624.6 435.3 624.6 436 624.5 436.6 624.4 437.3 624.3 438 624.2 438.7 624.1 439.4 624 440.1 623.9 440.8 623.8 441.4 623.6 442.1 623.5 442.8 623.4 443.5 623.3 444.2 623.2 444.9 623.1 445.5 623 446.2 622.9 446.9 622.8 447.6 622.7 448.3 622.5 449 622.3 449.7 622.1 450.3 621.9 451 621.7 451.7 621.4 452.4 621.1 453.1 620 453.8 618.1 454.4 615.5 455.1 612.2 455.8 608.3 456.5 604 457.2 599.2 457.9 594.2 458.5 588.9 459.2 583.6 459.9 578.2 460.6 573 461.3 567.8 462 562.9 462.7 558.1 463.3 553.2 464 548.2 464.7 543 465.4 537.7 466.1 532.3 466.8 526.9 467.4 521.6 468.1 516.3 468.8 511.1 469.5 506 470.2 501.1 470.9 496.1 471.6 491.1 472.2 485.9 472.9 480.9 473.6 475.9 474.3 471.2 475 466.8 475.7 463 476.3 459.8 477 457.2 477.7 455.1 478.4 453.4 479.1 451.8 479.8 450.4 480.5 449.3 481.1 448.4 481.8 448 482.5 448.5 483.2 450.1 483.9 452.9 484.6 456.5 485.2 460.5 485.9 464.8 486.6 469.2 487.3 473.9 488 478.7 488.7 483.6 489.4 488.5 490 493.4 490.7 498.2 491.4 502.9 492.1 507.5 492.8 511.8 493.5 515.9 494.1 519.8 494.8 523.3 495.5 526.6 496.2 529.6 496.9 532.3 497.6 534.8 498.2 537 498.9 538.9 499.6 540.5 500.3 541.9 501 543.1 501.7 544.1 502.4 544.9 503 545.5 503.7 546 504.4 546.4 505.1 546.6 505.8 546.7 506.5 546.8 507.1 546.7 507.8 546.6 508.5 546.4 509.2 546.2 509.9 546 510.6 545.7 511.3 545.4 511.9 545.2 512.6 544.9 513.3 544.6 514 544.4 514.7 544.2 515.4 544.1 516 544 516.7 544 517.4 544 518.1 544.1 518.8 544.3 519.5 544.6 520.2 544.9 520.8 545.2 521.5 545.6 522.2 546 522.9 546.4 523.6 546.9 524.3 547.2 524.9 547.6 525.6 548 526.3 548.3 527 548.6 527.7 548.9 528.4 549.1 529.1 549.3 529.7 549.4 530.4 549.5 531.1 549.5 531.8 549.6 532.5 549.5 533.2 549.5 533.8 549.4 534.5 549.4 535.2 549.3 535.9 549.2 536.6 549.1 537.3 549 538 548.9 538.6 548.8 539.3 548.7 540 548.7 540.7 548.6 541.4 548.6 542.1 548.6 542.7 548.6 543.4 548.6 544.1 548.6 544.8 548.6 545.5 548.6 546.2 548.6 546.8 548.6 547.5 548.6 548.2 548.5 548.9 548.5 549.6 548.4 550.3 548.2 551 548.1 551.6 547.9 552.3 547.7 553 547.4 553.7 547.1 554.4 546.8 555.1 546.5 555.7 546.2 556.4 545.9 557.1 545.5 557.8 545.2 558.5 544.9 559.2 544.6 559.9 544.3 560.5 544.1 561.2 543.9 561.9 543.8 562.6 543.7 563.3 543.7 564 543.8 564.6 543.9 565.3 544 566 544.2 566.7 544.5 567.4 544.8 568.1 545.2 568.8 545.6 569.4 546 570.1 546.4 570.8 546.9 571.5 547.4 572.2 547.8 572.9 548.3 573.5 548.7 574.2 549.1 574.9 549.5 575.6 549.8 576.3 550.1 577 550.3 577.7 550.5 578.3 550.6 579 550.6 579.7 550.6 580.4 550.6 581.1 550.5 581.8 550.4 582.4 550.2 583.1 550 583.8 549.8 584.5 549.6 585.2 549.3 585.9 549.1 586.6 548.8 587.2 548.6 587.9 548.3 588.6 548.1 589.3 547.9 590 547.7 590.7 547.6 591.3 547.4 592 547.3 592.7 547.2 593.4 547.2 594.1 547.1 594.8 547.1 595.4 547 596.1 547 596.8 547 597.5 546.9 598.2 546.9 598.9 546.8 599.6 546.8 600.2 546.7 600.9 546.6 601.6 546.5 602.3 546.3 603 546.2 603.7 546 604.3 545.8 605 545.6 605.7 545.4 606.4 545.3 607.1 545.1 607.8 544.9 608.5 544.8 609.1 544.7 609.8 544.6 610.5 544.5 611.2 544.5 611.9 544.6 612.6 544.7 613.2 544.8 613.9 545 614.6 545.2 615.3 545.5 616 545.8 616.7 546.2 617.4 546.6 618 547 618.7 547.4 619.4 547.9 620.1 548.3 620.8 548.8 621.5 549.2 622.1 549.6 622.8 550 623.5 550.3 624.2 550.7 624.9 551 625.6 551.4 626.3 551.8 626.9 552.1 627.6 552.5 628.3 552.8 629 553.2 629.7 553.5 630.4 553.9 631 554.2 631.7 554.5 632.4 554.9 633.1 555.2 633.8 555.6 634.5 555.9 635.1 556.3 635.8 556.8 636.5 557.2 637.2 557.7 637.9 558.2 638.6 558.8 639.3 559.4 639.9 560 640.6 560.7 641.3 561.4 642 562.2 642.7 562.9 643.4 563.7 644 564.4 644.7 565.2 645.4 566 646.1 566.7 646.8 567.5 647.5 568.2 648.2 568.8 648.8 569.5 649.5 570 650.2 570.5 650.9 571 651.6 571.3 652.3 571.6 652.9 571.9 653.6 572 654.3 572.1 655 572.1" fill="none" stroke="#d7dce3" stroke-width="1.55" stroke-opacity="0.92" stroke-linejoin="round"/>
<path d="M429.8 614L430.5 614 431.2 613.9 431.9 613.8 432.5 613.8 433.2 613.7 433.9 613.6 434.6 613.6 435.3 613.5 436 613.4 436.6 613.3 437.3 613.2 438 613.1 438.7 613 439.4 612.9 440.1 612.9 440.8 612.8 441.4 612.6 442.1 612.5 442.8 612.4 443.5 612.4 444.2 612.3 444.9 612.2 445.5 612.1 446.2 612 446.9 611.9 447.6 611.8 448.3 611.6 449 611.5 449.7 611.4 450.3 611.2 451 611 451.7 610.8 452.4 610.6 453.1 610.4 453.8 610.1 454.4 609.3 455.1 607.8 455.8 605.7 456.5 603 457.2 599.7 457.9 596.1 458.5 592 459.2 587.7 459.9 583.1 460.6 578.4 461.3 573.5 462 568.7 462.7 563.9 463.3 559.1 464 554.6 464.7 550.2 465.4 545.9 466.1 541.4 466.8 536.8 467.4 532.1 468.1 527.3 468.8 522.4 469.5 517.5 470.2 512.6 470.9 507.8 471.6 503 472.2 498.4 472.9 493.9 473.6 489.4 474.3 484.9 475 480.3 475.7 475.7 476.3 471.1 477 466.5 477.7 462.2 478.4 458.1 479.1 454.4 479.8 451.2 480.5 448.5 481.1 446.3 481.8 444.4 482.5 442.8 483.2 441.4 483.9 440.1 484.6 439 485.2 438.2 485.9 437.7 486.6 438.1 487.3 439.5 488 442.1 488.7 445.6 489.4 449.4 490 453.6 490.7 458 491.4 462.6 492.1 467.2 492.8 472 493.5 476.8 494.1 481.7 494.8 486.4 495.5 491 496.2 495.5 496.9 499.8 497.6 503.9 498.2 507.7 498.9 511.3 499.6 514.5 500.3 517.4 501 520 501.7 522.3 502.4 524.3 503 526.1 503.7 527.6 504.4 528.9 505.1 530 505.8 531 506.5 531.8 507.1 532.5 507.8 533.2 508.5 533.7 509.2 534.2 509.9 534.7 510.6 535.1 511.3 535.4 511.9 535.7 512.6 536 513.3 536.3 514 536.6 514.7 536.8 515.4 537 516 537.1 516.7 537.3 517.4 537.4 518.1 537.4 518.8 537.5 519.5 537.5 520.2 537.5 520.8 537.4 521.5 537.4 522.2 537.3 522.9 537.2 523.6 537.1 524.3 537 524.9 536.9 525.6 536.8 526.3 536.7 527 536.6 527.7 536.5 528.4 536.5 529.1 536.4 529.7 536.4 530.4 536.3 531.1 536.3 531.8 536.2 532.5 536.2 533.2 536.1 533.8 536 534.5 535.9 535.2 535.8 535.9 535.6 536.6 535.4 537.3 535.2 538 535 538.6 534.8 539.3 534.5 540 534.2 540.7 533.9 541.4 533.6 542.1 533.3 542.7 533 543.4 532.7 544.1 532.5 544.8 532.2 545.5 532 546.2 531.9 546.8 531.8 547.5 531.7 548.2 531.7 548.9 531.7 549.6 531.8 550.3 532 551 532.2 551.6 532.5 552.3 532.8 553 533.1 553.7 533.5 554.4 534 555.1 534.4 555.7 534.9 556.4 535.4 557.1 535.9 557.8 536.4 558.5 536.8 559.2 537.2 559.9 537.6 560.5 538 561.2 538.3 561.9 538.6 562.6 538.8 563.3 538.9 564 539 564.6 539 565.3 539 566 538.9 566.7 538.8 567.4 538.6 568.1 538.4 568.8 538.2 569.4 537.9 570.1 537.6 570.8 537.3 571.5 537 572.2 536.7 572.9 536.4 573.5 536.2 574.2 535.9 574.9 535.7 575.6 535.4 576.3 535.2 577 535.1 577.7 534.9 578.3 534.8 579 534.7 579.7 534.6 580.4 534.5 581.1 534.5 581.8 534.4 582.4 534.4 583.1 534.3 583.8 534.3 584.5 534.2 585.2 534.2 585.9 534.1 586.6 534 587.2 533.9 587.9 533.8 588.6 533.7 589.3 533.6 590 533.4 590.7 533.3 591.3 533.2 592 533 592.7 532.9 593.4 532.8 594.1 532.7 594.8 532.7 595.4 532.7 596.1 532.7 596.8 532.7 597.5 532.8 598.2 533 598.9 533.2 599.6 533.4 600.2 533.7 600.9 534 601.6 534.4 602.3 534.7 603 535.2 603.7 535.6 604.3 536 605 536.5 605.7 536.9 606.4 537.3 607.1 537.8 607.8 538.1 608.5 538.5 609.1 538.8 609.8 539 610.5 539.2 611.2 539.3 611.9 539.4 612.6 539.4 613.2 539.4 613.9 539.3 614.6 539.1 615.3 538.9 616 538.6 616.7 538.3 617.4 537.9 618 537.5 618.7 537.1 619.4 536.7 620.1 536.3 620.8 535.9 621.5 535.5 622.1 535.1 622.8 534.7 623.5 534.4 624.2 534.1 624.9 533.9 625.6 533.9 626.3 533.9 626.9 534 627.6 534.2 628.3 534.5 629 534.9 629.7 535.3 630.4 535.8 631 536.4 631.7 537 632.4 537.7 633.1 538.4 633.8 539.1 634.5 539.8 635.1 540.6 635.8 541.4 636.5 542.2 637.2 542.9 637.9 543.7 638.6 544.5 639.3 545.3 639.9 546 640.6 546.8 641.3 547.5 642 548.2 642.7 549 643.4 549.7 644 550.4 644.7 551.1 645.4 551.9 646.1 552.6 646.8 553.3 647.5 554 648.2 554.7 648.8 555.4 649.5 556.1 650.2 556.8 650.9 557.4 651.6 558 652.3 558.6 652.9 559.2 653.6 559.7 654.3 560 655 560.3" fill="none" stroke="#e2dad5" stroke-width="1.55" stroke-opacity="0.92" stroke-linejoin="round"/>
<path d="M429.8 602.9L430.5 602.8 431.2 602.8 431.9 602.7 432.5 602.7 433.2 602.6 433.9 602.5 434.6 602.5 435.3 602.4 436 602.3 436.6 602.2 437.3 602.1 438 602 438.7 601.9 439.4 601.9 440.1 601.8 440.8 601.7 441.4 601.6 442.1 601.5 442.8 601.4 443.5 601.3 444.2 601.2 444.9 601.1 445.5 601 446.2 600.9 446.9 600.8 447.6 600.7 448.3 600.6 449 600.5 449.7 600.3 450.3 600.2 451 600 451.7 599.8 452.4 599.6 453.1 599.4 453.8 599.1 454.4 598.8 455.1 597.9 455.8 596.4 456.5 594.5 457.2 592 457.9 589.2 458.5 585.9 459.2 582.4 459.9 578.6 460.6 574.6 461.3 570.4 462 566.1 462.7 561.8 463.3 557.4 464 553.1 464.7 548.9 465.4 544.8 466.1 540.8 466.8 537 467.4 533 468.1 528.9 468.8 524.8 469.5 520.5 470.2 516.2 470.9 511.8 471.6 507.4 472.2 503 472.9 498.7 473.6 494.4 474.3 490.2 475 486.1 475.7 482 476.3 478 477 474 477.7 469.9 478.4 465.8 479.1 461.6 479.8 457.5 480.5 453.6 481.1 449.8 481.8 446.3 482.5 443.1 483.2 440.3 483.9 437.9 484.6 435.9 485.2 434.2 485.9 432.7 486.6 431.3 487.3 430.1 488 429 488.7 428.1 489.4 427.5 490 427.5 490.7 428.5 491.4 430.6 492.1 433.8 492.8 437.5 493.5 441.5 494.1 445.8 494.8 450.2 495.5 454.8 496.2 459.5 496.9 464.3 497.6 469 498.2 473.7 498.9 478.4 499.6 482.9 500.3 487.2 501 491.3 501.7 495.2 502.4 498.8 503 502.1 503.7 505.1 504.4 507.9 505.1 510.2 505.8 512.3 506.5 514.1 507.1 515.7 507.8 517 508.5 518.2 509.2 519.1 509.9 519.9 510.6 520.6 511.3 521.1 511.9 521.6 512.6 522 513.3 522.4 514 522.7 514.7 523 515.4 523.3 516 523.6 516.7 523.9 517.4 524.1 518.1 524.3 518.8 524.6 519.5 524.8 520.2 525 520.8 525.1 521.5 525.3 522.2 525.4 522.9 525.5 523.6 525.5 524.3 525.6 524.9 525.6 525.6 525.6 526.3 525.5 527 525.4 527.7 525.3 528.4 525.2 529.1 525.1 529.7 525 530.4 524.9 531.1 524.9 531.8 524.8 532.5 524.8 533.2 524.7 533.8 524.7 534.5 524.7 535.2 524.7 535.9 524.8 536.6 524.8 537.3 524.8 538 524.9 538.6 524.9 539.3 524.9 540 524.9 540.7 524.9 541.4 524.8 542.1 524.8 542.7 524.7 543.4 524.6 544.1 524.4 544.8 524.2 545.5 524 546.2 523.8 546.8 523.5 547.5 523.2 548.2 522.9 548.9 522.6 549.6 522.3 550.3 522.1 551 521.8 551.6 521.6 552.3 521.3 553 521.2 553.7 521 554.4 520.9 555.1 520.9 555.7 520.9 556.4 520.9 557.1 521 557.8 521.2 558.5 521.4 559.2 521.6 559.9 521.9 560.5 522.2 561.2 522.6 561.9 523 562.6 523.4 563.3 523.8 564 524.2 564.6 524.6 565.3 525 566 525.3 566.7 525.6 567.4 525.9 568.1 526.2 568.8 526.4 569.4 526.5 570.1 526.6 570.8 526.7 571.5 526.7 572.2 526.7 572.9 526.6 573.5 526.5 574.2 526.3 574.9 526.2 575.6 526 576.3 525.7 577 525.5 577.7 525.3 578.3 525 579 524.8 579.7 524.6 580.4 524.4 581.1 524.2 581.8 524.1 582.4 523.9 583.1 523.8 583.8 523.7 584.5 523.7 585.2 523.6 585.9 523.6 586.6 523.6 587.2 523.6 587.9 523.6 588.6 523.6 589.3 523.6 590 523.6 590.7 523.6 591.3 523.6 592 523.5 592.7 523.5 593.4 523.4 594.1 523.3 594.8 523.2 595.4 523.1 596.1 522.9 596.8 522.7 597.5 522.6 598.2 522.4 598.9 522.2 599.6 522.1 600.2 521.9 600.9 521.8 601.6 521.7 602.3 521.6 603 521.6 603.7 521.6 604.3 521.6 605 521.7 605.7 521.8 606.4 522 607.1 522.2 607.8 522.4 608.5 522.7 609.1 523 609.8 523.4 610.5 523.7 611.2 524.1 611.9 524.5 612.6 524.9 613.2 525.3 613.9 525.6 614.6 526 615.3 526.3 616 526.6 616.7 526.8 617.4 527 618 527.1 618.7 527.2 619.4 527.2 620.1 527.1 620.8 527.1 621.5 526.9 622.1 526.7 622.8 526.5 623.5 526.3 624.2 526 624.9 525.8 625.6 525.6 626.3 525.4 626.9 525.2 627.6 525.2 628.3 525.1 629 525.1 629.7 525.2 630.4 525.3 631 525.5 631.7 525.7 632.4 526 633.1 526.4 633.8 526.8 634.5 527.3 635.1 527.8 635.8 528.3 636.5 528.9 637.2 529.5 637.9 530.1 638.6 530.8 639.3 531.4 639.9 532.1 640.6 532.7 641.3 533.4 642 534 642.7 534.6 643.4 535.1 644 535.6 644.7 536.1 645.4 536.6 646.1 537 646.8 537.4 647.5 537.8 648.2 538.2 648.8 538.5 649.5 538.8 650.2 539 650.9 539.3 651.6 539.5 652.3 539.7 652.9 539.9 653.6 540.1 654.3 540.3 655 540.4" fill="none" stroke="#ebd3c6" stroke-width="1.55" stroke-opacity="0.92" stroke-linejoin="round"/>
<path d="M429.8 591.8L430.5 591.7 431.2 591.7 431.9 591.6 432.5 591.6 433.2 591.5 433.9 591.4 434.6 591.4 435.3 591.3 436 591.2 436.6 591.2 437.3 591.1 438 591 438.7 590.9 439.4 590.9 440.1 590.8 440.8 590.7 441.4 590.6 442.1 590.5 442.8 590.4 443.5 590.3 444.2 590.2 444.9 590.2 445.5 590.1 446.2 590 446.9 589.9 447.6 589.8 448.3 589.7 449 589.6 449.7 589.5 450.3 589.4 451 589.3 451.7 589.2 452.4 589 453.1 588.9 453.8 588.7 454.4 588.5 455.1 588.3 455.8 588.1 456.5 587.9 457.2 587.2 457.9 586.1 458.5 584.4 459.2 582.3 459.9 579.7 460.6 576.8 461.3 573.6 462 570.1 462.7 566.4 463.3 562.5 464 558.4 464.7 554.3 465.4 550.1 466.1 545.9 466.8 541.8 467.4 537.7 468.1 533.8 468.8 530 469.5 526.3 470.2 522.5 470.9 518.6 471.6 514.7 472.2 510.6 472.9 506.4 473.6 502.2 474.3 498 475 493.8 475.7 489.6 476.3 485.5 477 481.4 477.7 477.4 478.4 473.5 479.1 469.7 479.8 465.8 480.5 462 481.1 458 481.8 454 482.5 450 483.2 446.1 483.9 442.4 484.6 438.8 485.2 435.4 485.9 432.4 486.6 429.8 487.3 427.5 488 425.6 488.7 424 489.4 422.6 490 421.3 490.7 420 491.4 419 492.1 418.1 492.8 417.4 493.5 417.2 494.1 417.8 494.8 419.5 495.5 422.2 496.2 425.7 496.9 429.5 497.6 433.6 498.2 438 498.9 442.4 499.6 447 500.3 451.7 501 456.4 501.7 461.1 502.4 465.7 503 470.2 503.7 474.5 504.4 478.7 505.1 482.6 505.8 486.3 506.5 489.7 507.1 492.8 507.8 495.7 508.5 498.2 509.2 500.5 509.9 502.5 510.6 504.3 511.3 505.8 511.9 507.1 512.6 508.2 513.3 509.2 514 510 514.7 510.7 515.4 511.2 516 511.7 516.7 512.2 517.4 512.5 518.1 512.9 518.8 513.1 519.5 513.4 520.2 513.6 520.8 513.8 521.5 513.9 522.2 514 522.9 514 523.6 514 524.3 514 524.9 513.9 525.6 513.7 526.3 513.5 527 513.2 527.7 512.9 528.4 512.5 529.1 512.1 529.7 511.6 530.4 511.1 531.1 510.7 531.8 510.2 532.5 509.8 533.2 509.4 533.8 509.1 534.5 508.8 535.2 508.6 535.9 508.4 536.6 508.3 537.3 508.3 538 508.3 538.6 508.5 539.3 508.6 540 508.9 540.7 509.2 541.4 509.6 542.1 510 542.7 510.4 543.4 510.9 544.1 511.4 544.8 511.9 545.5 512.4 546.2 512.8 546.8 513.3 547.5 513.7 548.2 514.1 548.9 514.4 549.6 514.7 550.3 514.9 551 515.1 551.6 515.2 552.3 515.2 553 515.2 553.7 515.2 554.4 515.1 555.1 515 555.7 514.8 556.4 514.7 557.1 514.5 557.8 514.3 558.5 514.1 559.2 513.9 559.9 513.7 560.5 513.6 561.2 513.5 561.9 513.4 562.6 513.3 563.3 513.2 564 513.2 564.6 513.2 565.3 513.2 566 513.2 566.7 513.3 567.4 513.3 568.1 513.4 568.8 513.4 569.4 513.4 570.1 513.4 570.8 513.4 571.5 513.4 572.2 513.3 572.9 513.2 573.5 513 574.2 512.8 574.9 512.6 575.6 512.4 576.3 512.1 577 511.8 577.7 511.4 578.3 511.1 579 510.7 579.7 510.4 580.4 510 581.1 509.7 581.8 509.4 582.4 509.2 583.1 509 583.8 508.8 584.5 508.7 585.2 508.7 585.9 508.7 586.6 508.8 587.2 509 587.9 509.2 588.6 509.5 589.3 509.9 590 510.3 590.7 510.7 591.3 511.2 592 511.7 592.7 512.2 593.4 512.8 594.1 513.3 594.8 513.8 595.4 514.3 596.1 514.7 596.8 515.1 597.5 515.5 598.2 515.8 598.9 516 599.6 516.2 600.2 516.3 600.9 516.3 601.6 516.3 602.3 516.2 603 516 603.7 515.8 604.3 515.5 605 515.3 605.7 514.9 606.4 514.6 607.1 514.3 607.8 513.9 608.5 513.6 609.1 513.3 609.8 513 610.5 512.7 611.2 512.4 611.9 512.2 612.6 512 613.2 511.9 613.9 511.8 614.6 511.7 615.3 511.7 616 511.7 616.7 511.7 617.4 511.7 618 511.8 618.7 511.8 619.4 511.8 620.1 511.9 620.8 511.9 621.5 511.9 622.1 511.9 622.8 511.9 623.5 511.8 624.2 511.7 624.9 511.7 625.6 511.6 626.3 511.6 626.9 511.6 627.6 511.6 628.3 511.6 629 511.7 629.7 511.8 630.4 512 631 512.2 631.7 512.4 632.4 512.7 633.1 513.1 633.8 513.5 634.5 514 635.1 514.6 635.8 515.2 636.5 515.9 637.2 516.7 637.9 517.5 638.6 518.4 639.3 519.3 639.9 520.2 640.6 521.2 641.3 522.1 642 523.1 642.7 524.1 643.4 525 644 525.9 644.7 526.7 645.4 527.5 646.1 528.3 646.8 528.9 647.5 529.4 648.2 529.9 648.8 530.3 649.5 530.6 650.2 530.7 650.9 530.8 651.6 530.8 652.3 530.7 652.9 530.5 653.6 530.2 654.3 529.9 655 529.6" fill="none" stroke="#f2cbb7" stroke-width="1.55" stroke-opacity="0.92" stroke-linejoin="round"/>
<path d="M429.8 580.7L430.5 580.6 431.2 580.6 431.9 580.5 432.5 580.5 433.2 580.4 433.9 580.4 434.6 580.3 435.3 580.2 436 580.2 436.6 580.1 437.3 580 438 580 438.7 579.9 439.4 579.8 440.1 579.7 440.8 579.7 441.4 579.6 442.1 579.5 442.8 579.4 443.5 579.3 444.2 579.3 444.9 579.2 445.5 579.1 446.2 579 446.9 578.9 447.6 578.9 448.3 578.8 449 578.7 449.7 578.6 450.3 578.6 451 578.5 451.7 578.4 452.4 578.3 453.1 578.1 453.8 578 454.4 577.9 455.1 577.8 455.8 577.6 456.5 577.4 457.2 577.2 457.9 577 458.5 576.8 459.2 576.3 459.9 575.3 460.6 573.8 461.3 571.9 462 569.6 462.7 567 463.3 564 464 560.8 464.7 557.3 465.4 553.7 466.1 549.9 466.8 546 467.4 542 468.1 538 468.8 534 469.5 530 470.2 526.2 470.9 522.4 471.6 518.8 472.2 515.3 472.9 511.7 473.6 507.9 474.3 504.1 475 500.2 475.7 496.3 476.3 492.2 477 488.2 477.7 484.2 478.4 480.2 479.1 476.2 479.8 472.3 480.5 468.4 481.1 464.6 481.8 460.9 482.5 457.3 483.2 453.6 483.9 449.8 484.6 446 485.2 442.2 485.9 438.4 486.6 434.7 487.3 431.1 488 427.7 488.7 424.6 489.4 421.8 490 419.3 490.7 417.1 491.4 415.3 492.1 413.8 492.8 412.4 493.5 411.2 494.1 410 494.8 408.9 495.5 408 496.2 407.3 496.9 406.9 497.6 407.2 498.2 408.4 498.9 410.7 499.6 413.9 500.3 417.6 501 421.6 501.7 425.8 502.4 430.1 503 434.6 503.7 439.2 504.4 443.9 505.1 448.5 505.8 453.1 506.5 457.6 507.1 461.9 507.8 466.1 508.5 470.1 509.2 473.8 509.9 477.3 510.6 480.5 511.3 483.4 511.9 486 512.6 488.4 513.3 490.6 514 492.5 514.7 494.1 515.4 495.6 516 496.8 516.7 497.9 517.4 498.8 518.1 499.5 518.8 500.2 519.5 500.7 520.2 501.1 520.8 501.4 521.5 501.5 522.2 501.7 522.9 501.7 523.6 501.6 524.3 501.5 524.9 501.3 525.6 501.1 526.3 500.8 527 500.4 527.7 500 528.4 499.6 529.1 499.2 529.7 498.8 530.4 498.4 531.1 498 531.8 497.7 532.5 497.4 533.2 497.1 533.8 497 534.5 496.9 535.2 497 535.9 497.1 536.6 497.3 537.3 497.6 538 497.9 538.6 498.3 539.3 498.7 540 499.1 540.7 499.6 541.4 500 542.1 500.5 542.7 500.9 543.4 501.3 544.1 501.7 544.8 502.1 545.5 502.4 546.2 502.6 546.8 502.9 547.5 503 548.2 503.1 548.9 503.2 549.6 503.2 550.3 503.2 551 503.1 551.6 503 552.3 502.9 553 502.8 553.7 502.7 554.4 502.5 555.1 502.4 555.7 502.3 556.4 502.2 557.1 502.1 557.8 502 558.5 502 559.2 502 559.9 502 560.5 502 561.2 502.1 561.9 502.2 562.6 502.3 563.3 502.4 564 502.5 564.6 502.6 565.3 502.7 566 502.7 566.7 502.7 567.4 502.7 568.1 502.7 568.8 502.6 569.4 502.5 570.1 502.3 570.8 502.1 571.5 501.8 572.2 501.5 572.9 501.2 573.5 500.8 574.2 500.4 574.9 500 575.6 499.6 576.3 499.2 577 498.8 577.7 498.4 578.3 498 579 497.7 579.7 497.4 580.4 497.2 581.1 497.1 581.8 497 582.4 497 583.1 497 583.8 497.2 584.5 497.4 585.2 497.6 585.9 498 586.6 498.3 587.2 498.8 587.9 499.2 588.6 499.7 589.3 500.3 590 500.8 590.7 501.3 591.3 501.8 592 502.3 592.7 502.8 593.4 503.2 594.1 503.5 594.8 503.9 595.4 504.1 596.1 504.3 596.8 504.4 597.5 504.5 598.2 504.5 598.9 504.4 599.6 504.3 600.2 504.1 600.9 503.9 601.6 503.7 602.3 503.4 603 503.2 603.7 502.9 604.3 502.6 605 502.3 605.7 502 606.4 501.8 607.1 501.6 607.8 501.4 608.5 501.2 609.1 501.1 609.8 501 610.5 501 611.2 500.9 611.9 500.9 612.6 501 613.2 501 613.9 501 614.6 501.1 615.3 501.1 616 501.1 616.7 501.1 617.4 501.1 618 501.1 618.7 501 619.4 500.9 620.1 500.8 620.8 500.7 621.5 500.5 622.1 500.2 622.8 500 623.5 499.8 624.2 499.5 624.9 499.3 625.6 499.1 626.3 499 626.9 498.9 627.6 498.9 628.3 498.9 629 499.1 629.7 499.3 630.4 499.5 631 499.9 631.7 500.3 632.4 500.9 633.1 501.5 633.8 502.1 634.5 502.9 635.1 503.7 635.8 504.6 636.5 505.5 637.2 506.5 637.9 507.4 638.6 508.4 639.3 509.4 639.9 510.4 640.6 511.4 641.3 512.3 642 513.1 642.7 514 643.4 514.7 644 515.4 644.7 515.9 645.4 516.4 646.1 516.9 646.8 517.2 647.5 517.4 648.2 517.6 648.8 517.6 649.5 517.6 650.2 517.5 650.9 517.4 651.6 517.2 652.3 516.9 652.9 516.6 653.6 516.3 654.3 516 655 515.8" fill="none" stroke="#f5c0a7" stroke-width="1.55" stroke-opacity="0.92" stroke-linejoin="round"/>
<path d="M429.8 569.5L430.5 569.5 431.2 569.5 431.9 569.4 432.5 569.4 433.2 569.3 433.9 569.3 434.6 569.2 435.3 569.2 436 569.1 436.6 569 437.3 569 438 568.9 438.7 568.9 439.4 568.8 440.1 568.7 440.8 568.7 441.4 568.6 442.1 568.5 442.8 568.5 443.5 568.4 444.2 568.3 444.9 568.2 445.5 568.2 446.2 568.1 446.9 568 447.6 567.9 448.3 567.9 449 567.8 449.7 567.7 450.3 567.7 451 567.6 451.7 567.5 452.4 567.5 453.1 567.4 453.8 567.3 454.4 567.2 455.1 567.1 455.8 567 456.5 566.9 457.2 566.8 457.9 566.6 458.5 566.5 459.2 566.3 459.9 566.2 460.6 566 461.3 565.8 462 565.4 462.7 564.7 463.3 563.4 464 561.7 464.7 559.6 465.4 557.1 466.1 554.4 466.8 551.3 467.4 548 468.1 544.5 468.8 540.9 469.5 537.1 470.2 533.2 470.9 529.3 471.6 525.3 472.2 521.4 472.9 517.5 473.6 513.8 474.3 510.2 475 506.7 475.7 503.2 476.3 499.6 477 495.9 477.7 492.1 478.4 488.3 479.1 484.4 479.8 480.4 480.5 476.5 481.1 472.5 481.8 468.6 482.5 464.7 483.2 460.8 483.9 457.1 484.6 453.4 485.2 449.8 485.9 446.2 486.6 442.5 487.3 438.8 488 435.1 488.7 431.3 489.4 427.6 490 424 490.7 420.5 491.4 417.1 492.1 414.1 492.8 411.3 493.5 408.9 494.1 406.8 494.8 405.1 495.5 403.6 496.2 402.3 496.9 401 497.6 399.9 498.2 398.9 498.9 398 499.6 397.2 500.3 396.7 501 396.7 501.7 397.5 502.4 399.4 503 402.3 503.7 405.7 504.4 409.6 505.1 413.6 505.8 417.8 506.5 422.2 507.1 426.7 507.8 431.3 508.5 435.9 509.2 440.4 509.9 444.9 510.6 449.2 511.3 453.4 511.9 457.4 512.6 461.2 513.3 464.7 514 468 514.7 470.9 515.4 473.6 516 476 516.7 478.1 517.4 479.9 518.1 481.4 518.8 482.7 519.5 483.8 520.2 484.8 520.8 485.6 521.5 486.2 522.2 486.8 522.9 487.2 523.6 487.6 524.3 488 524.9 488.3 525.6 488.5 526.3 488.8 527 489 527.7 489.2 528.4 489.4 529.1 489.6 529.7 489.8 530.4 490 531.1 490.2 531.8 490.3 532.5 490.4 533.2 490.5 533.8 490.6 534.5 490.7 535.2 490.7 535.9 490.7 536.6 490.7 537.3 490.7 538 490.7 538.6 490.7 539.3 490.7 540 490.7 540.7 490.7 541.4 490.8 542.1 490.8 542.7 490.9 543.4 491 544.1 491.1 544.8 491.3 545.5 491.5 546.2 491.7 546.8 491.9 547.5 492.1 548.2 492.4 548.9 492.6 549.6 492.8 550.3 493 551 493.2 551.6 493.3 552.3 493.5 553 493.5 553.7 493.6 554.4 493.6 555.1 493.5 555.7 493.4 556.4 493.2 557.1 493.1 557.8 492.8 558.5 492.5 559.2 492.2 559.9 491.9 560.5 491.5 561.2 491.1 561.9 490.7 562.6 490.4 563.3 490 564 489.7 564.6 489.3 565.3 489.1 566 488.8 566.7 488.6 567.4 488.5 568.1 488.4 568.8 488.4 569.4 488.4 570.1 488.5 570.8 488.6 571.5 488.8 572.2 489 572.9 489.3 573.5 489.6 574.2 490 574.9 490.3 575.6 490.7 576.3 491 577 491.4 577.7 491.7 578.3 492.1 579 492.4 579.7 492.6 580.4 492.9 581.1 493.1 581.8 493.2 582.4 493.3 583.1 493.4 583.8 493.5 584.5 493.5 585.2 493.4 585.9 493.4 586.6 493.3 587.2 493.2 587.9 493.2 588.6 493.1 589.3 493 590 492.9 590.7 492.8 591.3 492.7 592 492.7 592.7 492.6 593.4 492.6 594.1 492.7 594.8 492.7 595.4 492.8 596.1 492.8 596.8 492.9 597.5 493 598.2 493.1 598.9 493.3 599.6 493.3 600.2 493.4 600.9 493.5 601.6 493.5 602.3 493.6 603 493.5 603.7 493.5 604.3 493.4 605 493.3 605.7 493.1 606.4 492.9 607.1 492.7 607.8 492.4 608.5 492.1 609.1 491.8 609.8 491.5 610.5 491.2 611.2 490.8 611.9 490.5 612.6 490.2 613.2 489.9 613.9 489.7 614.6 489.5 615.3 489.3 616 489.2 616.7 489.2 617.4 489.2 618 489.2 618.7 489.3 619.4 489.5 620.1 489.7 620.8 490 621.5 490.3 622.1 490.6 622.8 491 623.5 491.4 624.2 491.8 624.9 492.3 625.6 492.7 626.3 493.2 626.9 493.7 627.6 494.2 628.3 494.6 629 495.1 629.7 495.5 630.4 495.9 631 496.2 631.7 496.5 632.4 496.8 633.1 497 633.8 497.2 634.5 497.4 635.1 497.6 635.8 497.7 636.5 497.8 637.2 497.9 637.9 497.9 638.6 498 639.3 498.1 639.9 498.2 640.6 498.3 641.3 498.4 642 498.6 642.7 498.7 643.4 498.9 644 499.1 644.7 499.3 645.4 499.6 646.1 499.8 646.8 500.1 647.5 500.3 648.2 500.6 648.8 500.8 649.5 501 650.2 501.3 650.9 501.4 651.6 501.6 652.3 501.7 652.9 501.7 653.6 501.8 654.3 501.7 655 501.7" fill="none" stroke="#f7b396" stroke-width="1.55" stroke-opacity="0.92" stroke-linejoin="round"/>
<path d="M429.8 558.4L430.5 558.4 431.2 558.3 431.9 558.3 432.5 558.3 433.2 558.2 433.9 558.2 434.6 558.1 435.3 558.1 436 558 436.6 558 437.3 557.9 438 557.9 438.7 557.8 439.4 557.8 440.1 557.7 440.8 557.6 441.4 557.6 442.1 557.5 442.8 557.5 443.5 557.4 444.2 557.3 444.9 557.3 445.5 557.2 446.2 557.1 446.9 557.1 447.6 557 448.3 556.9 449 556.9 449.7 556.8 450.3 556.7 451 556.7 451.7 556.6 452.4 556.6 453.1 556.5 453.8 556.4 454.4 556.4 455.1 556.3 455.8 556.2 456.5 556.1 457.2 556 457.9 556 458.5 555.9 459.2 555.8 459.9 555.6 460.6 555.5 461.3 555.4 462 555.2 462.7 555.1 463.3 554.9 464 554.7 464.7 554.5 465.4 553.9 466.1 552.8 466.8 551.3 467.4 549.4 468.1 547.1 468.8 544.5 469.5 541.6 470.2 538.5 470.9 535.1 471.6 531.6 472.2 527.9 472.9 524.1 473.6 520.3 474.3 516.4 475 512.6 475.7 508.8 476.3 505 477 501.4 477.7 497.9 478.4 494.5 479.1 491 479.8 487.4 480.5 483.8 481.1 480.1 481.8 476.3 482.5 472.4 483.2 468.5 483.9 464.7 484.6 460.8 485.2 456.9 485.9 453.1 486.6 449.4 487.3 445.7 488 442.1 488.7 438.6 489.4 435 490 431.5 490.7 427.8 491.4 424.1 492.1 420.4 492.8 416.8 493.5 413.2 494.1 409.8 494.8 406.5 495.5 403.6 496.2 400.8 496.9 398.5 497.6 396.5 498.2 394.8 498.9 393.4 499.6 392.1 500.3 390.9 501 389.8 501.7 388.8 502.4 387.9 503 387.2 503.7 386.6 504.4 386.4 505.1 386.7 505.8 388 506.5 390.3 507.1 393.2 507.8 396.5 508.5 400.1 509.2 403.9 509.9 408 510.6 412.1 511.3 416.4 511.9 420.8 512.6 425.2 513.3 429.5 514 433.9 514.7 438.1 515.4 442.1 516 446 516.7 449.7 517.4 453.2 518.1 456.4 518.8 459.3 519.5 462 520.2 464.3 520.8 466.4 521.5 468.2 522.2 469.8 522.9 471.1 523.6 472.2 524.3 473.2 524.9 473.9 525.6 474.5 526.3 475.1 527 475.5 527.7 475.9 528.4 476.2 529.1 476.4 529.7 476.6 530.4 476.9 531.1 477.1 531.8 477.4 532.5 477.7 533.2 478 533.8 478.3 534.5 478.7 535.2 479.1 535.9 479.5 536.6 479.9 537.3 480.3 538 480.8 538.6 481.2 539.3 481.6 540 482 540.7 482.3 541.4 482.6 542.1 482.8 542.7 482.9 543.4 482.9 544.1 482.8 544.8 482.7 545.5 482.6 546.2 482.4 546.8 482.1 547.5 481.9 548.2 481.6 548.9 481.3 549.6 480.9 550.3 480.6 551 480.3 551.6 480.1 552.3 479.8 553 479.6 553.7 479.4 554.4 479.3 555.1 479.2 555.7 479.2 556.4 479.1 557.1 479.2 557.8 479.2 558.5 479.3 559.2 479.5 559.9 479.6 560.5 479.7 561.2 479.9 561.9 480.1 562.6 480.2 563.3 480.3 564 480.5 564.6 480.6 565.3 480.6 566 480.7 566.7 480.7 567.4 480.6 568.1 480.6 568.8 480.5 569.4 480.4 570.1 480.2 570.8 480.1 571.5 479.9 572.2 479.8 572.9 479.6 573.5 479.5 574.2 479.4 574.9 479.3 575.6 479.3 576.3 479.3 577 479.3 577.7 479.4 578.3 479.5 579 479.7 579.7 480 580.4 480.2 581.1 480.5 581.8 480.9 582.4 481.3 583.1 481.7 583.8 482.1 584.5 482.5 585.2 483 585.9 483.4 586.6 483.7 587.2 484.1 587.9 484.4 588.6 484.7 589.3 484.9 590 485 590.7 485.1 591.3 485.1 592 485.1 592.7 485 593.4 484.8 594.1 484.6 594.8 484.3 595.4 484 596.1 483.6 596.8 483.3 597.5 482.8 598.2 482.4 598.9 482 599.6 481.6 600.2 481.2 600.9 480.9 601.6 480.5 602.3 480.3 603 480 603.7 479.8 604.3 479.7 605 479.6 605.7 479.6 606.4 479.6 607.1 479.7 607.8 479.8 608.5 479.9 609.1 480.1 609.8 480.3 610.5 480.5 611.2 480.8 611.9 481 612.6 481.2 613.2 481.4 613.9 481.6 614.6 481.8 615.3 481.9 616 482 616.7 482.1 617.4 482.1 618 482.1 618.7 482.1 619.4 482.1 620.1 482 620.8 481.9 621.5 481.8 622.1 481.7 622.8 481.6 623.5 481.5 624.2 481.5 624.9 481.5 625.6 481.5 626.3 481.5 626.9 481.6 627.6 481.8 628.3 482 629 482.2 629.7 482.5 630.4 482.8 631 483.2 631.7 483.6 632.4 484 633.1 484.5 633.8 484.9 634.5 485.4 635.1 485.8 635.8 486.2 636.5 486.6 637.2 486.9 637.9 487.3 638.6 487.5 639.3 487.7 639.9 487.8 640.6 487.9 641.3 487.9 642 487.9 642.7 487.8 643.4 487.6 644 487.4 644.7 487.2 645.4 486.9 646.1 486.6 646.8 486.3 647.5 485.9 648.2 485.6 648.8 485.2 649.5 484.9 650.2 484.6 650.9 484.4 651.6 484.2 652.3 484 652.9 483.9 653.6 483.8 654.3 483.8 655 483.8" fill="none" stroke="#f6a586" stroke-width="1.55" stroke-opacity="0.92" stroke-linejoin="round"/>
<path d="M429.8 547.3L430.5 547.3 431.2 547.2 431.9 547.2 432.5 547.1 433.2 547.1 433.9 547.1 434.6 547 435.3 547 436 546.9 436.6 546.9 437.3 546.8 438 546.8 438.7 546.7 439.4 546.7 440.1 546.6 440.8 546.6 441.4 546.5 442.1 546.5 442.8 546.4 443.5 546.4 444.2 546.3 444.9 546.2 445.5 546.2 446.2 546.1 446.9 546 447.6 546 448.3 545.9 449 545.9 449.7 545.8 450.3 545.7 451 545.7 451.7 545.6 452.4 545.6 453.1 545.5 453.8 545.5 454.4 545.4 455.1 545.3 455.8 545.3 456.5 545.2 457.2 545.2 457.9 545.1 458.5 545 459.2 544.9 459.9 544.8 460.6 544.7 461.3 544.6 462 544.5 462.7 544.4 463.3 544.3 464 544.2 464.7 544 465.4 543.9 466.1 543.7 466.8 543.5 467.4 543.1 468.1 542.3 468.8 541 469.5 539.3 470.2 537.3 470.9 534.9 471.6 532.3 472.2 529.3 472.9 526.2 473.6 522.8 474.3 519.3 475 515.6 475.7 511.9 476.3 508.1 477 504.3 477.7 500.6 478.4 496.8 479.1 493.2 479.8 489.7 480.5 486.3 481.1 482.9 481.8 479.5 482.5 476 483.2 472.4 483.9 468.7 484.6 465 485.2 461.2 485.9 457.4 486.6 453.6 487.3 449.8 488 446.1 488.7 442.3 489.4 438.7 490 435.1 490.7 431.5 491.4 428.1 492.1 424.6 492.8 421.1 493.5 417.5 494.1 413.9 494.8 410.3 495.5 406.7 496.2 403.2 496.9 399.8 497.6 396.6 498.2 393.6 498.9 390.9 499.6 388.5 500.3 386.5 501 384.8 501.7 383.4 502.4 382.1 503 381 503.7 379.9 504.4 378.9 505.1 378 505.8 377.2 506.5 376.6 507.1 376.2 507.8 376.1 508.5 376.6 509.2 377.9 509.9 380 510.6 382.6 511.3 385.4 511.9 388.6 512.6 391.9 513.3 395.5 514 399.2 514.7 403.1 515.4 407.2 516 411.3 516.7 415.4 517.4 419.6 518.1 423.7 518.8 427.7 519.5 431.6 520.2 435.3 520.8 438.8 521.5 442.1 522.2 445.2 522.9 448.1 523.6 450.7 524.3 453 524.9 455 525.6 456.8 526.3 458.3 527 459.5 527.7 460.6 528.4 461.5 529.1 462.2 529.7 462.8 530.4 463.3 531.1 463.7 531.8 464.1 532.5 464.4 533.2 464.6 533.8 464.8 534.5 465 535.2 465.2 535.9 465.4 536.6 465.6 537.3 465.8 538 466 538.6 466.3 539.3 466.5 540 466.7 540.7 467 541.4 467.2 542.1 467.5 542.7 467.7 543.4 467.9 544.1 468.1 544.8 468.3 545.5 468.5 546.2 468.6 546.8 468.8 547.5 468.9 548.2 469 548.9 469.1 549.6 469.1 550.3 469.2 551 469.3 551.6 469.4 552.3 469.5 553 469.6 553.7 469.7 554.4 469.9 555.1 470 555.7 470.2 556.4 470.4 557.1 470.6 557.8 470.8 558.5 471 559.2 471.2 559.9 471.4 560.5 471.6 561.2 471.7 561.9 471.9 562.6 472 563.3 472.1 564 472.1 564.6 472.1 565.3 472.1 566 472 566.7 471.8 567.4 471.7 568.1 471.5 568.8 471.2 569.4 470.9 570.1 470.6 570.8 470.2 571.5 469.9 572.2 469.5 572.9 469.1 573.5 468.7 574.2 468.3 574.9 468 575.6 467.6 576.3 467.4 577 467.1 577.7 466.9 578.3 466.7 579 466.6 579.7 466.6 580.4 466.6 581.1 466.7 581.8 466.8 582.4 467 583.1 467.2 583.8 467.5 584.5 467.8 585.2 468.1 585.9 468.5 586.6 468.9 587.2 469.3 587.9 469.7 588.6 470.1 589.3 470.5 590 470.8 590.7 471.2 591.3 471.5 592 471.7 592.7 472 593.4 472.2 594.1 472.4 594.8 472.5 595.4 472.6 596.1 472.6 596.8 472.7 597.5 472.7 598.2 472.7 598.9 472.6 599.6 472.6 600.2 472.5 600.9 472.5 601.6 472.4 602.3 472.3 603 472.3 603.7 472.3 604.3 472.2 605 472.2 605.7 472.2 606.4 472.2 607.1 472.2 607.8 472.3 608.5 472.3 609.1 472.3 609.8 472.3 610.5 472.4 611.2 472.4 611.9 472.4 612.6 472.3 613.2 472.3 613.9 472.2 614.6 472.1 615.3 472 616 471.8 616.7 471.6 617.4 471.4 618 471.1 618.7 470.9 619.4 470.6 620.1 470.3 620.8 469.9 621.5 469.6 622.1 469.3 622.8 469 623.5 468.7 624.2 468.4 624.9 468.2 625.6 468 626.3 467.9 626.9 467.8 627.6 467.8 628.3 467.8 629 467.9 629.7 468.1 630.4 468.3 631 468.6 631.7 468.9 632.4 469.2 633.1 469.6 633.8 470.1 634.5 470.6 635.1 471 635.8 471.5 636.5 472 637.2 472.5 637.9 473 638.6 473.4 639.3 473.9 639.9 474.2 640.6 474.6 641.3 474.9 642 475.1 642.7 475.4 643.4 475.5 644 475.6 644.7 475.7 645.4 475.7 646.1 475.6 646.8 475.6 647.5 475.4 648.2 475.3 648.8 475.1 649.5 475 650.2 474.8 650.9 474.6 651.6 474.4 652.3 474.2 652.9 474 653.6 473.9 654.3 473.7 655 473.6" fill="none" stroke="#f39577" stroke-width="1.55" stroke-opacity="0.92" stroke-linejoin="round"/>
<path d="M429.8 536.2L430.5 536.1 431.2 536.1 431.9 536.1 432.5 536 433.2 536 433.9 536 434.6 535.9 435.3 535.9 436 535.9 436.6 535.8 437.3 535.8 438 535.7 438.7 535.7 439.4 535.7 440.1 535.6 440.8 535.6 441.4 535.5 442.1 535.5 442.8 535.4 443.5 535.4 444.2 535.3 444.9 535.3 445.5 535.2 446.2 535.2 446.9 535.1 447.6 535.1 448.3 535 449 535 449.7 534.9 450.3 534.8 451 534.8 451.7 534.7 452.4 534.7 453.1 534.6 453.8 534.6 454.4 534.5 455.1 534.5 455.8 534.4 456.5 534.4 457.2 534.3 457.9 534.3 458.5 534.2 459.2 534.2 459.9 534.1 460.6 534.1 461.3 534 462 534 462.7 533.9 463.3 533.8 464 533.7 464.7 533.7 465.4 533.6 466.1 533.5 466.8 533.4 467.4 533.3 468.1 533.2 468.8 533.1 469.5 532.9 470.2 532.8 470.9 532.7 471.6 532.5 472.2 532.3 472.9 531.8 473.6 530.9 474.3 529.5 475 527.8 475.7 525.8 476.3 523.4 477 520.7 477.7 517.8 478.4 514.7 479.1 511.4 479.8 507.9 480.5 504.4 481.1 500.7 481.8 497 482.5 493.3 483.2 489.6 483.9 486 484.6 482.4 485.2 478.9 485.9 475.6 486.6 472.3 487.3 469 488 465.6 488.7 462.1 489.4 458.5 490 454.9 490.7 451.2 491.4 447.5 492.1 443.8 492.8 440 493.5 436.3 494.1 432.7 494.8 429.1 495.5 425.5 496.2 422 496.9 418.6 497.6 415.2 498.2 411.8 498.9 408.4 499.6 404.8 500.3 401.3 501 397.7 501.7 394.2 502.4 390.8 503 387.6 503.7 384.5 504.4 381.7 505.1 379.1 505.8 376.9 506.5 375 507.1 373.4 507.8 372.1 508.5 370.9 509.2 369.8 509.9 368.7 510.6 367.8 511.3 366.9 511.9 366.1 512.6 365.5 513.3 365.1 514 364.9 514.7 365.1 515.4 365.9 516 367.4 516.7 369.2 517.4 371.4 518.1 373.8 518.8 376.5 519.5 379.4 520.2 382.5 520.8 385.9 521.5 389.4 522.2 393.1 522.9 396.9 523.6 400.8 524.3 404.8 524.9 408.7 525.6 412.7 526.3 416.5 527 420.3 527.7 423.9 528.4 427.4 529.1 430.7 529.7 433.8 530.4 436.7 531.1 439.4 531.8 441.8 532.5 444 533.2 446 533.8 447.8 534.5 449.4 535.2 450.7 535.9 451.8 536.6 452.8 537.3 453.7 538 454.4 538.6 455 539.3 455.5 540 455.9 540.7 456.1 541.4 456.3 542.1 456.3 542.7 456.4 543.4 456.3 544.1 456.2 544.8 456.1 545.5 456 546.2 455.9 546.8 455.8 547.5 455.7 548.2 455.6 548.9 455.6 549.6 455.6 550.3 455.7 551 455.8 551.6 455.9 552.3 456.1 553 456.4 553.7 456.6 554.4 456.9 555.1 457.2 555.7 457.4 556.4 457.7 557.1 457.9 557.8 458.1 558.5 458.3 559.2 458.5 559.9 458.6 560.5 458.7 561.2 458.7 561.9 458.8 562.6 458.8 563.3 458.8 564 458.8 564.6 458.7 565.3 458.7 566 458.7 566.7 458.7 567.4 458.7 568.1 458.8 568.8 458.9 569.4 459 570.1 459.2 570.8 459.4 571.5 459.7 572.2 460 572.9 460.4 573.5 460.8 574.2 461.2 574.9 461.7 575.6 462.1 576.3 462.6 577 463.1 577.7 463.6 578.3 464.1 579 464.5 579.7 464.9 580.4 465.2 581.1 465.5 581.8 465.7 582.4 465.9 583.1 465.9 583.8 466 584.5 465.9 585.2 465.7 585.9 465.5 586.6 465.2 587.2 464.9 587.9 464.5 588.6 464.1 589.3 463.6 590 463.1 590.7 462.6 591.3 462.1 592 461.6 592.7 461.1 593.4 460.7 594.1 460.3 594.8 459.9 595.4 459.6 596.1 459.4 596.8 459.2 597.5 459.1 598.2 459 598.9 459.1 599.6 459.2 600.2 459.3 600.9 459.5 601.6 459.7 602.3 460 603 460.3 603.7 460.6 604.3 461 605 461.3 605.7 461.6 606.4 462 607.1 462.2 607.8 462.5 608.5 462.7 609.1 462.9 609.8 463.1 610.5 463.2 611.2 463.3 611.9 463.4 612.6 463.4 613.2 463.4 613.9 463.4 614.6 463.4 615.3 463.3 616 463.3 616.7 463.3 617.4 463.3 618 463.3 618.7 463.3 619.4 463.4 620.1 463.5 620.8 463.6 621.5 463.7 622.1 463.9 622.8 464.2 623.5 464.4 624.2 464.7 624.9 465 625.6 465.3 626.3 465.6 626.9 465.8 627.6 466.1 628.3 466.4 629 466.6 629.7 466.7 630.4 466.8 631 466.9 631.7 466.9 632.4 466.8 633.1 466.7 633.8 466.5 634.5 466.3 635.1 466 635.8 465.6 636.5 465.2 637.2 464.7 637.9 464.2 638.6 463.7 639.3 463.2 639.9 462.6 640.6 462.1 641.3 461.6 642 461.1 642.7 460.7 643.4 460.3 644 460 644.7 459.8 645.4 459.6 646.1 459.5 646.8 459.5 647.5 459.5 648.2 459.6 648.8 459.8 649.5 460.1 650.2 460.4 650.9 460.8 651.6 461.1 652.3 461.6 652.9 462 653.6 462.5 654.3 462.9 655 463.2" fill="none" stroke="#ee8468" stroke-width="1.55" stroke-opacity="0.92" stroke-linejoin="round"/>
<path d="M429.8 525L430.5 525 431.2 525 431.9 525 432.5 524.9 433.2 524.9 433.9 524.9 434.6 524.8 435.3 524.8 436 524.8 436.6 524.7 437.3 524.7 438 524.6 438.7 524.6 439.4 524.6 440.1 524.5 440.8 524.5 441.4 524.4 442.1 524.4 442.8 524.4 443.5 524.3 444.2 524.3 444.9 524.2 445.5 524.2 446.2 524.1 446.9 524.1 447.6 524 448.3 524 449 523.9 449.7 523.9 450.3 523.8 451 523.8 451.7 523.7 452.4 523.7 453.1 523.6 453.8 523.5 454.4 523.5 455.1 523.5 455.8 523.4 456.5 523.4 457.2 523.3 457.9 523.3 458.5 523.2 459.2 523.2 459.9 523.1 460.6 523.1 461.3 523 462 523 462.7 522.9 463.3 522.9 464 522.8 464.7 522.7 465.4 522.7 466.1 522.6 466.8 522.5 467.4 522.5 468.1 522.4 468.8 522.3 469.5 522.2 470.2 522.1 470.9 522 471.6 521.8 472.2 521.7 472.9 521.6 473.6 521.4 474.3 521.3 475 520.9 475.7 520.1 476.3 519 477 517.4 477.7 515.5 478.4 513.3 479.1 510.8 479.8 508.1 480.5 505.1 481.1 501.9 481.8 498.6 482.5 495.2 483.2 491.6 483.9 488 484.6 484.4 485.2 480.7 485.9 477.1 486.6 473.5 487.3 470 488 466.7 488.7 463.4 489.4 460.2 490 456.9 490.7 453.5 491.4 450.1 492.1 446.5 492.8 442.9 493.5 439.3 494.1 435.7 494.8 432 495.5 428.4 496.2 424.7 496.9 421.1 497.6 417.6 498.2 414.1 498.9 410.7 499.6 407.3 500.3 404 501 400.7 501.7 397.3 502.4 393.8 503 390.3 503.7 386.8 504.4 383.3 505.1 380 505.8 376.8 506.5 373.7 507.1 370.9 507.8 368.3 508.5 366.1 509.2 364.2 509.9 362.6 510.6 361.2 511.3 360.1 511.9 359 512.6 357.9 513.3 357 514 356.1 514.7 355.3 515.4 354.7 516 354.1 516.7 353.8 517.4 353.6 518.1 353.9 518.8 354.6 519.5 355.6 520.2 357 520.8 358.6 521.5 360.4 522.2 362.4 522.9 364.7 523.6 367.1 524.3 369.8 524.9 372.7 525.6 375.9 526.3 379.1 527 382.6 527.7 386.2 528.4 389.8 529.1 393.5 529.7 397.2 530.4 400.9 531.1 404.6 531.8 408.1 532.5 411.4 533.2 414.6 533.8 417.6 534.5 420.3 535.2 422.9 535.9 425.1 536.6 427.2 537.3 429 538 430.6 538.6 432.1 539.3 433.3 540 434.4 540.7 435.3 541.4 436.3 542.1 437.2 542.7 438.1 543.4 439 544.1 439.9 544.8 440.8 545.5 441.6 546.2 442.4 546.8 443.2 547.5 444 548.2 444.7 548.9 445.5 549.6 446.2 550.3 446.8 551 447.5 551.6 448.1 552.3 448.6 553 449.1 553.7 449.5 554.4 449.7 555.1 449.9 555.7 450 556.4 450.1 557.1 450.1 557.8 450 558.5 449.9 559.2 449.8 559.9 449.7 560.5 449.6 561.2 449.4 561.9 449.3 562.6 449.2 563.3 449.1 564 449.1 564.6 449 565.3 449.1 566 449.1 566.7 449.2 567.4 449.3 568.1 449.5 568.8 449.7 569.4 449.9 570.1 450.1 570.8 450.3 571.5 450.5 572.2 450.7 572.9 450.9 573.5 451.1 574.2 451.3 574.9 451.4 575.6 451.5 576.3 451.5 577 451.6 577.7 451.5 578.3 451.5 579 451.4 579.7 451.3 580.4 451.2 581.1 451.1 581.8 450.9 582.4 450.8 583.1 450.6 583.8 450.5 584.5 450.4 585.2 450.4 585.9 450.4 586.6 450.4 587.2 450.5 587.9 450.6 588.6 450.8 589.3 451.1 590 451.4 590.7 451.8 591.3 452.2 592 452.7 592.7 453.2 593.4 453.7 594.1 454.3 594.8 454.9 595.4 455.5 596.1 456 596.8 456.6 597.5 457.1 598.2 457.6 598.9 458 599.6 458.3 600.2 458.6 600.9 458.9 601.6 459 602.3 459.1 603 459.1 603.7 459 604.3 458.9 605 458.7 605.7 458.5 606.4 458.2 607.1 457.8 607.8 457.4 608.5 457 609.1 456.6 609.8 456.2 610.5 455.8 611.2 455.5 611.9 455.1 612.6 454.8 613.2 454.5 613.9 454.3 614.6 454.1 615.3 454 616 453.9 616.7 453.9 617.4 453.9 618 454 618.7 454.1 619.4 454.2 620.1 454.4 620.8 454.6 621.5 454.8 622.1 454.9 622.8 455.1 623.5 455.3 624.2 455.5 624.9 455.6 625.6 455.7 626.3 455.8 626.9 455.8 627.6 455.8 628.3 455.8 629 455.8 629.7 455.7 630.4 455.7 631 455.6 631.7 455.5 632.4 455.4 633.1 455.3 633.8 455.2 634.5 455.2 635.1 455.1 635.8 455.2 636.5 455.2 637.2 455.3 637.9 455.5 638.6 455.6 639.3 455.9 639.9 456.2 640.6 456.5 641.3 456.9 642 457.3 642.7 457.7 643.4 458.1 644 458.5 644.7 459 645.4 459.4 646.1 459.8 646.8 460.1 647.5 460.4 648.2 460.7 648.8 460.9 649.5 461 650.2 461.1 650.9 461.1 651.6 461 652.3 460.9 652.9 460.7 653.6 460.4 654.3 460.1 655 459.9" fill="none" stroke="#e57058" stroke-width="1.55" stroke-opacity="0.92" stroke-linejoin="round"/>
<path d="M429.8 513.9L430.5 513.9 431.2 513.9 431.9 513.9 432.5 513.8 433.2 513.8 433.9 513.8 434.6 513.7 435.3 513.7 436 513.7 436.6 513.7 437.3 513.6 438 513.6 438.7 513.6 439.4 513.5 440.1 513.5 440.8 513.5 441.4 513.4 442.1 513.4 442.8 513.3 443.5 513.3 444.2 513.3 444.9 513.2 445.5 513.2 446.2 513.1 446.9 513.1 447.6 513.1 448.3 513 449 513 449.7 512.9 450.3 512.9 451 512.8 451.7 512.8 452.4 512.8 453.1 512.7 453.8 512.7 454.4 512.6 455.1 512.6 455.8 512.5 456.5 512.5 457.2 512.4 457.9 512.4 458.5 512.4 459.2 512.3 459.9 512.3 460.6 512.2 461.3 512.2 462 512.2 462.7 512.1 463.3 512.1 464 512.1 464.7 512 465.4 512 466.1 511.9 466.8 511.9 467.4 511.8 468.1 511.8 468.8 511.7 469.5 511.7 470.2 511.6 470.9 511.6 471.6 511.5 472.2 511.4 472.9 511.4 473.6 511.3 474.3 511.2 475 511.1 475.7 511 476.3 510.9 477 510.8 477.7 510.7 478.4 510.6 479.1 510.5 479.8 510.4 480.5 510.2 481.1 509.9 481.8 509.3 482.5 508.2 483.2 506.8 483.9 505 484.6 502.9 485.2 500.6 485.9 497.9 486.6 495 487.3 492 488 488.7 488.7 485.4 489.4 481.9 490 478.3 490.7 474.7 491.4 471.1 492.1 467.6 492.8 464 493.5 460.6 494.1 457.2 494.8 454 495.5 450.8 496.2 447.6 496.9 444.3 497.6 440.9 498.2 437.5 498.9 433.9 499.6 430.4 500.3 426.8 501 423.2 501.7 419.6 502.4 416 503 412.5 503.7 408.9 504.4 405.5 505.1 402.1 505.8 398.8 506.5 395.5 507.1 392.2 507.8 388.9 508.5 385.5 509.2 382 509.9 378.6 510.6 375.1 511.3 371.8 511.9 368.5 512.6 365.5 513.3 362.6 514 359.9 514.7 357.6 515.4 355.6 516 353.9 516.7 352.4 517.4 351.2 518.1 350.2 518.8 349.1 519.5 348.2 520.2 347.3 520.8 346.5 521.5 345.8 522.2 345.2 522.9 344.7 523.6 344.4 524.3 344.2 524.9 344.4 525.6 344.8 526.3 345.4 527 346.2 527.7 347.2 528.4 348.3 529.1 349.7 529.7 351.2 530.4 352.9 531.1 354.8 531.8 357 532.5 359.3 533.2 361.9 533.8 364.6 534.5 367.6 535.2 370.7 535.9 373.9 536.6 377.2 537.3 380.6 538 384.1 538.6 387.5 539.3 390.9 540 394.3 540.7 397.6 541.4 400.7 542.1 403.7 542.7 406.5 543.4 409.2 544.1 411.6 544.8 413.9 545.5 415.9 546.2 417.8 546.8 419.4 547.5 420.9 548.2 422.2 548.9 423.3 549.6 424.4 550.3 425.4 551 426.4 551.6 427.4 552.3 428.3 553 429.2 553.7 429.9 554.4 430.6 555.1 431.2 555.7 431.7 556.4 432.1 557.1 432.5 557.8 432.7 558.5 433 559.2 433.1 559.9 433.2 560.5 433.2 561.2 433.2 561.9 433.1 562.6 433.1 563.3 433 564 432.9 564.6 432.9 565.3 432.8 566 432.8 566.7 432.9 567.4 432.9 568.1 433.1 568.8 433.2 569.4 433.5 570.1 433.7 570.8 434.1 571.5 434.4 572.2 434.9 572.9 435.3 573.5 435.8 574.2 436.4 574.9 436.9 575.6 437.5 576.3 438.1 577 438.7 577.7 439.3 578.3 439.8 579 440.4 579.7 440.9 580.4 441.4 581.1 441.9 581.8 442.3 582.4 442.7 583.1 443 583.8 443.3 584.5 443.5 585.2 443.7 585.9 443.9 586.6 444 587.2 444.1 587.9 444.2 588.6 444.3 589.3 444.3 590 444.3 590.7 444.4 591.3 444.4 592 444.4 592.7 444.4 593.4 444.5 594.1 444.6 594.8 444.6 595.4 444.7 596.1 444.8 596.8 445 597.5 445.1 598.2 445.2 598.9 445.4 599.6 445.5 600.2 445.7 600.9 445.8 601.6 445.9 602.3 446 603 446.1 603.7 446.1 604.3 446.1 605 446.1 605.7 446 606.4 445.9 607.1 445.8 607.8 445.7 608.5 445.5 609.1 445.3 609.8 445.1 610.5 444.9 611.2 444.6 611.9 444.4 612.6 444.2 613.2 444 613.9 443.8 614.6 443.7 615.3 443.6 616 443.5 616.7 443.4 617.4 443.5 618 443.5 618.7 443.7 619.4 443.8 620.1 444.1 620.8 444.4 621.5 444.7 622.1 445.1 622.8 445.5 623.5 445.9 624.2 446.4 624.9 446.8 625.6 447.3 626.3 447.8 626.9 448.2 627.6 448.7 628.3 449.1 629 449.5 629.7 449.8 630.4 450.1 631 450.4 631.7 450.6 632.4 450.7 633.1 450.8 633.8 450.9 634.5 450.9 635.1 450.8 635.8 450.7 636.5 450.6 637.2 450.5 637.9 450.3 638.6 450.1 639.3 449.9 639.9 449.6 640.6 449.4 641.3 449.2 642 449 642.7 448.9 643.4 448.7 644 448.6 644.7 448.4 645.4 448.4 646.1 448.3 646.8 448.3 647.5 448.2 648.2 448.2 648.8 448.3 649.5 448.3 650.2 448.3 650.9 448.3 651.6 448.4 652.3 448.4 652.9 448.4 653.6 448.4 654.3 448.4 655 448.3" fill="none" stroke="#dc5d4a" stroke-width="1.55" stroke-opacity="0.92" stroke-linejoin="round"/>
<path d="M429.8 502.8L430.5 502.8 431.2 502.8 431.9 502.7 432.5 502.7 433.2 502.7 433.9 502.7 434.6 502.6 435.3 502.6 436 502.6 436.6 502.5 437.3 502.5 438 502.5 438.7 502.4 439.4 502.4 440.1 502.4 440.8 502.3 441.4 502.3 442.1 502.3 442.8 502.2 443.5 502.2 444.2 502.2 444.9 502.1 445.5 502.1 446.2 502.1 446.9 502 447.6 502 448.3 501.9 449 501.9 449.7 501.9 450.3 501.8 451 501.8 451.7 501.7 452.4 501.7 453.1 501.6 453.8 501.6 454.4 501.6 455.1 501.5 455.8 501.5 456.5 501.4 457.2 501.4 457.9 501.3 458.5 501.3 459.2 501.3 459.9 501.2 460.6 501.2 461.3 501.2 462 501.1 462.7 501.1 463.3 501 464 501 464.7 501 465.4 500.9 466.1 500.9 466.8 500.8 467.4 500.8 468.1 500.8 468.8 500.7 469.5 500.7 470.2 500.6 470.9 500.6 471.6 500.5 472.2 500.5 472.9 500.4 473.6 500.3 474.3 500.3 475 500.2 475.7 500.1 476.3 500 477 499.9 477.7 499.9 478.4 499.8 479.1 499.7 479.8 499.6 480.5 499.4 481.1 499.3 481.8 499.2 482.5 499 483.2 498.7 483.9 497.9 484.6 496.8 485.2 495.3 485.9 493.5 486.6 491.3 487.3 488.9 488 486.3 488.7 483.4 489.4 480.4 490 477.2 490.7 473.9 491.4 470.4 492.1 467 492.8 463.4 493.5 459.9 494.1 456.4 494.8 452.9 495.5 449.5 496.2 446.2 496.9 443 497.6 439.9 498.2 436.8 498.9 433.5 499.6 430.2 500.3 426.8 501 423.4 501.7 419.9 502.4 416.4 503 412.8 503.7 409.3 504.4 405.8 505.1 402.3 505.8 398.8 506.5 395.4 507.1 392 507.8 388.8 508.5 385.5 509.2 382.3 509.9 379.1 510.6 375.8 511.3 372.4 511.9 369 512.6 365.6 513.3 362.3 514 359 514.7 355.9 515.4 353 516 350.3 516.7 347.8 517.4 345.7 518.1 343.8 518.8 342.3 519.5 341 520.2 339.9 520.8 338.9 521.5 337.9 522.2 337 522.9 336.2 523.6 335.4 524.3 334.8 524.9 334.2 525.6 333.8 526.3 333.5 527 333.3 527.7 333.3 528.4 333.5 529.1 333.8 529.7 334.2 530.4 334.6 531.1 335.2 531.8 335.9 532.5 336.7 533.2 337.7 533.8 338.8 534.5 340.1 535.2 341.6 535.9 343.2 536.6 345 537.3 347 538 349.1 538.6 351.5 539.3 354 540 356.6 540.7 359.3 541.4 362.1 542.1 365 542.7 367.8 543.4 370.8 544.1 373.7 544.8 376.6 545.5 379.4 546.2 382.2 546.8 384.8 547.5 387.4 548.2 389.8 548.9 392 549.6 394 550.3 395.9 551 397.6 551.6 399.1 552.3 400.5 553 401.6 553.7 402.6 554.4 403.5 555.1 404.4 555.7 405.3 556.4 406.3 557.1 407.2 557.8 408 558.5 408.8 559.2 409.5 559.9 410.1 560.5 410.6 561.2 411.2 561.9 411.7 562.6 412.1 563.3 412.6 564 413.1 564.6 413.5 565.3 414 566 414.5 566.7 415 567.4 415.6 568.1 416.1 568.8 416.7 569.4 417.2 570.1 417.7 570.8 418.3 571.5 418.8 572.2 419.3 572.9 419.7 573.5 420.2 574.2 420.6 574.9 420.9 575.6 421.2 576.3 421.5 577 421.7 577.7 421.9 578.3 422.1 579 422.2 579.7 422.3 580.4 422.4 581.1 422.4 581.8 422.5 582.4 422.6 583.1 422.6 583.8 422.7 584.5 422.8 585.2 423 585.9 423.1 586.6 423.4 587.2 423.6 587.9 424 588.6 424.3 589.3 424.8 590 425.2 590.7 425.7 591.3 426.3 592 426.9 592.7 427.5 593.4 428.2 594.1 428.8 594.8 429.5 595.4 430.1 596.1 430.8 596.8 431.4 597.5 432 598.2 432.5 598.9 433 599.6 433.4 600.2 433.8 600.9 434.1 601.6 434.4 602.3 434.6 603 434.7 603.7 434.7 604.3 434.8 605 434.7 605.7 434.6 606.4 434.5 607.1 434.3 607.8 434.2 608.5 434 609.1 433.8 609.8 433.6 610.5 433.4 611.2 433.2 611.9 433.1 612.6 433 613.2 432.9 613.9 432.9 614.6 432.9 615.3 432.9 616 433 616.7 433.1 617.4 433.2 618 433.4 618.7 433.6 619.4 433.8 620.1 434 620.8 434.2 621.5 434.4 622.1 434.6 622.8 434.8 623.5 434.9 624.2 435.1 624.9 435.2 625.6 435.3 626.3 435.3 626.9 435.4 627.6 435.4 628.3 435.3 629 435.3 629.7 435.2 630.4 435.1 631 435 631.7 435 632.4 434.9 633.1 434.8 633.8 434.8 634.5 434.8 635.1 434.8 635.8 434.9 636.5 435 637.2 435.1 637.9 435.3 638.6 435.6 639.3 435.8 639.9 436.2 640.6 436.5 641.3 436.9 642 437.3 642.7 437.8 643.4 438.2 644 438.6 644.7 439.1 645.4 439.5 646.1 439.9 646.8 440.2 647.5 440.5 648.2 440.8 648.8 441 649.5 441.2 650.2 441.3 650.9 441.3 651.6 441.2 652.3 441.1 652.9 441 653.6 440.8 654.3 440.6 655 440.4" fill="none" stroke="#d0473d" stroke-width="1.55" stroke-opacity="0.92" stroke-linejoin="round"/>
<path d="M429.8 491.6L430.5 491.6 431.2 491.5 431.9 491.4 432.5 491.4 433.2 491.3 433.9 491.2 434.6 491.2 435.3 491.1 436 491 436.6 490.9 437.3 490.8 438 490.8 438.7 490.7 439.4 490.6 440.1 490.5 440.8 490.4 441.4 490.3 442.1 490.2 442.8 490.1 443.5 490 444.2 489.9 444.9 489.8 445.5 489.7 446.2 489.6 446.9 489.4 447.6 489.3 448.3 489.2 449 489.1 449.7 489 450.3 488.9 451 488.7 451.7 488.6 452.4 488.5 453.1 488.4 453.8 488.2 454.4 488.1 455.1 488 455.8 487.8 456.5 487.7 457.2 487.5 457.9 487.4 458.5 487.2 459.2 487.1 459.9 486.9 460.6 486.7 461.3 486.6 462 486.4 462.7 486.2 463.3 486 464 485.8 464.7 485.7 465.4 485.5 466.1 485.3 466.8 485 467.4 484.8 468.1 484.6 468.8 484.3 469.5 484.1 470.2 483.8 470.9 483.5 471.6 483.2 472.2 482.9 472.9 482.5 473.6 482.2 474.3 481.8 475 481.4 475.7 481 476.3 480.6 477 480.2 477.7 479.7 478.4 479.2 479.1 478.7 479.8 478.1 480.5 477.5 481.1 476.8 481.8 476.1 482.5 475.4 483.2 474.5 483.9 473.5 484.6 472.2 485.2 470.6 485.9 468.9 486.6 467 487.3 464.9 488 462.7 488.7 460.3 489.4 457.9 490 455.3 490.7 452.7 491.4 450 492.1 447.3 492.8 444.5 493.5 441.8 494.1 439 494.8 436.2 495.5 433.5 496.2 430.8 496.9 428.2 497.6 425.6 498.2 423 498.9 420.3 499.6 417.6 500.3 414.8 501 412 501.7 409.2 502.4 406.3 503 403.3 503.7 400.4 504.4 397.4 505.1 394.5 505.8 391.5 506.5 388.5 507.1 385.6 507.8 382.6 508.5 379.6 509.2 376.6 509.9 373.5 510.6 370.4 511.3 367.3 511.9 364.1 512.6 360.9 513.3 357.7 514 354.6 514.7 351.5 515.4 348.6 516 345.8 516.7 343.2 517.4 340.7 518.1 338.5 518.8 336.3 519.5 334.4 520.2 332.6 520.8 330.9 521.5 329.3 522.2 327.9 522.9 326.7 523.6 325.7 524.3 324.9 524.9 324.2 525.6 323.7 526.3 323.3 527 323 527.7 322.8 528.4 322.7 529.1 322.7 529.7 322.8 530.4 323 531.1 323.2 531.8 323.5 532.5 323.8 533.2 324.2 533.8 324.6 534.5 325.2 535.2 325.9 535.9 326.7 536.6 327.6 537.3 328.7 538 329.9 538.6 331.3 539.3 332.9 540 334.6 540.7 336.5 541.4 338.6 542.1 340.8 542.7 343.2 543.4 345.8 544.1 348.4 544.8 351.1 545.5 353.9 546.2 356.6 546.8 359.3 547.5 362 548.2 364.6 548.9 367.1 549.6 369.5 550.3 371.7 551 373.8 551.6 375.8 552.3 377.6 553 379.2 553.7 380.7 554.4 382 555.1 383.2 555.7 384.2 556.4 385.1 557.1 385.9 557.8 386.7 558.5 387.5 559.2 388.5 559.9 389.5 560.5 390.5 561.2 391.5 561.9 392.4 562.6 393.2 563.3 394 564 394.7 564.6 395.4 565.3 396 566 396.6 566.7 397.2 567.4 397.7 568.1 398.2 568.8 398.7 569.4 399.1 570.1 399.6 570.8 400 571.5 400.5 572.2 401 572.9 401.4 573.5 401.9 574.2 402.4 574.9 403 575.6 403.6 576.3 404.2 577 404.8 577.7 405.4 578.3 406.1 579 406.8 579.7 407.5 580.4 408.2 581.1 408.9 581.8 409.6 582.4 410.3 583.1 411 583.8 411.6 584.5 412.2 585.2 412.8 585.9 413.3 586.6 413.8 587.2 414.2 587.9 414.6 588.6 414.9 589.3 415.1 590 415.3 590.7 415.4 591.3 415.4 592 415.4 592.7 415.4 593.4 415.3 594.1 415.2 594.8 415.1 595.4 414.9 596.1 414.8 596.8 414.6 597.5 414.4 598.2 414.3 598.9 414.2 599.6 414.1 600.2 414.1 600.9 414.1 601.6 414.1 602.3 414.2 603 414.3 603.7 414.4 604.3 414.6 605 414.9 605.7 415.1 606.4 415.4 607.1 415.8 607.8 416.1 608.5 416.5 609.1 416.8 609.8 417.2 610.5 417.5 611.2 417.9 611.9 418.2 612.6 418.5 613.2 418.8 613.9 419.1 614.6 419.3 615.3 419.5 616 419.7 616.7 419.9 617.4 420 618 420.1 618.7 420.2 619.4 420.3 620.1 420.4 620.8 420.5 621.5 420.6 622.1 420.7 622.8 420.9 623.5 421 624.2 421.2 624.9 421.3 625.6 421.6 626.3 421.8 626.9 422 627.6 422.3 628.3 422.6 629 422.9 629.7 423.2 630.4 423.5 631 423.8 631.7 424.1 632.4 424.4 633.1 424.7 633.8 424.9 634.5 425.1 635.1 425.3 635.8 425.4 636.5 425.5 637.2 425.5 637.9 425.5 638.6 425.4 639.3 425.3 639.9 425.2 640.6 424.9 641.3 424.7 642 424.4 642.7 424.1 643.4 423.7 644 423.4 644.7 423.1 645.4 422.7 646.1 422.4 646.8 422.1 647.5 421.8 648.2 421.5 648.8 421.3 649.5 421.1 650.2 421 650.9 421 651.6 421 652.3 421 652.9 421.1 653.6 421.2 654.3 421.4 655 421.5" fill="none" stroke="#c32e31" stroke-width="1.55" stroke-opacity="0.92" stroke-linejoin="round"/>
<path d="M429.8 480.6L430.5 480.5 431.2 480.5 431.9 480.4 432.5 480.3 433.2 480.2 433.9 480.1 434.6 480 435.3 479.9 436 479.7 436.6 479.6 437.3 479.5 438 479.3 438.7 479.2 439.4 479.1 440.1 478.9 440.8 478.8 441.4 478.6 442.1 478.5 442.8 478.3 443.5 478.1 444.2 478 444.9 477.8 445.5 477.6 446.2 477.4 446.9 477.3 447.6 477.1 448.3 476.9 449 476.7 449.7 476.5 450.3 476.3 451 476.1 451.7 476 452.4 475.8 453.1 475.6 453.8 475.3 454.4 475.1 455.1 474.9 455.8 474.7 456.5 474.5 457.2 474.2 457.9 474 458.5 473.7 459.2 473.5 459.9 473.2 460.6 472.9 461.3 472.7 462 472.4 462.7 472.1 463.3 471.8 464 471.5 464.7 471.1 465.4 470.8 466.1 470.4 466.8 470.1 467.4 469.7 468.1 469.3 468.8 468.9 469.5 468.5 470.2 468.1 470.9 467.6 471.6 467.1 472.2 466.6 472.9 466 473.6 465.4 474.3 464.8 475 464.2 475.7 463.5 476.3 462.8 477 462.1 477.7 461.4 478.4 460.6 479.1 459.8 479.8 458.9 480.5 457.9 481.1 456.9 481.8 455.8 482.5 454.6 483.2 453.4 483.9 452.1 484.6 450.7 485.2 449.1 485.9 447.5 486.6 445.8 487.3 444.1 488 442.2 488.7 440.4 489.4 438.4 490 436.5 490.7 434.5 491.4 432.5 492.1 430.4 492.8 428.4 493.5 426.4 494.1 424.3 494.8 422.3 495.5 420.2 496.2 418.2 496.9 416.1 497.6 414 498.2 411.9 498.9 409.8 499.6 407.7 500.3 405.6 501 403.4 501.7 401.1 502.4 398.9 503 396.6 503.7 394.2 504.4 391.9 505.1 389.5 505.8 387.1 506.5 384.6 507.1 382.1 507.8 379.6 508.5 377 509.2 374.4 509.9 371.6 510.6 368.8 511.3 365.9 511.9 362.9 512.6 359.9 513.3 356.8 514 353.8 514.7 350.8 515.4 347.8 516 344.9 516.7 342 517.4 339.3 518.1 336.7 518.8 334.2 519.5 331.7 520.2 329.2 520.8 326.8 521.5 324.4 522.2 322.1 522.9 319.9 523.6 318 524.3 316.3 524.9 315 525.6 314 526.3 313.3 527 312.8 527.7 312.4 528.4 312.1 529.1 311.9 529.7 311.7 530.4 311.7 531.1 311.7 531.8 311.8 532.5 311.8 533.2 311.9 533.8 312 534.5 312.2 535.2 312.4 535.9 312.6 536.6 312.9 537.3 313.3 538 313.7 538.6 314.2 539.3 314.9 540 315.6 540.7 316.5 541.4 317.5 542.1 318.6 542.7 319.9 543.4 321.3 544.1 322.9 544.8 324.6 545.5 326.4 546.2 328.4 546.8 330.5 547.5 332.6 548.2 334.9 548.9 337.3 549.6 339.7 550.3 342.2 551 344.7 551.6 347.2 552.3 349.6 553 352 553.7 354.3 554.4 356.5 555.1 358.6 555.7 360.6 556.4 362.4 557.1 364.1 557.8 365.6 558.5 367 559.2 368.3 559.9 369.3 560.5 370.3 561.2 371.1 561.9 371.9 562.6 372.8 563.3 373.8 564 374.9 564.6 376 565.3 377 566 378 566.7 378.9 567.4 379.8 568.1 380.7 568.8 381.6 569.4 382.4 570.1 383.3 570.8 384.1 571.5 384.9 572.2 385.7 572.9 386.5 573.5 387.3 574.2 388.1 574.9 388.9 575.6 389.7 576.3 390.4 577 391.1 577.7 391.8 578.3 392.4 579 393 579.7 393.5 580.4 394 581.1 394.4 581.8 394.8 582.4 395.1 583.1 395.3 583.8 395.5 584.5 395.6 585.2 395.7 585.9 395.7 586.6 395.7 587.2 395.7 587.9 395.6 588.6 395.5 589.3 395.4 590 395.3 590.7 395.2 591.3 395.2 592 395.1 592.7 395.1 593.4 395.1 594.1 395.2 594.8 395.3 595.4 395.4 596.1 395.6 596.8 395.9 597.5 396.2 598.2 396.5 598.9 396.9 599.6 397.4 600.2 397.9 600.9 398.4 601.6 399 602.3 399.5 603 400.1 603.7 400.7 604.3 401.3 605 401.9 605.7 402.5 606.4 403 607.1 403.5 607.8 404 608.5 404.5 609.1 404.9 609.8 405.3 610.5 405.7 611.2 406 611.9 406.3 612.6 406.5 613.2 406.8 613.9 407 614.6 407.2 615.3 407.3 616 407.5 616.7 407.7 617.4 407.8 618 408 618.7 408.1 619.4 408.3 620.1 408.4 620.8 408.6 621.5 408.8 622.1 409 622.8 409.1 623.5 409.3 624.2 409.5 624.9 409.7 625.6 409.8 626.3 410 626.9 410.1 627.6 410.2 628.3 410.3 629 410.4 629.7 410.4 630.4 410.4 631 410.3 631.7 410.2 632.4 410.1 633.1 409.9 633.8 409.7 634.5 409.5 635.1 409.2 635.8 408.9 636.5 408.7 637.2 408.4 637.9 408.1 638.6 407.8 639.3 407.5 639.9 407.2 640.6 407 641.3 406.8 642 406.6 642.7 406.5 643.4 406.5 644 406.5 644.7 406.6 645.4 406.7 646.1 406.9 646.8 407.1 647.5 407.4 648.2 407.7 648.8 408.1 649.5 408.5 650.2 409 650.9 409.4 651.6 409.9 652.3 410.4 652.9 410.9 653.6 411.4 654.3 411.9 655 412.2" fill="none" stroke="#b40426" stroke-width="1.55" stroke-opacity="0.92" stroke-linejoin="round"/>
</g>
<line x1="429.7" y1="289.8" x2="429.7" y2="782.3" stroke="#000" stroke-width="1.3" stroke-dasharray="1.3 1.9"/>
<line x1="429.7" y1="782.3" x2="429.7" y2="785.8" stroke="#222" stroke-width="0.9"/>
<line x1="655.1" y1="289.8" x2="655.1" y2="782.3" stroke="#000" stroke-width="1.3" stroke-dasharray="1.3 1.9"/>
<line x1="655.1" y1="782.3" x2="655.1" y2="785.8" stroke="#222" stroke-width="0.9"/>
<rect x="418.5" y="289.8" width="248" height="492.5" fill="none" stroke="#222" stroke-width="1"/>
<line x1="415" y1="769" x2="418.5" y2="769" stroke="#222" stroke-width="0.9"/>
<text x="412" y="775.7" font-size="17.6" text-anchor="end" font-weight="normal" fill="#000" textLength="10.24" lengthAdjust="spacingAndGlyphs" >0</text>
<line x1="415" y1="678.58" x2="418.5" y2="678.58" stroke="#222" stroke-width="0.9"/>
<text x="412" y="685.28" font-size="17.6" text-anchor="end" font-weight="normal" fill="#000" textLength="10.24" lengthAdjust="spacingAndGlyphs" >1</text>
<line x1="415" y1="588.16" x2="418.5" y2="588.16" stroke="#222" stroke-width="0.9"/>
<text x="412" y="594.86" font-size="17.6" text-anchor="end" font-weight="normal" fill="#000" textLength="10.24" lengthAdjust="spacingAndGlyphs" >2</text>
<line x1="415" y1="497.74" x2="418.5" y2="497.74" stroke="#222" stroke-width="0.9"/>
<text x="412" y="504.44" font-size="17.6" text-anchor="end" font-weight="normal" fill="#000" textLength="10.24" lengthAdjust="spacingAndGlyphs" >3</text>
<line x1="415" y1="407.32" x2="418.5" y2="407.32" stroke="#222" stroke-width="0.9"/>
<text x="412" y="414.02" font-size="17.6" text-anchor="end" font-weight="normal" fill="#000" textLength="10.24" lengthAdjust="spacingAndGlyphs" >4</text>
<line x1="415" y1="316.9" x2="418.5" y2="316.9" stroke="#222" stroke-width="0.9"/>
<text x="412" y="323.6" font-size="17.6" text-anchor="end" font-weight="normal" fill="#000" textLength="10.24" lengthAdjust="spacingAndGlyphs" >5</text>
<text x="430.5" y="799.5" font-size="16.8" text-anchor="middle" font-weight="normal" fill="#000" >&#915;</text>
<text x="655.2" y="799.8" font-size="16.3" text-anchor="middle" font-weight="normal" fill="#000" textLength="22.3" lengthAdjust="spacingAndGlyphs" >K/3</text>
<text transform="translate(394.3 536) rotate(-90)" font-size="17" text-anchor="middle" textLength="109" lengthAdjust="spacingAndGlyphs">Im[<tspan font-style="italic">&#967;</tspan><tspan font-size="11" dy="3">0</tspan><tspan font-size="11" dx="-6" dy="-10">&#8869;</tspan><tspan dy="7">(</tspan><tspan font-weight="bold">q</tspan>, <tspan font-style="italic">&#969;</tspan>)]</text>
<rect x="529.5" y="654.5" width="130" height="120.6" rx="2.5" fill="#fff" stroke="#cfcfcf" stroke-width="0.9"/>
<line x1="534.2" y1="664.7" x2="561.8" y2="664.7" stroke="#b40426" stroke-width="1.8" stroke-opacity="0.92"/>
<text x="572.4" y="669.4" font-size="13.2" text-anchor="start" font-weight="normal" fill="#000" textLength="81.5" lengthAdjust="spacingAndGlyphs" ><tspan font-style="italic">&#969;</tspan> = 40 meV</text>
<line x1="534.2" y1="684.3" x2="561.8" y2="684.3" stroke="#ee8468" stroke-width="1.8" stroke-opacity="0.92"/>
<text x="572.4" y="689" font-size="13.2" text-anchor="start" font-weight="normal" fill="#000" textLength="81.5" lengthAdjust="spacingAndGlyphs" ><tspan font-style="italic">&#969;</tspan> = 32 meV</text>
<line x1="534.2" y1="704.2" x2="561.8" y2="704.2" stroke="#f2cbb7" stroke-width="1.8" stroke-opacity="0.92"/>
<text x="572.4" y="708.9" font-size="13.2" text-anchor="start" font-weight="normal" fill="#000" textLength="81.5" lengthAdjust="spacingAndGlyphs" ><tspan font-style="italic">&#969;</tspan> = 24 meV</text>
<line x1="534.2" y1="723.2" x2="561.8" y2="723.2" stroke="#c0d4f5" stroke-width="1.8" stroke-opacity="0.92"/>
<text x="572.4" y="727.9" font-size="13.2" text-anchor="start" font-weight="normal" fill="#000" textLength="81.5" lengthAdjust="spacingAndGlyphs" ><tspan font-style="italic">&#969;</tspan> = 16 meV</text>
<line x1="534.2" y1="743" x2="561.8" y2="743" stroke="#7b9ff9" stroke-width="1.8" stroke-opacity="0.92"/>
<text x="572.4" y="747.7" font-size="13.2" text-anchor="start" font-weight="normal" fill="#000" textLength="73.2" lengthAdjust="spacingAndGlyphs" ><tspan font-style="italic">&#969;</tspan> = 8 meV</text>
<line x1="534.2" y1="762.4" x2="561.8" y2="762.4" stroke="#3b4cc0" stroke-width="1.8" stroke-opacity="0.92"/>
<text x="572.4" y="767.1" font-size="13.2" text-anchor="start" font-weight="normal" fill="#000" textLength="73.2" lengthAdjust="spacingAndGlyphs" ><tspan font-style="italic">&#969;</tspan> = 0 meV</text>
<text x="378.9" y="295.8" font-size="28" text-anchor="start" font-weight="bold" fill="#000" textLength="15.6" lengthAdjust="spacingAndGlyphs" >d</text>
</svg>
</body></html>
